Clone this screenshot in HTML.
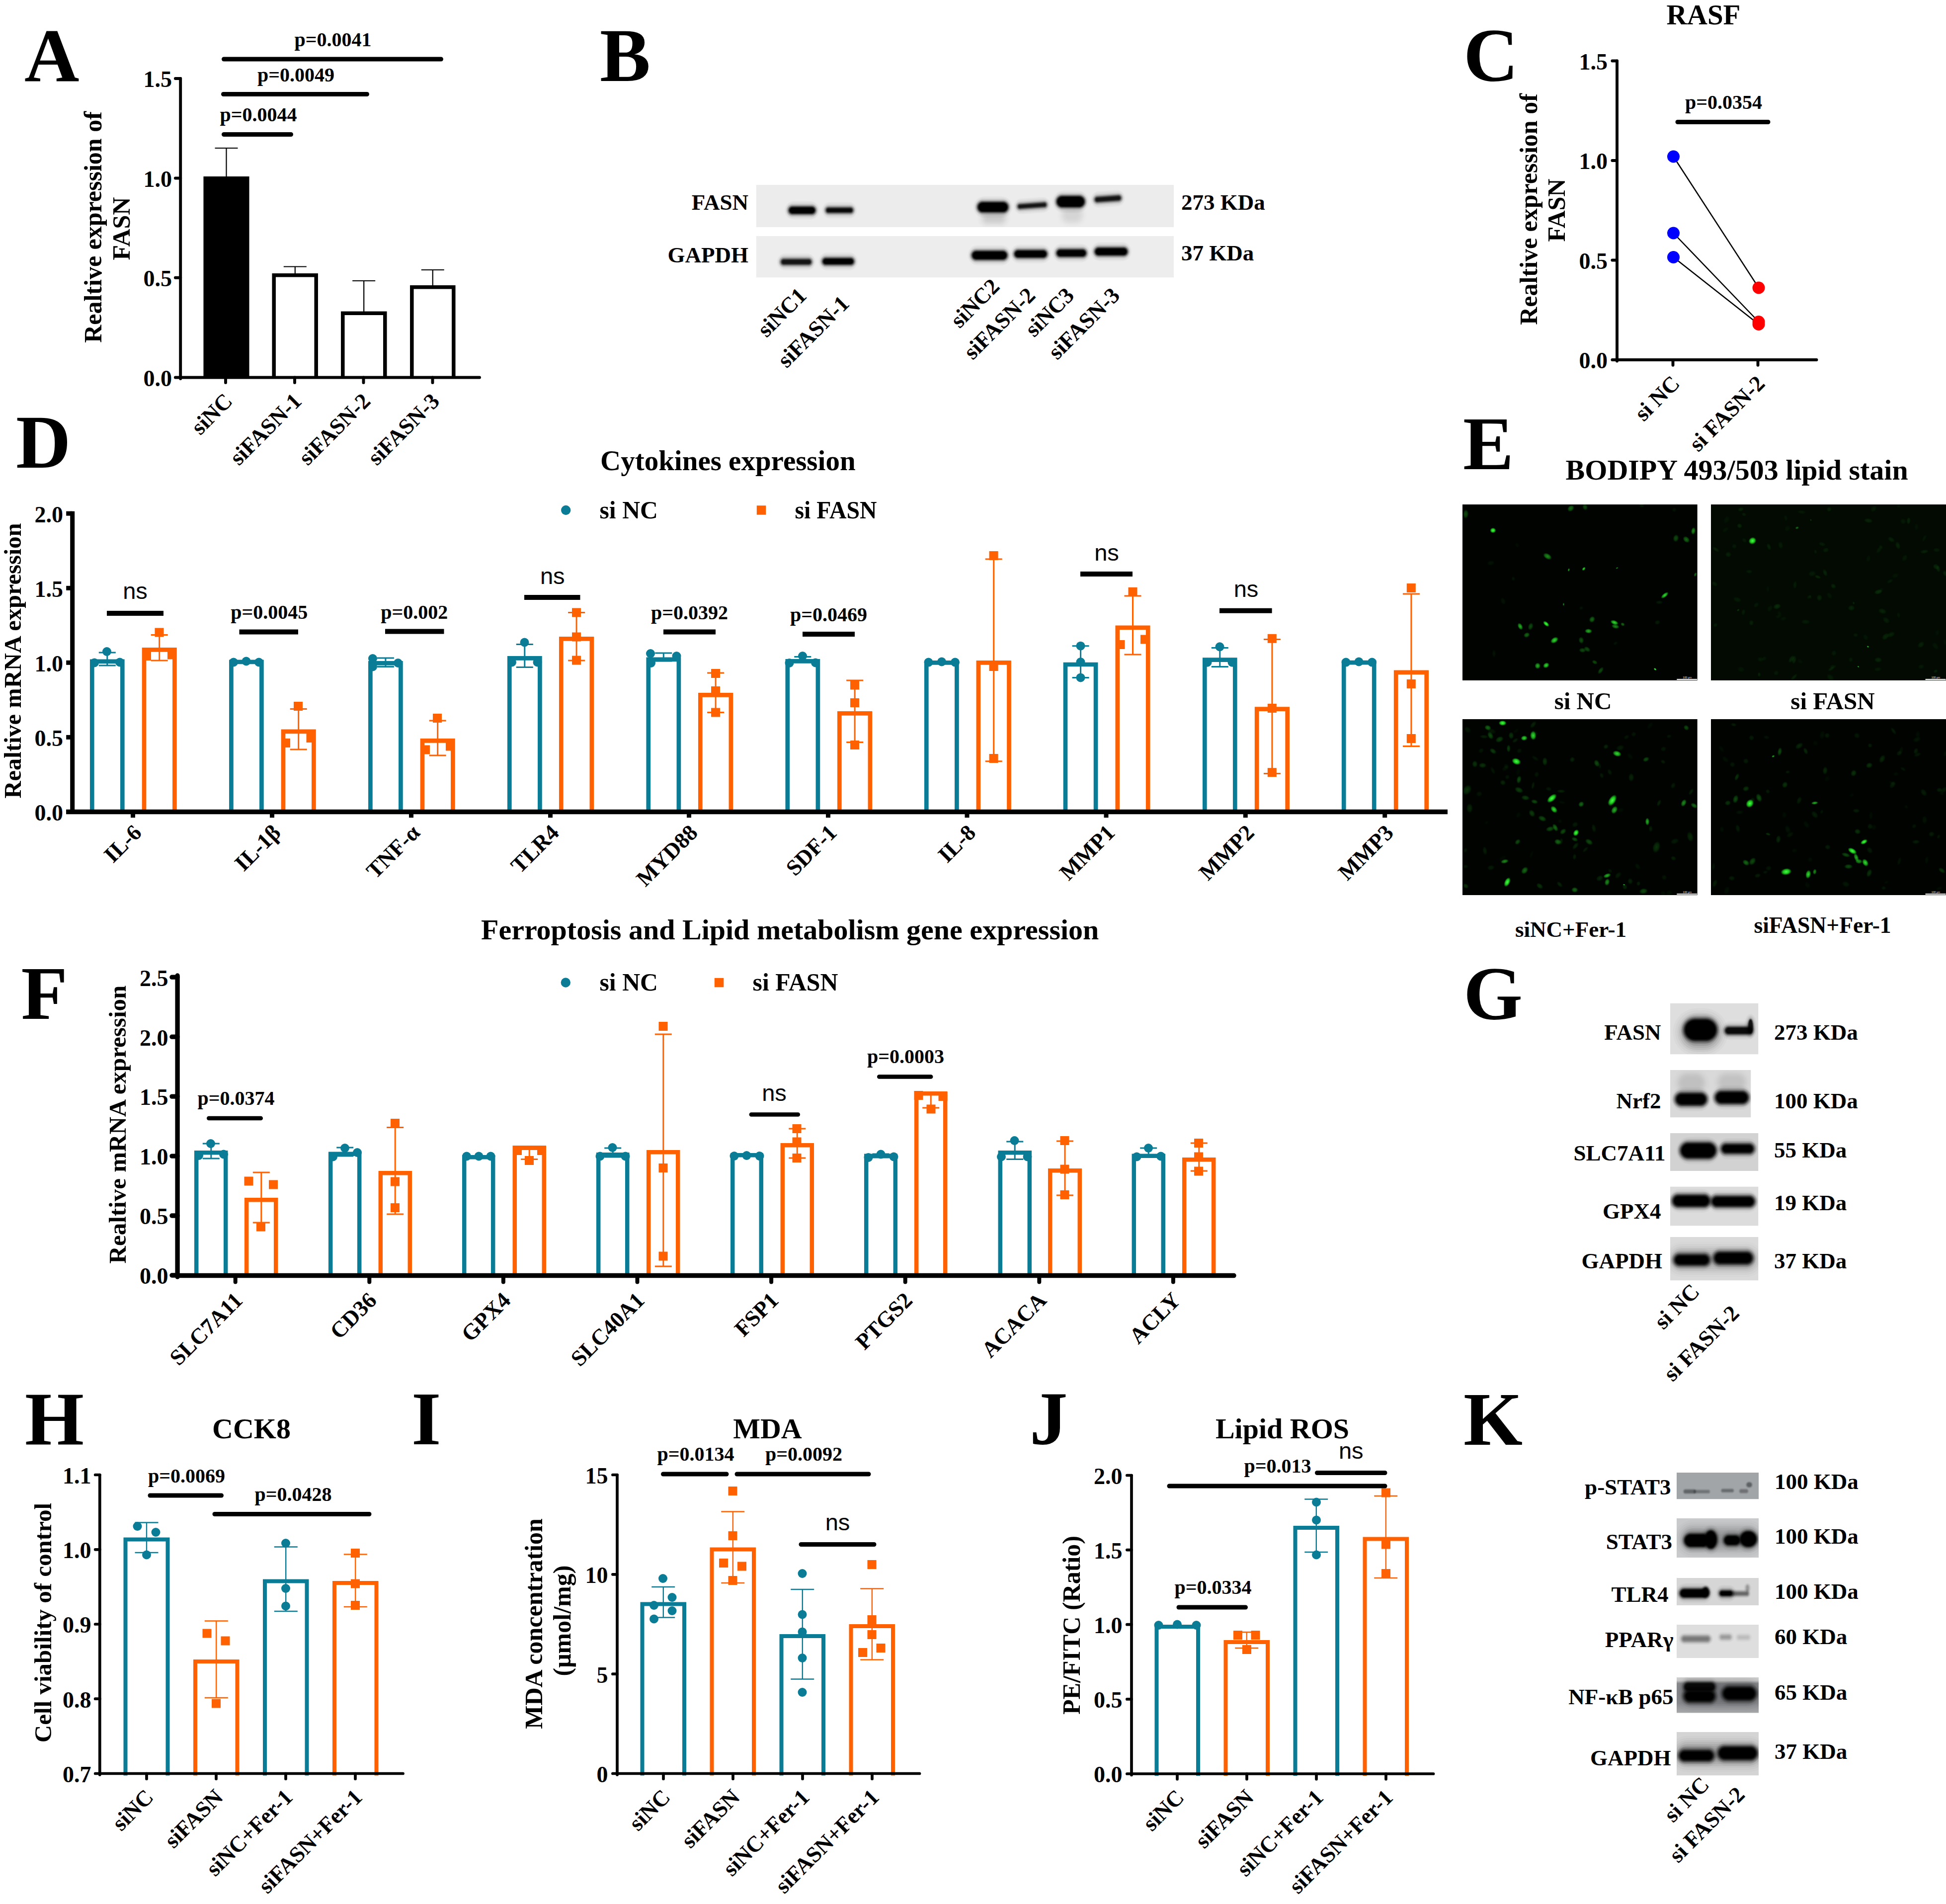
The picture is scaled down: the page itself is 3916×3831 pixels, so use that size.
<!DOCTYPE html>
<html lang="en">
<head>
<meta charset="utf-8">
<title>Figure: FASN knockdown in RASF</title>
<style>
html,body{margin:0;padding:0;background:#fff;}
body{width:3916px;height:3831px;overflow:hidden;}
svg{display:block;}
text.b{font-family:"Liberation Serif", "Times New Roman", serif;font-weight:bold;fill:#000;}
text.n{font-family:"Liberation Sans", Arial, sans-serif;font-weight:normal;fill:#000;}
</style>
</head>
<body>
<svg width="3916" height="3831" viewBox="0 0 3916 3831">
<defs>
<linearGradient id="gnf" x1="0" y1="0" x2="0" y2="1"><stop offset="0" stop-color="#d0d0d0"/><stop offset="0.09" stop-color="#cacaca"/><stop offset="0.17" stop-color="#8a8c8f"/><stop offset="0.72" stop-color="#8a8c8f"/><stop offset="1" stop-color="#a6a8aa"/></linearGradient>
<radialGradient id="cg"><stop offset="0" stop-color="#4dff4d" stop-opacity="1"/><stop offset="0.55" stop-color="#1fe01f" stop-opacity="0.85"/><stop offset="1" stop-color="#1fe01f" stop-opacity="0"/></radialGradient>
</defs>
<rect x="0" y="0" width="3916" height="3831" fill="#fff"/>
<text class="b" x="49.0" y="162.5" font-size="153">A</text>
<text class="b" x="1207.0" y="162.5" font-size="153">B</text>
<text class="b" x="2945.0" y="163.0" font-size="153">C</text>
<text class="b" x="32.0" y="941.0" font-size="153">D</text>
<text class="b" x="2944.0" y="943.5" font-size="153">E</text>
<text class="b" x="42.5" y="2049.6" font-size="153">F</text>
<text class="b" x="2945.0" y="2051.0" font-size="153">G</text>
<text class="b" x="50.0" y="2906.0" font-size="153">H</text>
<text class="b" x="828.0" y="2906.0" font-size="153">I</text>
<text class="b" x="2072.0" y="2906.0" font-size="153">J</text>
<text class="b" x="2945.0" y="2906.5" font-size="153">K</text>
<text class="b" x="203.5" y="457.0" font-size="50" text-anchor="middle" transform="rotate(-90 203.5 457.0)">Realtive expression of</text>
<text class="b" x="261.3" y="460.0" font-size="50" text-anchor="middle" transform="rotate(-90 261.3 460.0)">FASN</text>
<line x1="455.5" y1="298.0" x2="455.5" y2="357.0" stroke="#000" stroke-width="2.2"/>
<line x1="432.5" y1="298.0" x2="478.5" y2="298.0" stroke="#000" stroke-width="2.2"/>
<path d="M413.2 759.5V358.8H497.8V759.5" fill="#000" stroke="#000" stroke-width="7.5" stroke-linejoin="miter"/>
<line x1="593.8" y1="536.5" x2="593.8" y2="552.0" stroke="#000" stroke-width="2.2"/>
<line x1="570.8" y1="536.5" x2="616.8" y2="536.5" stroke="#000" stroke-width="2.2"/>
<path d="M551.2 759.5V553.8H636.2V759.5" fill="none" stroke="#000" stroke-width="7.5" stroke-linejoin="miter"/>
<line x1="732.2" y1="565.0" x2="732.2" y2="628.5" stroke="#000" stroke-width="2.2"/>
<line x1="709.2" y1="565.0" x2="755.2" y2="565.0" stroke="#000" stroke-width="2.2"/>
<path d="M689.8 759.5V630.2H774.8V759.5" fill="none" stroke="#000" stroke-width="7.5" stroke-linejoin="miter"/>
<line x1="870.8" y1="543.0" x2="870.8" y2="576.0" stroke="#000" stroke-width="2.2"/>
<line x1="847.8" y1="543.0" x2="893.8" y2="543.0" stroke="#000" stroke-width="2.2"/>
<path d="M828.8 759.5V577.8H912.8V759.5" fill="none" stroke="#000" stroke-width="7.5" stroke-linejoin="miter"/>
<line x1="363.2" y1="158.0" x2="363.2" y2="762.0" stroke="#000" stroke-width="5.9" stroke-linecap="round"/>
<line x1="352.9" y1="158.0" x2="363.2" y2="158.0" stroke="#000" stroke-width="5.9" stroke-linecap="round"/>
<text class="b" x="346.0" y="175.3" font-size="46" text-anchor="end">1.5</text>
<line x1="352.9" y1="358.5" x2="363.2" y2="358.5" stroke="#000" stroke-width="5.9" stroke-linecap="round"/>
<text class="b" x="346.0" y="375.8" font-size="46" text-anchor="end">1.0</text>
<line x1="352.9" y1="558.8" x2="363.2" y2="558.8" stroke="#000" stroke-width="5.9" stroke-linecap="round"/>
<text class="b" x="346.0" y="576.1" font-size="46" text-anchor="end">0.5</text>
<line x1="352.9" y1="759.5" x2="363.2" y2="759.5" stroke="#000" stroke-width="5.9" stroke-linecap="round"/>
<text class="b" x="346.0" y="776.8" font-size="46" text-anchor="end">0.0</text>
<line x1="363.2" y1="759.5" x2="965.0" y2="759.5" stroke="#000" stroke-width="5.9" stroke-linecap="round"/>
<line x1="454.0" y1="759.5" x2="454.0" y2="769.9" stroke="#000" stroke-width="5.9" stroke-linecap="round"/>
<line x1="593.0" y1="759.5" x2="593.0" y2="769.9" stroke="#000" stroke-width="5.9" stroke-linecap="round"/>
<line x1="731.5" y1="759.5" x2="731.5" y2="769.9" stroke="#000" stroke-width="5.9" stroke-linecap="round"/>
<line x1="870.5" y1="759.5" x2="870.5" y2="769.9" stroke="#000" stroke-width="5.9" stroke-linecap="round"/>
<line x1="450.5" y1="119.0" x2="887.5" y2="119.0" stroke="#000" stroke-width="9" stroke-linecap="round"/>
<text class="b" x="670.0" y="92.5" font-size="40" text-anchor="middle">p=0.0041</text>
<line x1="449.5" y1="189.5" x2="738.5" y2="189.5" stroke="#000" stroke-width="9" stroke-linecap="round"/>
<text class="b" x="595.5" y="163.5" font-size="40" text-anchor="middle">p=0.0049</text>
<line x1="450.5" y1="270.5" x2="585.5" y2="270.5" stroke="#000" stroke-width="9" stroke-linecap="round"/>
<text class="b" x="520.0" y="243.5" font-size="40" text-anchor="middle">p=0.0044</text>
<text class="b" x="470.3" y="809.8" font-size="45" text-anchor="end" transform="rotate(-45 470.3 809.8)">siNC</text>
<text class="b" x="609.3" y="809.8" font-size="45" text-anchor="end" transform="rotate(-45 609.3 809.8)">siFASN-1</text>
<text class="b" x="747.8" y="809.8" font-size="45" text-anchor="end" transform="rotate(-45 747.8 809.8)">siFASN-2</text>
<text class="b" x="886.8" y="809.8" font-size="45" text-anchor="end" transform="rotate(-45 886.8 809.8)">siFASN-3</text>
<svg x="1521.5" y="372.0" width="840.5" height="85.0" viewBox="1521.5 372.0 840.5 85.0">
<rect x="1521.5" y="372.0" width="840.5" height="85.0" fill="#ececec"/>
<g fill="#000"><rect x="1579.0" y="404.5" width="70.0" height="37.5" rx="18.8" fill-opacity="0.030"/><rect x="1581.1" y="407.5" width="65.8" height="31.5" rx="15.8" fill-opacity="0.045"/><rect x="1582.8" y="410.0" width="62.3" height="26.5" rx="13.2" fill-opacity="0.060"/><rect x="1582.4" y="410.9" width="63.2" height="24.7" rx="12.4" fill-opacity="0.060"/><rect x="1583.6" y="412.1" width="60.8" height="22.3" rx="11.1" fill-opacity="0.096"/><rect x="1584.8" y="413.3" width="58.4" height="19.9" rx="9.9" fill-opacity="0.153"/><rect x="1585.8" y="414.3" width="56.5" height="18.0" rx="9.0" fill-opacity="0.236"/><rect x="1586.8" y="415.3" width="54.3" height="15.8" rx="7.9" fill-opacity="0.327"/><rect x="1587.9" y="416.4" width="52.2" height="13.7" rx="6.8" fill-opacity="0.459"/><rect x="1589.0" y="417.5" width="50.0" height="11.5" rx="5.8" fill-opacity="0.600"/><rect x="1590.1" y="418.6" width="47.8" height="9.3" rx="4.7" fill-opacity="1.000"/></g>
<g fill="#000"><rect x="1654.0" y="406.5" width="70.5" height="33.0" rx="16.5" fill-opacity="0.030"/><rect x="1656.1" y="409.5" width="66.3" height="27.0" rx="13.5" fill-opacity="0.045"/><rect x="1657.8" y="412.0" width="62.8" height="22.0" rx="11.0" fill-opacity="0.060"/><rect x="1657.4" y="412.9" width="63.7" height="20.2" rx="10.1" fill-opacity="0.057"/><rect x="1658.6" y="414.1" width="61.3" height="17.8" rx="8.9" fill-opacity="0.091"/><rect x="1659.8" y="415.3" width="58.9" height="15.4" rx="7.7" fill-opacity="0.144"/><rect x="1660.8" y="416.3" width="57.0" height="13.5" rx="6.7" fill-opacity="0.220"/><rect x="1661.8" y="417.3" width="54.8" height="11.3" rx="5.7" fill-opacity="0.299"/><rect x="1662.9" y="418.4" width="52.7" height="9.2" rx="4.6" fill-opacity="0.402"/><rect x="1664.0" y="419.5" width="50.5" height="7.0" rx="3.5" fill-opacity="0.475"/><rect x="1665.1" y="420.6" width="48.3" height="4.8" rx="2.4" fill-opacity="0.603"/></g>
<g fill="#000"><rect x="1959.0" y="395.0" width="78.0" height="43.5" rx="21.8" fill-opacity="0.030"/><rect x="1961.1" y="398.0" width="73.8" height="37.5" rx="18.8" fill-opacity="0.045"/><rect x="1962.8" y="400.5" width="70.3" height="32.5" rx="16.2" fill-opacity="0.060"/><rect x="1962.4" y="401.4" width="71.2" height="30.7" rx="15.4" fill-opacity="0.060"/><rect x="1963.6" y="402.6" width="68.8" height="28.3" rx="14.1" fill-opacity="0.096"/><rect x="1964.8" y="403.8" width="66.4" height="25.9" rx="12.9" fill-opacity="0.153"/><rect x="1965.8" y="404.8" width="64.5" height="24.0" rx="12.0" fill-opacity="0.236"/><rect x="1966.8" y="405.8" width="62.3" height="21.8" rx="10.9" fill-opacity="0.327"/><rect x="1967.9" y="406.9" width="60.2" height="19.7" rx="9.8" fill-opacity="0.459"/><rect x="1969.0" y="408.0" width="58.0" height="17.5" rx="8.8" fill-opacity="0.600"/><rect x="1970.1" y="409.1" width="55.8" height="15.3" rx="7.7" fill-opacity="1.000"/></g>
<g fill="#000"><rect x="1966.0" y="416.0" width="68.0" height="45.0" rx="22.5" fill-opacity="0.007"/><rect x="1969.0" y="419.0" width="62.0" height="39.0" rx="19.5" fill-opacity="0.011"/><rect x="1972.0" y="422.0" width="56.0" height="33.0" rx="16.5" fill-opacity="0.016"/><rect x="1974.4" y="424.4" width="51.2" height="28.2" rx="14.1" fill-opacity="0.021"/><rect x="1977.1" y="427.1" width="45.8" height="22.8" rx="11.4" fill-opacity="0.023"/><rect x="1979.8" y="429.8" width="40.4" height="17.4" rx="8.7" fill-opacity="0.022"/><rect x="1982.5" y="432.5" width="35.0" height="12.0" rx="6.0" fill-opacity="0.016"/><rect x="1985.2" y="435.2" width="29.6" height="6.6" rx="3.3" fill-opacity="0.011"/></g>
<g fill="#000" transform="rotate(-4 2077.0 413.8)"><rect x="2040.0" y="398.0" width="74.0" height="31.5" rx="15.8" fill-opacity="0.030"/><rect x="2042.1" y="401.0" width="69.8" height="25.5" rx="12.8" fill-opacity="0.045"/><rect x="2043.8" y="403.5" width="66.3" height="20.5" rx="10.2" fill-opacity="0.060"/><rect x="2043.4" y="404.4" width="67.2" height="18.7" rx="9.4" fill-opacity="0.054"/><rect x="2044.6" y="405.6" width="64.8" height="16.3" rx="8.1" fill-opacity="0.086"/><rect x="2045.8" y="406.8" width="62.4" height="13.9" rx="6.9" fill-opacity="0.135"/><rect x="2046.8" y="407.8" width="60.5" height="12.0" rx="6.0" fill-opacity="0.205"/><rect x="2047.8" y="408.8" width="58.3" height="9.8" rx="4.9" fill-opacity="0.272"/><rect x="2048.9" y="409.9" width="56.2" height="7.7" rx="3.8" fill-opacity="0.353"/><rect x="2050.0" y="411.0" width="54.0" height="5.5" rx="2.8" fill-opacity="0.386"/><rect x="2051.1" y="412.1" width="51.8" height="3.3" rx="1.7" fill-opacity="0.419"/></g>
<g fill="#000"><rect x="2118.0" y="383.0" width="73.0" height="45.5" rx="22.8" fill-opacity="0.030"/><rect x="2120.1" y="386.0" width="68.8" height="39.5" rx="19.8" fill-opacity="0.045"/><rect x="2121.8" y="388.5" width="65.3" height="34.5" rx="17.2" fill-opacity="0.060"/><rect x="2121.4" y="389.4" width="66.2" height="32.7" rx="16.4" fill-opacity="0.060"/><rect x="2122.6" y="390.6" width="63.8" height="30.3" rx="15.1" fill-opacity="0.096"/><rect x="2123.8" y="391.8" width="61.4" height="27.9" rx="13.9" fill-opacity="0.153"/><rect x="2124.8" y="392.8" width="59.5" height="26.0" rx="13.0" fill-opacity="0.236"/><rect x="2125.8" y="393.8" width="57.3" height="23.8" rx="11.9" fill-opacity="0.327"/><rect x="2126.9" y="394.9" width="55.2" height="21.7" rx="10.8" fill-opacity="0.459"/><rect x="2128.0" y="396.0" width="53.0" height="19.5" rx="9.8" fill-opacity="0.600"/><rect x="2129.1" y="397.1" width="50.8" height="17.3" rx="8.7" fill-opacity="1.000"/></g>
<g fill="#000"><rect x="2126.0" y="406.0" width="63.0" height="53.0" rx="26.5" fill-opacity="0.005"/><rect x="2129.0" y="409.0" width="57.0" height="47.0" rx="23.5" fill-opacity="0.007"/><rect x="2132.0" y="412.0" width="51.0" height="41.0" rx="20.5" fill-opacity="0.011"/><rect x="2134.4" y="414.4" width="46.2" height="36.2" rx="18.1" fill-opacity="0.014"/><rect x="2137.1" y="417.1" width="40.8" height="30.8" rx="15.4" fill-opacity="0.015"/><rect x="2139.8" y="419.8" width="35.4" height="25.4" rx="12.7" fill-opacity="0.014"/><rect x="2142.5" y="422.5" width="30.0" height="20.0" rx="10.0" fill-opacity="0.010"/><rect x="2145.2" y="425.2" width="24.6" height="14.6" rx="7.3" fill-opacity="0.007"/></g>
<g fill="#000" transform="rotate(-4 2229.5 400.0)"><rect x="2195.0" y="383.5" width="69.0" height="33.0" rx="16.5" fill-opacity="0.030"/><rect x="2197.1" y="386.5" width="64.8" height="27.0" rx="13.5" fill-opacity="0.045"/><rect x="2198.8" y="389.0" width="61.3" height="22.0" rx="11.0" fill-opacity="0.060"/><rect x="2198.4" y="389.9" width="62.2" height="20.2" rx="10.1" fill-opacity="0.054"/><rect x="2199.6" y="391.1" width="59.8" height="17.8" rx="8.9" fill-opacity="0.086"/><rect x="2200.8" y="392.3" width="57.4" height="15.4" rx="7.7" fill-opacity="0.135"/><rect x="2201.8" y="393.3" width="55.5" height="13.5" rx="6.7" fill-opacity="0.205"/><rect x="2202.8" y="394.3" width="53.3" height="11.3" rx="5.7" fill-opacity="0.272"/><rect x="2203.9" y="395.4" width="51.2" height="9.2" rx="4.6" fill-opacity="0.353"/><rect x="2205.0" y="396.5" width="49.0" height="7.0" rx="3.5" fill-opacity="0.386"/><rect x="2206.1" y="397.6" width="46.8" height="4.8" rx="2.4" fill-opacity="0.419"/></g>
</svg>
<svg x="1521.5" y="475.0" width="840.5" height="83.5" viewBox="1521.5 475.0 840.5 83.5">
<rect x="1521.5" y="475.0" width="840.5" height="83.5" fill="#ededed"/>
<g fill="#000"><rect x="1563.5" y="510.0" width="77.5" height="34.0" rx="17.0" fill-opacity="0.030"/><rect x="1565.6" y="513.0" width="73.3" height="28.0" rx="14.0" fill-opacity="0.045"/><rect x="1567.3" y="515.5" width="69.8" height="23.0" rx="11.5" fill-opacity="0.060"/><rect x="1566.9" y="516.4" width="70.7" height="21.2" rx="10.6" fill-opacity="0.054"/><rect x="1568.1" y="517.6" width="68.3" height="18.8" rx="9.4" fill-opacity="0.086"/><rect x="1569.3" y="518.8" width="65.9" height="16.4" rx="8.2" fill-opacity="0.135"/><rect x="1570.3" y="519.8" width="64.0" height="14.5" rx="7.2" fill-opacity="0.205"/><rect x="1571.3" y="520.8" width="61.8" height="12.3" rx="6.2" fill-opacity="0.272"/><rect x="1572.4" y="521.9" width="59.7" height="10.2" rx="5.1" fill-opacity="0.353"/><rect x="1573.5" y="523.0" width="57.5" height="8.0" rx="4.0" fill-opacity="0.386"/><rect x="1574.6" y="524.1" width="55.3" height="5.8" rx="2.9" fill-opacity="0.419"/></g>
<g fill="#000"><rect x="1647.0" y="508.0" width="79.5" height="36.0" rx="18.0" fill-opacity="0.030"/><rect x="1649.1" y="511.0" width="75.3" height="30.0" rx="15.0" fill-opacity="0.045"/><rect x="1650.8" y="513.5" width="71.8" height="25.0" rx="12.5" fill-opacity="0.060"/><rect x="1650.4" y="514.4" width="72.7" height="23.2" rx="11.6" fill-opacity="0.060"/><rect x="1651.6" y="515.6" width="70.3" height="20.8" rx="10.4" fill-opacity="0.096"/><rect x="1652.8" y="516.8" width="67.9" height="18.4" rx="9.2" fill-opacity="0.153"/><rect x="1653.8" y="517.8" width="66.0" height="16.5" rx="8.2" fill-opacity="0.236"/><rect x="1654.8" y="518.8" width="63.8" height="14.3" rx="7.2" fill-opacity="0.327"/><rect x="1655.9" y="519.9" width="61.7" height="12.2" rx="6.1" fill-opacity="0.459"/><rect x="1657.0" y="521.0" width="59.5" height="10.0" rx="5.0" fill-opacity="0.600"/><rect x="1658.1" y="522.1" width="57.3" height="7.8" rx="3.9" fill-opacity="1.000"/></g>
<g fill="#000"><rect x="1947.5" y="493.5" width="87.5" height="40.5" rx="20.2" fill-opacity="0.030"/><rect x="1949.6" y="496.5" width="83.3" height="34.5" rx="17.2" fill-opacity="0.045"/><rect x="1951.3" y="499.0" width="79.8" height="29.5" rx="14.8" fill-opacity="0.060"/><rect x="1950.9" y="499.9" width="80.7" height="27.7" rx="13.9" fill-opacity="0.060"/><rect x="1952.1" y="501.1" width="78.3" height="25.3" rx="12.6" fill-opacity="0.096"/><rect x="1953.3" y="502.3" width="75.9" height="22.9" rx="11.5" fill-opacity="0.153"/><rect x="1954.3" y="503.3" width="74.0" height="21.0" rx="10.5" fill-opacity="0.236"/><rect x="1955.3" y="504.3" width="71.8" height="18.8" rx="9.4" fill-opacity="0.327"/><rect x="1956.4" y="505.4" width="69.7" height="16.7" rx="8.3" fill-opacity="0.459"/><rect x="1957.5" y="506.5" width="67.5" height="14.5" rx="7.2" fill-opacity="0.600"/><rect x="1958.6" y="507.6" width="65.3" height="12.3" rx="6.2" fill-opacity="1.000"/></g>
<g fill="#000"><rect x="2033.0" y="492.0" width="82.0" height="38.0" rx="19.0" fill-opacity="0.030"/><rect x="2035.1" y="495.0" width="77.8" height="32.0" rx="16.0" fill-opacity="0.045"/><rect x="2036.8" y="497.5" width="74.3" height="27.0" rx="13.5" fill-opacity="0.060"/><rect x="2036.4" y="498.4" width="75.2" height="25.2" rx="12.6" fill-opacity="0.060"/><rect x="2037.6" y="499.6" width="72.8" height="22.8" rx="11.4" fill-opacity="0.096"/><rect x="2038.8" y="500.8" width="70.4" height="20.4" rx="10.2" fill-opacity="0.153"/><rect x="2039.8" y="501.8" width="68.5" height="18.5" rx="9.2" fill-opacity="0.236"/><rect x="2040.8" y="502.8" width="66.3" height="16.3" rx="8.2" fill-opacity="0.327"/><rect x="2041.9" y="503.9" width="64.2" height="14.2" rx="7.1" fill-opacity="0.459"/><rect x="2043.0" y="505.0" width="62.0" height="12.0" rx="6.0" fill-opacity="0.600"/><rect x="2044.1" y="506.1" width="59.8" height="9.8" rx="4.9" fill-opacity="1.000"/></g>
<g fill="#000"><rect x="2118.0" y="490.5" width="76.0" height="37.5" rx="18.8" fill-opacity="0.030"/><rect x="2120.1" y="493.5" width="71.8" height="31.5" rx="15.8" fill-opacity="0.045"/><rect x="2121.8" y="496.0" width="68.3" height="26.5" rx="13.2" fill-opacity="0.060"/><rect x="2121.4" y="496.9" width="69.2" height="24.7" rx="12.4" fill-opacity="0.060"/><rect x="2122.6" y="498.1" width="66.8" height="22.3" rx="11.1" fill-opacity="0.096"/><rect x="2123.8" y="499.3" width="64.4" height="19.9" rx="10.0" fill-opacity="0.153"/><rect x="2124.8" y="500.3" width="62.5" height="18.0" rx="9.0" fill-opacity="0.236"/><rect x="2125.8" y="501.3" width="60.3" height="15.8" rx="7.9" fill-opacity="0.327"/><rect x="2126.9" y="502.4" width="58.2" height="13.7" rx="6.8" fill-opacity="0.459"/><rect x="2128.0" y="503.5" width="56.0" height="11.5" rx="5.8" fill-opacity="0.600"/><rect x="2129.1" y="504.6" width="53.8" height="9.3" rx="4.7" fill-opacity="1.000"/></g>
<g fill="#000"><rect x="2195.0" y="487.0" width="82.0" height="38.5" rx="19.2" fill-opacity="0.030"/><rect x="2197.1" y="490.0" width="77.8" height="32.5" rx="16.2" fill-opacity="0.045"/><rect x="2198.8" y="492.5" width="74.3" height="27.5" rx="13.8" fill-opacity="0.060"/><rect x="2198.4" y="493.4" width="75.2" height="25.7" rx="12.9" fill-opacity="0.060"/><rect x="2199.6" y="494.6" width="72.8" height="23.3" rx="11.6" fill-opacity="0.096"/><rect x="2200.8" y="495.8" width="70.4" height="20.9" rx="10.5" fill-opacity="0.153"/><rect x="2201.8" y="496.8" width="68.5" height="19.0" rx="9.5" fill-opacity="0.236"/><rect x="2202.8" y="497.8" width="66.3" height="16.8" rx="8.4" fill-opacity="0.327"/><rect x="2203.9" y="498.9" width="64.2" height="14.7" rx="7.3" fill-opacity="0.459"/><rect x="2205.0" y="500.0" width="62.0" height="12.5" rx="6.2" fill-opacity="0.600"/><rect x="2206.1" y="501.1" width="59.8" height="10.3" rx="5.2" fill-opacity="1.000"/></g>
</svg>
<text class="b" x="1506.0" y="422.0" font-size="45" text-anchor="end">FASN</text>
<text class="b" x="1506.0" y="528.0" font-size="45" text-anchor="end">GAPDH</text>
<text class="b" x="2377.0" y="422.0" font-size="45">273 KDa</text>
<text class="b" x="2377.0" y="524.0" font-size="45">37 KDa</text>
<text class="b" x="1625.5" y="597.5" font-size="45" text-anchor="end" transform="rotate(-45 1625.5 597.5)">siNC1</text>
<text class="b" x="1711.5" y="613.5" font-size="45" text-anchor="end" transform="rotate(-45 1711.5 613.5)">siFASN-1</text>
<text class="b" x="2014.0" y="579.0" font-size="45" text-anchor="end" transform="rotate(-45 2014.0 579.0)">siNC2</text>
<text class="b" x="2086.0" y="597.0" font-size="45" text-anchor="end" transform="rotate(-45 2086.0 597.0)">siFASN-2</text>
<text class="b" x="2164.0" y="597.0" font-size="45" text-anchor="end" transform="rotate(-45 2164.0 597.0)">siNC3</text>
<text class="b" x="2256.0" y="597.0" font-size="45" text-anchor="end" transform="rotate(-45 2256.0 597.0)">siFASN-3</text>
<line x1="3254.0" y1="122.5" x2="3254.0" y2="726.5" stroke="#000" stroke-width="5.9" stroke-linecap="round"/>
<line x1="3244.4" y1="122.5" x2="3254.0" y2="122.5" stroke="#000" stroke-width="5.9" stroke-linecap="round"/>
<text class="b" x="3235.0" y="139.8" font-size="46" text-anchor="end">1.5</text>
<line x1="3244.4" y1="323.0" x2="3254.0" y2="323.0" stroke="#000" stroke-width="5.9" stroke-linecap="round"/>
<text class="b" x="3235.0" y="340.3" font-size="46" text-anchor="end">1.0</text>
<line x1="3244.4" y1="523.5" x2="3254.0" y2="523.5" stroke="#000" stroke-width="5.9" stroke-linecap="round"/>
<text class="b" x="3235.0" y="540.8" font-size="46" text-anchor="end">0.5</text>
<line x1="3244.4" y1="724.0" x2="3254.0" y2="724.0" stroke="#000" stroke-width="5.9" stroke-linecap="round"/>
<text class="b" x="3235.0" y="741.3" font-size="46" text-anchor="end">0.0</text>
<line x1="3254.0" y1="724.0" x2="3655.5" y2="724.0" stroke="#000" stroke-width="5.9" stroke-linecap="round"/>
<line x1="3366.5" y1="724.0" x2="3366.5" y2="734.8" stroke="#000" stroke-width="5.9" stroke-linecap="round"/>
<line x1="3537.5" y1="724.0" x2="3537.5" y2="734.8" stroke="#000" stroke-width="5.9" stroke-linecap="round"/>
<text class="b" x="3428.0" y="49.0" font-size="57" text-anchor="middle">RASF</text>
<text class="b" x="3092.5" y="421.0" font-size="50" text-anchor="middle" transform="rotate(-90 3092.5 421.0)">Realtive expression of</text>
<text class="b" x="3149.0" y="423.0" font-size="50" text-anchor="middle" transform="rotate(-90 3149.0 423.0)">FASN</text>
<line x1="3376.0" y1="245.5" x2="3558.0" y2="245.5" stroke="#000" stroke-width="9" stroke-linecap="round"/>
<text class="b" x="3468.5" y="218.5" font-size="40" text-anchor="middle">p=0.0354</text>
<line x1="3367.5" y1="315.0" x2="3539.0" y2="579.0" stroke="#000" stroke-width="2.5"/>
<line x1="3367.5" y1="469.0" x2="3539.0" y2="647.5" stroke="#000" stroke-width="2.5"/>
<line x1="3367.5" y1="517.5" x2="3539.0" y2="652.5" stroke="#000" stroke-width="2.5"/>
<circle cx="3367.5" cy="315.0" r="12.5" fill="#0000FF"/>
<circle cx="3367.5" cy="469.0" r="12.5" fill="#0000FF"/>
<circle cx="3367.5" cy="517.5" r="12.5" fill="#0000FF"/>
<circle cx="3539.0" cy="579.0" r="12.5" fill="#FF0000"/>
<circle cx="3539.0" cy="647.5" r="12.5" fill="#FF0000"/>
<circle cx="3539.0" cy="652.5" r="12.5" fill="#FF0000"/>
<text class="b" x="3382.8" y="774.3" font-size="45" text-anchor="end" transform="rotate(-45 3382.8 774.3)">si NC</text>
<text class="b" x="3553.8" y="774.3" font-size="45" text-anchor="end" transform="rotate(-45 3553.8 774.3)">si FASN-2</text>
<text class="b" x="1208.0" y="945.5" font-size="57">Cytokines expression</text>
<circle cx="1138.7" cy="1026.5" r="9.7" fill="#0A7C96"/>
<text class="b" x="1206.5" y="1042.5" font-size="50" textLength="117.5" lengthAdjust="spacingAndGlyphs">si NC</text>
<rect x="1522.8" y="1017.2" width="18.5" height="18.5" fill="#FF6100"/>
<text class="b" x="1599.5" y="1042.5" font-size="50" textLength="165" lengthAdjust="spacingAndGlyphs">si FASN</text>
<text class="b" x="41.8" y="1329.5" font-size="48.5" text-anchor="middle" transform="rotate(-90 41.8 1329.5)">Realtive mRNA expression</text>
<path d="M185.3 1633.5V1330.8H246.3V1633.5" fill="none" stroke="#0A7C96" stroke-width="8.7" stroke-linejoin="miter"/>
<line x1="215.8" y1="1313.0" x2="215.8" y2="1339.0" stroke="#0A7C96" stroke-width="3"/>
<line x1="198.8" y1="1313.0" x2="232.8" y2="1313.0" stroke="#0A7C96" stroke-width="3"/>
<line x1="198.8" y1="1339.0" x2="232.8" y2="1339.0" stroke="#0A7C96" stroke-width="3"/>
<circle cx="190.0" cy="1333.5" r="9" fill="#0A7C96"/>
<circle cx="215.0" cy="1311.0" r="9" fill="#0A7C96"/>
<circle cx="241.0" cy="1332.5" r="9" fill="#0A7C96"/>
<path d="M290.0 1633.5V1307.3H351.4V1633.5" fill="none" stroke="#FF6100" stroke-width="8.7" stroke-linejoin="miter"/>
<line x1="320.7" y1="1277.5" x2="320.7" y2="1329.0" stroke="#FF6100" stroke-width="3"/>
<line x1="303.7" y1="1277.5" x2="337.7" y2="1277.5" stroke="#FF6100" stroke-width="3"/>
<line x1="303.7" y1="1329.0" x2="337.7" y2="1329.0" stroke="#FF6100" stroke-width="3"/>
<rect x="311.5" y="1263.5" width="18.0" height="18.0" fill="#FF6100"/>
<rect x="286.0" y="1311.0" width="18.0" height="18.0" fill="#FF6100"/>
<rect x="337.0" y="1308.5" width="18.0" height="18.0" fill="#FF6100"/>
<path d="M465.4 1633.5V1331.8H526.4V1633.5" fill="none" stroke="#0A7C96" stroke-width="8.7" stroke-linejoin="miter"/>
<circle cx="470.0" cy="1332.5" r="9" fill="#0A7C96"/>
<circle cx="495.5" cy="1330.5" r="9" fill="#0A7C96"/>
<circle cx="521.0" cy="1332.5" r="9" fill="#0A7C96"/>
<path d="M570.0 1633.5V1471.8H631.4V1633.5" fill="none" stroke="#FF6100" stroke-width="8.7" stroke-linejoin="miter"/>
<line x1="600.7" y1="1426.5" x2="600.7" y2="1508.0" stroke="#FF6100" stroke-width="3"/>
<line x1="583.7" y1="1426.5" x2="617.7" y2="1426.5" stroke="#FF6100" stroke-width="3"/>
<line x1="583.7" y1="1508.0" x2="617.7" y2="1508.0" stroke="#FF6100" stroke-width="3"/>
<rect x="591.0" y="1412.0" width="18.0" height="18.0" fill="#FF6100"/>
<rect x="566.0" y="1486.0" width="18.0" height="18.0" fill="#FF6100"/>
<rect x="616.5" y="1476.0" width="18.0" height="18.0" fill="#FF6100"/>
<path d="M745.4 1633.5V1334.3H806.4V1633.5" fill="none" stroke="#0A7C96" stroke-width="8.7" stroke-linejoin="miter"/>
<line x1="775.9" y1="1324.0" x2="775.9" y2="1341.5" stroke="#0A7C96" stroke-width="3"/>
<line x1="758.9" y1="1324.0" x2="792.9" y2="1324.0" stroke="#0A7C96" stroke-width="3"/>
<line x1="758.9" y1="1341.5" x2="792.9" y2="1341.5" stroke="#0A7C96" stroke-width="3"/>
<circle cx="750.0" cy="1325.0" r="9" fill="#0A7C96"/>
<circle cx="750.0" cy="1341.5" r="9" fill="#0A7C96"/>
<circle cx="801.0" cy="1334.0" r="9" fill="#0A7C96"/>
<path d="M850.0 1633.5V1490.3H911.4V1633.5" fill="none" stroke="#FF6100" stroke-width="8.7" stroke-linejoin="miter"/>
<line x1="880.7" y1="1450.0" x2="880.7" y2="1520.0" stroke="#FF6100" stroke-width="3"/>
<line x1="863.7" y1="1450.0" x2="897.7" y2="1450.0" stroke="#FF6100" stroke-width="3"/>
<line x1="863.7" y1="1520.0" x2="897.7" y2="1520.0" stroke="#FF6100" stroke-width="3"/>
<rect x="871.0" y="1436.0" width="18.0" height="18.0" fill="#FF6100"/>
<rect x="847.0" y="1499.5" width="18.0" height="18.0" fill="#FF6100"/>
<rect x="897.0" y="1492.5" width="18.0" height="18.0" fill="#FF6100"/>
<path d="M1025.3 1633.5V1324.3H1086.4V1633.5" fill="none" stroke="#0A7C96" stroke-width="8.7" stroke-linejoin="miter"/>
<line x1="1055.8" y1="1296.5" x2="1055.8" y2="1342.5" stroke="#0A7C96" stroke-width="3"/>
<line x1="1038.8" y1="1296.5" x2="1072.8" y2="1296.5" stroke="#0A7C96" stroke-width="3"/>
<line x1="1038.8" y1="1342.5" x2="1072.8" y2="1342.5" stroke="#0A7C96" stroke-width="3"/>
<circle cx="1055.5" cy="1292.5" r="9" fill="#0A7C96"/>
<circle cx="1030.0" cy="1332.5" r="9" fill="#0A7C96"/>
<circle cx="1081.5" cy="1332.5" r="9" fill="#0A7C96"/>
<path d="M1129.3 1633.5V1285.3H1190.9V1633.5" fill="none" stroke="#FF6100" stroke-width="8.7" stroke-linejoin="miter"/>
<line x1="1160.1" y1="1232.5" x2="1160.1" y2="1329.0" stroke="#FF6100" stroke-width="3"/>
<line x1="1143.1" y1="1232.5" x2="1177.1" y2="1232.5" stroke="#FF6100" stroke-width="3"/>
<line x1="1143.1" y1="1329.0" x2="1177.1" y2="1329.0" stroke="#FF6100" stroke-width="3"/>
<rect x="1151.0" y="1223.5" width="18.0" height="18.0" fill="#FF6100"/>
<rect x="1151.0" y="1272.5" width="18.0" height="18.0" fill="#FF6100"/>
<rect x="1151.0" y="1319.5" width="18.0" height="18.0" fill="#FF6100"/>
<path d="M1304.8 1633.5V1326.8H1365.9V1633.5" fill="none" stroke="#0A7C96" stroke-width="8.7" stroke-linejoin="miter"/>
<line x1="1335.3" y1="1314.0" x2="1335.3" y2="1330.0" stroke="#0A7C96" stroke-width="3"/>
<line x1="1318.3" y1="1314.0" x2="1352.3" y2="1314.0" stroke="#0A7C96" stroke-width="3"/>
<line x1="1318.3" y1="1330.0" x2="1352.3" y2="1330.0" stroke="#0A7C96" stroke-width="3"/>
<circle cx="1309.0" cy="1315.0" r="9" fill="#0A7C96"/>
<circle cx="1310.0" cy="1334.0" r="9" fill="#0A7C96"/>
<circle cx="1361.5" cy="1320.0" r="9" fill="#0A7C96"/>
<path d="M1409.3 1633.5V1398.3H1470.9V1633.5" fill="none" stroke="#FF6100" stroke-width="8.7" stroke-linejoin="miter"/>
<line x1="1440.1" y1="1354.0" x2="1440.1" y2="1433.5" stroke="#FF6100" stroke-width="3"/>
<line x1="1423.1" y1="1354.0" x2="1457.1" y2="1354.0" stroke="#FF6100" stroke-width="3"/>
<line x1="1423.1" y1="1433.5" x2="1457.1" y2="1433.5" stroke="#FF6100" stroke-width="3"/>
<rect x="1431.0" y="1346.0" width="18.0" height="18.0" fill="#FF6100"/>
<rect x="1431.0" y="1381.0" width="18.0" height="18.0" fill="#FF6100"/>
<rect x="1431.0" y="1424.5" width="18.0" height="18.0" fill="#FF6100"/>
<path d="M1584.8 1633.5V1330.3H1645.9V1633.5" fill="none" stroke="#0A7C96" stroke-width="8.7" stroke-linejoin="miter"/>
<line x1="1615.3" y1="1321.5" x2="1615.3" y2="1332.5" stroke="#0A7C96" stroke-width="3"/>
<line x1="1598.3" y1="1321.5" x2="1632.3" y2="1321.5" stroke="#0A7C96" stroke-width="3"/>
<line x1="1598.3" y1="1332.5" x2="1632.3" y2="1332.5" stroke="#0A7C96" stroke-width="3"/>
<circle cx="1588.5" cy="1334.0" r="9" fill="#0A7C96"/>
<circle cx="1615.0" cy="1320.0" r="9" fill="#0A7C96"/>
<circle cx="1641.0" cy="1333.5" r="9" fill="#0A7C96"/>
<path d="M1689.3 1633.5V1435.3H1750.9V1633.5" fill="none" stroke="#FF6100" stroke-width="8.7" stroke-linejoin="miter"/>
<line x1="1720.1" y1="1369.0" x2="1720.1" y2="1493.5" stroke="#FF6100" stroke-width="3"/>
<line x1="1703.1" y1="1369.0" x2="1737.1" y2="1369.0" stroke="#FF6100" stroke-width="3"/>
<line x1="1703.1" y1="1493.5" x2="1737.1" y2="1493.5" stroke="#FF6100" stroke-width="3"/>
<rect x="1711.0" y="1369.5" width="18.0" height="18.0" fill="#FF6100"/>
<rect x="1711.0" y="1405.0" width="18.0" height="18.0" fill="#FF6100"/>
<rect x="1711.0" y="1490.0" width="18.0" height="18.0" fill="#FF6100"/>
<path d="M1864.3 1633.5V1333.3H1925.4V1633.5" fill="none" stroke="#0A7C96" stroke-width="8.7" stroke-linejoin="miter"/>
<circle cx="1868.5" cy="1332.6" r="9" fill="#0A7C96"/>
<circle cx="1895.0" cy="1331.5" r="9" fill="#0A7C96"/>
<circle cx="1922.0" cy="1332.6" r="9" fill="#0A7C96"/>
<path d="M1968.9 1633.5V1333.3H2030.5V1633.5" fill="none" stroke="#FF6100" stroke-width="8.7" stroke-linejoin="miter"/>
<line x1="1999.7" y1="1125.0" x2="1999.7" y2="1531.7" stroke="#FF6100" stroke-width="3"/>
<line x1="1982.7" y1="1125.0" x2="2016.7" y2="1125.0" stroke="#FF6100" stroke-width="3"/>
<line x1="1982.7" y1="1531.7" x2="2016.7" y2="1531.7" stroke="#FF6100" stroke-width="3"/>
<rect x="1990.6" y="1109.0" width="18.0" height="18.0" fill="#FF6100"/>
<rect x="1990.6" y="1332.0" width="18.0" height="18.0" fill="#FF6100"/>
<rect x="1990.6" y="1517.0" width="18.0" height="18.0" fill="#FF6100"/>
<path d="M2144.0 1633.5V1337.0H2205.1V1633.5" fill="none" stroke="#0A7C96" stroke-width="8.7" stroke-linejoin="miter"/>
<line x1="2174.6" y1="1299.7" x2="2174.6" y2="1363.4" stroke="#0A7C96" stroke-width="3"/>
<line x1="2157.6" y1="1299.7" x2="2191.6" y2="1299.7" stroke="#0A7C96" stroke-width="3"/>
<line x1="2157.6" y1="1363.4" x2="2191.6" y2="1363.4" stroke="#0A7C96" stroke-width="3"/>
<circle cx="2174.5" cy="1299.7" r="9" fill="#0A7C96"/>
<circle cx="2174.5" cy="1332.0" r="9" fill="#0A7C96"/>
<circle cx="2174.5" cy="1363.4" r="9" fill="#0A7C96"/>
<path d="M2248.8 1633.5V1262.8H2310.2V1633.5" fill="none" stroke="#FF6100" stroke-width="8.7" stroke-linejoin="miter"/>
<line x1="2279.5" y1="1199.0" x2="2279.5" y2="1317.0" stroke="#FF6100" stroke-width="3"/>
<line x1="2262.5" y1="1199.0" x2="2296.5" y2="1199.0" stroke="#FF6100" stroke-width="3"/>
<line x1="2262.5" y1="1317.0" x2="2296.5" y2="1317.0" stroke="#FF6100" stroke-width="3"/>
<rect x="2270.5" y="1181.8" width="18.0" height="18.0" fill="#FF6100"/>
<rect x="2245.5" y="1288.0" width="18.0" height="18.0" fill="#FF6100"/>
<rect x="2295.0" y="1277.5" width="18.0" height="18.0" fill="#FF6100"/>
<path d="M2424.3 1633.5V1327.6H2485.3V1633.5" fill="none" stroke="#0A7C96" stroke-width="8.7" stroke-linejoin="miter"/>
<line x1="2454.8" y1="1303.5" x2="2454.8" y2="1341.5" stroke="#0A7C96" stroke-width="3"/>
<line x1="2437.8" y1="1303.5" x2="2471.8" y2="1303.5" stroke="#0A7C96" stroke-width="3"/>
<line x1="2437.8" y1="1341.5" x2="2471.8" y2="1341.5" stroke="#0A7C96" stroke-width="3"/>
<circle cx="2454.5" cy="1301.3" r="9" fill="#0A7C96"/>
<circle cx="2429.5" cy="1332.7" r="9" fill="#0A7C96"/>
<circle cx="2479.5" cy="1332.7" r="9" fill="#0A7C96"/>
<path d="M2529.2 1633.5V1426.6H2590.7V1633.5" fill="none" stroke="#FF6100" stroke-width="8.7" stroke-linejoin="miter"/>
<line x1="2559.9" y1="1286.5" x2="2559.9" y2="1556.4" stroke="#FF6100" stroke-width="3"/>
<line x1="2542.9" y1="1286.5" x2="2576.9" y2="1286.5" stroke="#FF6100" stroke-width="3"/>
<line x1="2542.9" y1="1556.4" x2="2576.9" y2="1556.4" stroke="#FF6100" stroke-width="3"/>
<rect x="2550.8" y="1275.8" width="18.0" height="18.0" fill="#FF6100"/>
<rect x="2550.8" y="1416.0" width="18.0" height="18.0" fill="#FF6100"/>
<rect x="2550.8" y="1545.2" width="18.0" height="18.0" fill="#FF6100"/>
<path d="M2704.2 1633.5V1333.1H2765.2V1633.5" fill="none" stroke="#0A7C96" stroke-width="8.7" stroke-linejoin="miter"/>
<circle cx="2708.5" cy="1332.6" r="9" fill="#0A7C96"/>
<circle cx="2734.5" cy="1331.5" r="9" fill="#0A7C96"/>
<circle cx="2761.0" cy="1332.6" r="9" fill="#0A7C96"/>
<path d="M2809.2 1633.5V1352.9H2870.7V1633.5" fill="none" stroke="#FF6100" stroke-width="8.7" stroke-linejoin="miter"/>
<line x1="2839.9" y1="1195.0" x2="2839.9" y2="1501.5" stroke="#FF6100" stroke-width="3"/>
<line x1="2822.9" y1="1195.0" x2="2856.9" y2="1195.0" stroke="#FF6100" stroke-width="3"/>
<line x1="2822.9" y1="1501.5" x2="2856.9" y2="1501.5" stroke="#FF6100" stroke-width="3"/>
<rect x="2830.8" y="1174.0" width="18.0" height="18.0" fill="#FF6100"/>
<rect x="2830.8" y="1367.0" width="18.0" height="18.0" fill="#FF6100"/>
<rect x="2830.8" y="1477.0" width="18.0" height="18.0" fill="#FF6100"/>
<line x1="145.7" y1="1028.7" x2="145.7" y2="1633.5" stroke="#000" stroke-width="9"/>
<line x1="133.2" y1="1033.2" x2="145.7" y2="1033.2" stroke="#000" stroke-width="9"/>
<text class="b" x="127.0" y="1050.5" font-size="46" text-anchor="end">2.0</text>
<line x1="133.2" y1="1183.3" x2="145.7" y2="1183.3" stroke="#000" stroke-width="9"/>
<text class="b" x="127.0" y="1200.6" font-size="46" text-anchor="end">1.5</text>
<line x1="133.2" y1="1333.3" x2="145.7" y2="1333.3" stroke="#000" stroke-width="9"/>
<text class="b" x="127.0" y="1350.6" font-size="46" text-anchor="end">1.0</text>
<line x1="133.2" y1="1483.4" x2="145.7" y2="1483.4" stroke="#000" stroke-width="9"/>
<text class="b" x="127.0" y="1500.7" font-size="46" text-anchor="end">0.5</text>
<line x1="133.2" y1="1633.5" x2="145.7" y2="1633.5" stroke="#000" stroke-width="9"/>
<text class="b" x="127.0" y="1650.8" font-size="46" text-anchor="end">0.0</text>
<line x1="133.2" y1="1633.5" x2="2913.0" y2="1633.5" stroke="#000" stroke-width="9.5"/>
<line x1="267.5" y1="1633.5" x2="267.5" y2="1645.2" stroke="#000" stroke-width="9"/>
<line x1="547.5" y1="1633.5" x2="547.5" y2="1645.2" stroke="#000" stroke-width="9"/>
<line x1="827.5" y1="1633.5" x2="827.5" y2="1645.2" stroke="#000" stroke-width="9"/>
<line x1="1107.5" y1="1633.5" x2="1107.5" y2="1645.2" stroke="#000" stroke-width="9"/>
<line x1="1386.5" y1="1633.5" x2="1386.5" y2="1645.2" stroke="#000" stroke-width="9"/>
<line x1="1666.5" y1="1633.5" x2="1666.5" y2="1645.2" stroke="#000" stroke-width="9"/>
<line x1="1946.0" y1="1633.5" x2="1946.0" y2="1645.2" stroke="#000" stroke-width="9"/>
<line x1="2226.0" y1="1633.5" x2="2226.0" y2="1645.2" stroke="#000" stroke-width="9"/>
<line x1="2506.3" y1="1633.5" x2="2506.3" y2="1645.2" stroke="#000" stroke-width="9"/>
<line x1="2786.7" y1="1633.5" x2="2786.7" y2="1645.2" stroke="#000" stroke-width="9"/>
<text class="n" x="272.0" y="1205.0" font-size="47" text-anchor="middle">ns</text>
<line x1="215.0" y1="1234.0" x2="329.0" y2="1234.0" stroke="#000" stroke-width="10"/>
<text class="b" x="541.8" y="1245.0" font-size="40" text-anchor="middle">p=0.0045</text>
<line x1="481.5" y1="1271.5" x2="600.0" y2="1271.5" stroke="#000" stroke-width="10"/>
<text class="b" x="833.8" y="1245.0" font-size="40" text-anchor="middle">p=0.002</text>
<line x1="775.0" y1="1270.5" x2="893.5" y2="1270.5" stroke="#000" stroke-width="10"/>
<text class="n" x="1111.8" y="1175.0" font-size="47" text-anchor="middle">ns</text>
<line x1="1055.0" y1="1202.0" x2="1167.5" y2="1202.0" stroke="#000" stroke-width="10"/>
<text class="b" x="1387.5" y="1246.0" font-size="40" text-anchor="middle">p=0.0392</text>
<line x1="1335.0" y1="1271.5" x2="1440.0" y2="1271.5" stroke="#000" stroke-width="10"/>
<text class="b" x="1667.5" y="1250.0" font-size="40" text-anchor="middle">p=0.0469</text>
<line x1="1615.0" y1="1276.0" x2="1720.0" y2="1276.0" stroke="#000" stroke-width="10"/>
<text class="n" x="2227.0" y="1127.6" font-size="47" text-anchor="middle">ns</text>
<line x1="2174.0" y1="1155.0" x2="2279.0" y2="1155.0" stroke="#000" stroke-width="10"/>
<text class="n" x="2507.5" y="1200.7" font-size="47" text-anchor="middle">ns</text>
<line x1="2454.0" y1="1228.7" x2="2559.6" y2="1228.7" stroke="#000" stroke-width="10"/>
<text class="b" x="287.5" y="1678.0" font-size="45" text-anchor="end" transform="rotate(-45 287.5 1678.0)">IL-6</text>
<text class="b" x="567.5" y="1678.0" font-size="45" text-anchor="end" transform="rotate(-45 567.5 1678.0)">IL-1β</text>
<text class="b" x="847.5" y="1678.0" font-size="45" text-anchor="end" transform="rotate(-45 847.5 1678.0)">TNF-α</text>
<text class="b" x="1127.5" y="1678.0" font-size="45" text-anchor="end" transform="rotate(-45 1127.5 1678.0)">TLR4</text>
<text class="b" x="1406.5" y="1678.0" font-size="45" text-anchor="end" transform="rotate(-45 1406.5 1678.0)">MYD88</text>
<text class="b" x="1686.5" y="1678.0" font-size="45" text-anchor="end" transform="rotate(-45 1686.5 1678.0)">SDF-1</text>
<text class="b" x="1966.0" y="1678.0" font-size="45" text-anchor="end" transform="rotate(-45 1966.0 1678.0)">IL-8</text>
<text class="b" x="2246.0" y="1678.0" font-size="45" text-anchor="end" transform="rotate(-45 2246.0 1678.0)">MMP1</text>
<text class="b" x="2526.3" y="1678.0" font-size="45" text-anchor="end" transform="rotate(-45 2526.3 1678.0)">MMP2</text>
<text class="b" x="2806.7" y="1678.0" font-size="45" text-anchor="end" transform="rotate(-45 2806.7 1678.0)">MMP3</text>
<text class="b" x="3150.6" y="965.3" font-size="58">BODIPY 493/503 lipid stain</text>
<svg x="2942.8" y="1015.0" width="473.0" height="354.0" viewBox="0 0 473.0 354.0">
<rect x="0.0" y="0.0" width="473.0" height="354.0" fill="#000300"/>
<g fill="url(#cg)"><ellipse cx="63.6" cy="300.0" rx="8.3" ry="4.1" opacity="0.06" transform="rotate(89 63.6 300.0)"/><ellipse cx="308.2" cy="279.2" rx="5.2" ry="3.5" opacity="0.06" transform="rotate(150 308.2 279.2)"/><ellipse cx="360.6" cy="0.7" rx="6.8" ry="5.3" opacity="0.10" transform="rotate(41 360.6 0.7)"/><ellipse cx="426.4" cy="10.8" rx="4.8" ry="4.8" opacity="0.06" transform="rotate(169 426.4 10.8)"/><ellipse cx="102.5" cy="149.4" rx="4.9" ry="4.0" opacity="0.06" transform="rotate(79 102.5 149.4)"/><ellipse cx="110.2" cy="81.7" rx="5.8" ry="4.6" opacity="0.03" transform="rotate(52 110.2 81.7)"/><ellipse cx="396.2" cy="197.0" rx="7.8" ry="3.9" opacity="0.09" transform="rotate(179 396.2 197.0)"/><ellipse cx="57.2" cy="117.8" rx="8.1" ry="5.3" opacity="0.06" transform="rotate(169 57.2 117.8)"/><ellipse cx="392.6" cy="237.3" rx="6.2" ry="5.0" opacity="0.09" transform="rotate(159 392.6 237.3)"/><ellipse cx="239.0" cy="208.5" rx="4.9" ry="4.0" opacity="0.06" transform="rotate(144 239.0 208.5)"/><ellipse cx="81.8" cy="194.3" rx="8.0" ry="5.2" opacity="0.06" transform="rotate(67 81.8 194.3)"/><ellipse cx="240.5" cy="275.6" rx="7.2" ry="4.4" opacity="0.03" transform="rotate(88 240.5 275.6)"/><ellipse cx="61.6" cy="52.2" rx="6.2" ry="5.5" opacity="1.00" transform="rotate(177 61.6 52.2)"/><ellipse cx="171.2" cy="104.4" rx="9.7" ry="5.8" opacity="0.51" transform="rotate(31 171.2 104.4)"/><ellipse cx="218.2" cy="7.8" rx="7.8" ry="6.0" opacity="0.38" transform="rotate(139 218.2 7.8)"/><ellipse cx="450.6" cy="70.5" rx="7.9" ry="5.8" opacity="0.38" transform="rotate(42 450.6 70.5)"/><ellipse cx="429.7" cy="67.9" rx="7.8" ry="6.0" opacity="0.27" transform="rotate(104 429.7 67.9)"/><ellipse cx="464.7" cy="53.3" rx="7.6" ry="4.6" opacity="0.51" transform="rotate(99 464.7 53.3)"/><ellipse cx="407.2" cy="182.7" rx="9.3" ry="4.1" opacity="0.82" transform="rotate(141 407.2 182.7)"/><ellipse cx="244.3" cy="129.5" rx="4.4" ry="2.9" opacity="0.82" transform="rotate(133 244.3 129.5)"/><ellipse cx="214.1" cy="131.6" rx="3.5" ry="2.0" opacity="0.65" transform="rotate(101 214.1 131.6)"/><ellipse cx="311.2" cy="127.9" rx="3.0" ry="1.7" opacity="0.51" transform="rotate(157 311.2 127.9)"/><ellipse cx="203.6" cy="201.0" rx="3.2" ry="1.8" opacity="0.51" transform="rotate(91 203.6 201.0)"/><ellipse cx="116.4" cy="245.4" rx="7.7" ry="4.8" opacity="0.65" transform="rotate(62 116.4 245.4)"/><ellipse cx="137.3" cy="245.4" rx="7.9" ry="5.3" opacity="0.27" transform="rotate(110 137.3 245.4)"/><ellipse cx="168.6" cy="240.2" rx="7.6" ry="4.1" opacity="1.00" transform="rotate(41 168.6 240.2)"/><ellipse cx="129.5" cy="262.6" rx="6.7" ry="5.2" opacity="0.38" transform="rotate(155 129.5 262.6)"/><ellipse cx="185.3" cy="273.1" rx="8.8" ry="5.7" opacity="0.82" transform="rotate(147 185.3 273.1)"/><ellipse cx="261.0" cy="231.3" rx="6.9" ry="5.8" opacity="0.38" transform="rotate(121 261.0 231.3)"/><ellipse cx="253.7" cy="254.8" rx="7.6" ry="4.9" opacity="0.65" transform="rotate(3 253.7 254.8)"/><ellipse cx="305.9" cy="237.5" rx="8.6" ry="4.6" opacity="0.82" transform="rotate(20 305.9 237.5)"/><ellipse cx="308.0" cy="245.4" rx="8.2" ry="4.7" opacity="0.51" transform="rotate(13 308.0 245.4)"/><ellipse cx="322.6" cy="241.2" rx="4.6" ry="3.6" opacity="0.38" transform="rotate(30 322.6 241.2)"/><ellipse cx="239.1" cy="273.1" rx="7.0" ry="5.5" opacity="0.27" transform="rotate(82 239.1 273.1)"/><ellipse cx="241.7" cy="293.4" rx="7.2" ry="5.0" opacity="0.27" transform="rotate(4 241.7 293.4)"/><ellipse cx="251.1" cy="291.3" rx="7.4" ry="4.9" opacity="0.27" transform="rotate(34 251.1 291.3)"/><ellipse cx="151.4" cy="324.7" rx="6.4" ry="5.9" opacity="0.65" transform="rotate(92 151.4 324.7)"/><ellipse cx="168.6" cy="323.7" rx="6.8" ry="5.3" opacity="0.82" transform="rotate(147 168.6 323.7)"/><ellipse cx="266.3" cy="317.4" rx="6.1" ry="4.1" opacity="0.27" transform="rotate(26 266.3 317.4)"/><ellipse cx="278.3" cy="334.1" rx="8.5" ry="4.4" opacity="0.27" transform="rotate(127 278.3 334.1)"/><ellipse cx="387.9" cy="331.5" rx="3.3" ry="2.1" opacity="1.00" transform="rotate(40 387.9 331.5)"/><ellipse cx="6.8" cy="19.3" rx="9.4" ry="5.7" opacity="0.27" transform="rotate(93 6.8 19.3)"/><ellipse cx="246.9" cy="5.2" rx="6.8" ry="5.4" opacity="0.27" transform="rotate(71 246.9 5.2)"/><ellipse cx="468.8" cy="141.0" rx="4.8" ry="2.8" opacity="0.38" transform="rotate(114 468.8 141.0)"/></g>
<rect x="431.5" y="351.0" width="41.0" height="2.1" fill="#fff"/>
<text x="452.5" y="350.2" font-size="5.2" fill="#eee" text-anchor="middle" font-family='"Liberation Sans", Arial, sans-serif'>100 μm</text>
</svg>
<svg x="3443.0" y="1015.0" width="473.0" height="354.0" viewBox="0 0 473.0 354.0">
<rect x="0.0" y="0.0" width="473.0" height="354.0" fill="#000300"/>
<rect x="0.0" y="0.0" width="473.0" height="354.0" fill="#020a02"/>
<g fill="url(#cg)"><ellipse cx="452.2" cy="335.5" rx="5.0" ry="3.6" opacity="0.09" transform="rotate(150 452.2 335.5)"/><ellipse cx="316.8" cy="109.1" rx="7.6" ry="5.0" opacity="0.04" transform="rotate(105 316.8 109.1)"/><ellipse cx="203.7" cy="139.3" rx="8.1" ry="6.1" opacity="0.07" transform="rotate(171 203.7 139.3)"/><ellipse cx="210.4" cy="95.0" rx="4.9" ry="3.4" opacity="0.06" transform="rotate(84 210.4 95.0)"/><ellipse cx="179.7" cy="315.7" rx="7.2" ry="4.9" opacity="0.03" transform="rotate(43 179.7 315.7)"/><ellipse cx="153.8" cy="48.4" rx="7.1" ry="6.1" opacity="0.04" transform="rotate(121 153.8 48.4)"/><ellipse cx="422.7" cy="282.1" rx="8.2" ry="5.8" opacity="0.09" transform="rotate(137 422.7 282.1)"/><ellipse cx="167.3" cy="347.3" rx="9.3" ry="3.8" opacity="0.09" transform="rotate(136 167.3 347.3)"/><ellipse cx="218.2" cy="187.7" rx="7.0" ry="5.9" opacity="0.10" transform="rotate(90 218.2 187.7)"/><ellipse cx="167.4" cy="312.5" rx="9.0" ry="4.6" opacity="0.10" transform="rotate(102 167.4 312.5)"/><ellipse cx="342.3" cy="172.3" rx="5.8" ry="4.3" opacity="0.04" transform="rotate(126 342.3 172.3)"/><ellipse cx="429.5" cy="94.9" rx="9.0" ry="4.2" opacity="0.09" transform="rotate(172 429.5 94.9)"/><ellipse cx="238.5" cy="183.3" rx="7.8" ry="5.0" opacity="0.05" transform="rotate(56 238.5 183.3)"/><ellipse cx="242.1" cy="330.7" rx="7.7" ry="3.6" opacity="0.09" transform="rotate(148 242.1 330.7)"/><ellipse cx="429.3" cy="67.8" rx="8.2" ry="3.5" opacity="0.05" transform="rotate(118 429.3 67.8)"/><ellipse cx="107.2" cy="309.9" rx="5.2" ry="4.8" opacity="0.05" transform="rotate(154 107.2 309.9)"/><ellipse cx="99.6" cy="311.7" rx="6.7" ry="5.3" opacity="0.06" transform="rotate(6 99.6 311.7)"/><ellipse cx="81.3" cy="238.2" rx="5.1" ry="6.0" opacity="0.09" transform="rotate(5 81.3 238.2)"/><ellipse cx="10.0" cy="90.5" rx="8.6" ry="3.8" opacity="0.09" transform="rotate(33 10.0 90.5)"/><ellipse cx="182.4" cy="15.3" rx="9.4" ry="3.8" opacity="0.06" transform="rotate(7 182.4 15.3)"/><ellipse cx="291.0" cy="262.8" rx="5.3" ry="4.3" opacity="0.07" transform="rotate(6 291.0 262.8)"/><ellipse cx="362.3" cy="261.9" rx="9.0" ry="5.4" opacity="0.09" transform="rotate(155 362.3 261.9)"/><ellipse cx="223.6" cy="79.8" rx="7.8" ry="4.2" opacity="0.07" transform="rotate(18 223.6 79.8)"/><ellipse cx="413.8" cy="45.1" rx="7.5" ry="4.4" opacity="0.04" transform="rotate(93 413.8 45.1)"/><ellipse cx="454.0" cy="91.7" rx="7.6" ry="4.5" opacity="0.07" transform="rotate(3 454.0 91.7)"/><ellipse cx="66.5" cy="20.1" rx="4.9" ry="3.8" opacity="0.08" transform="rotate(17 66.5 20.1)"/><ellipse cx="240.4" cy="348.1" rx="9.1" ry="6.1" opacity="0.07" transform="rotate(42 240.4 348.1)"/><ellipse cx="118.6" cy="209.3" rx="7.7" ry="5.5" opacity="0.05" transform="rotate(128 118.6 209.3)"/><ellipse cx="200.1" cy="186.3" rx="4.7" ry="3.5" opacity="0.04" transform="rotate(74 200.1 186.3)"/><ellipse cx="342.3" cy="85.3" rx="5.2" ry="3.9" opacity="0.05" transform="rotate(42 342.3 85.3)"/><ellipse cx="246.3" cy="164.4" rx="6.2" ry="5.1" opacity="0.10" transform="rotate(38 246.3 164.4)"/><ellipse cx="455.6" cy="258.0" rx="6.8" ry="4.8" opacity="0.03" transform="rotate(105 455.6 258.0)"/><ellipse cx="197.7" cy="185.9" rx="5.6" ry="3.6" opacity="0.06" transform="rotate(144 197.7 185.9)"/><ellipse cx="245.6" cy="326.2" rx="7.6" ry="4.2" opacity="0.06" transform="rotate(177 245.6 326.2)"/><ellipse cx="9.0" cy="242.6" rx="5.2" ry="4.2" opacity="0.08" transform="rotate(151 9.0 242.6)"/><ellipse cx="7.4" cy="159.8" rx="6.7" ry="4.7" opacity="0.08" transform="rotate(37 7.4 159.8)"/><ellipse cx="34.9" cy="100.7" rx="6.5" ry="5.9" opacity="0.09" transform="rotate(14 34.9 100.7)"/><ellipse cx="91.0" cy="202.3" rx="6.6" ry="4.6" opacity="0.06" transform="rotate(136 91.0 202.3)"/><ellipse cx="57.6" cy="43.1" rx="5.1" ry="5.7" opacity="0.11" transform="rotate(115 57.6 43.1)"/><ellipse cx="327.6" cy="8.7" rx="7.8" ry="5.5" opacity="0.07" transform="rotate(130 327.6 8.7)"/><ellipse cx="169.1" cy="161.8" rx="8.5" ry="4.1" opacity="0.07" transform="rotate(95 169.1 161.8)"/><ellipse cx="451.6" cy="284.7" rx="9.1" ry="5.6" opacity="0.05" transform="rotate(53 451.6 284.7)"/><ellipse cx="231.2" cy="91.8" rx="6.7" ry="5.2" opacity="0.08" transform="rotate(165 231.2 91.8)"/><ellipse cx="386.8" cy="34.0" rx="6.4" ry="6.1" opacity="0.06" transform="rotate(26 386.8 34.0)"/><ellipse cx="31.6" cy="30.5" rx="9.0" ry="6.0" opacity="0.04" transform="rotate(117 31.6 30.5)"/><ellipse cx="140.2" cy="82.0" rx="7.9" ry="5.2" opacity="0.07" transform="rotate(79 140.2 82.0)"/><ellipse cx="53.0" cy="191.5" rx="9.2" ry="5.4" opacity="0.07" transform="rotate(17 53.0 191.5)"/><ellipse cx="338.4" cy="91.1" rx="9.0" ry="4.6" opacity="0.06" transform="rotate(127 338.4 91.1)"/><ellipse cx="470.7" cy="277.1" rx="7.4" ry="3.8" opacity="0.03" transform="rotate(79 470.7 277.1)"/><ellipse cx="281.5" cy="312.2" rx="5.6" ry="4.8" opacity="0.06" transform="rotate(87 281.5 312.2)"/><ellipse cx="336.0" cy="331.6" rx="8.1" ry="4.7" opacity="0.06" transform="rotate(173 336.0 331.6)"/><ellipse cx="352.7" cy="233.1" rx="8.3" ry="5.7" opacity="0.08" transform="rotate(40 352.7 233.1)"/><ellipse cx="190.5" cy="236.1" rx="9.3" ry="5.1" opacity="0.07" transform="rotate(2 190.5 236.1)"/><ellipse cx="336.6" cy="312.7" rx="7.8" ry="5.6" opacity="0.11" transform="rotate(3 336.6 312.7)"/><ellipse cx="345.0" cy="214.7" rx="9.0" ry="5.8" opacity="0.10" transform="rotate(18 345.0 214.7)"/><ellipse cx="362.8" cy="70.6" rx="8.2" ry="5.0" opacity="0.09" transform="rotate(34 362.8 70.6)"/><ellipse cx="65.2" cy="216.8" rx="6.8" ry="4.1" opacity="0.07" transform="rotate(102 65.2 216.8)"/><ellipse cx="97.0" cy="342.2" rx="5.1" ry="3.4" opacity="0.10" transform="rotate(87 97.0 342.2)"/><ellipse cx="311.4" cy="267.2" rx="7.0" ry="5.2" opacity="0.05" transform="rotate(60 311.4 267.2)"/><ellipse cx="237.9" cy="9.7" rx="5.1" ry="5.4" opacity="0.09" transform="rotate(31 237.9 9.7)"/><ellipse cx="371.0" cy="143.2" rx="7.9" ry="5.5" opacity="0.04" transform="rotate(156 371.0 143.2)"/><ellipse cx="76.9" cy="135.1" rx="6.9" ry="4.2" opacity="0.07" transform="rotate(2 76.9 135.1)"/><ellipse cx="457.4" cy="129.7" rx="7.3" ry="4.4" opacity="0.10" transform="rotate(80 457.4 129.7)"/><ellipse cx="145.9" cy="229.8" rx="7.0" ry="4.8" opacity="0.04" transform="rotate(165 145.9 229.8)"/><ellipse cx="389.9" cy="107.7" rx="7.8" ry="5.5" opacity="0.06" transform="rotate(118 389.9 107.7)"/><ellipse cx="397.7" cy="32.9" rx="7.7" ry="4.4" opacity="0.10" transform="rotate(95 397.7 32.9)"/><ellipse cx="377.4" cy="222.6" rx="6.2" ry="4.0" opacity="0.05" transform="rotate(82 377.4 222.6)"/><ellipse cx="131.3" cy="339.0" rx="5.3" ry="5.6" opacity="0.06" transform="rotate(68 131.3 339.0)"/><ellipse cx="150.6" cy="27.4" rx="6.9" ry="3.8" opacity="0.05" transform="rotate(80 150.6 27.4)"/><ellipse cx="423.1" cy="326.3" rx="6.8" ry="5.1" opacity="0.06" transform="rotate(167 423.1 326.3)"/><ellipse cx="47.1" cy="84.2" rx="5.6" ry="5.2" opacity="0.06" transform="rotate(67 47.1 84.2)"/><ellipse cx="376.1" cy="82.5" rx="8.5" ry="5.1" opacity="0.10" transform="rotate(72 376.1 82.5)"/><ellipse cx="161.9" cy="311.0" rx="9.1" ry="4.7" opacity="0.11" transform="rotate(124 161.9 311.0)"/><ellipse cx="351.2" cy="265.9" rx="8.8" ry="5.9" opacity="0.11" transform="rotate(136 351.2 265.9)"/><ellipse cx="137.9" cy="220.4" rx="7.9" ry="4.4" opacity="0.04" transform="rotate(71 137.9 220.4)"/><ellipse cx="453.0" cy="125.3" rx="7.0" ry="5.8" opacity="0.11" transform="rotate(34 453.0 125.3)"/><ellipse cx="60.1" cy="9.9" rx="6.4" ry="4.3" opacity="0.10" transform="rotate(165 60.1 9.9)"/><ellipse cx="360.2" cy="154.5" rx="7.3" ry="4.0" opacity="0.06" transform="rotate(150 360.2 154.5)"/><ellipse cx="134.6" cy="225.8" rx="5.4" ry="4.2" opacity="0.04" transform="rotate(167 134.6 225.8)"/><ellipse cx="67.3" cy="72.3" rx="5.9" ry="4.5" opacity="0.06" transform="rotate(45 67.3 72.3)"/><ellipse cx="116.6" cy="85.0" rx="7.6" ry="4.3" opacity="0.09" transform="rotate(67 116.6 85.0)"/><ellipse cx="29.2" cy="51.0" rx="8.7" ry="4.5" opacity="0.04" transform="rotate(140 29.2 51.0)"/><ellipse cx="247.4" cy="299.3" rx="6.3" ry="5.4" opacity="0.06" transform="rotate(110 247.4 299.3)"/><ellipse cx="471.7" cy="138.9" rx="7.0" ry="5.0" opacity="0.10" transform="rotate(57 471.7 138.9)"/><ellipse cx="282.6" cy="208.2" rx="7.3" ry="6.0" opacity="0.10" transform="rotate(178 282.6 208.2)"/><ellipse cx="215.0" cy="145.8" rx="7.2" ry="3.5" opacity="0.11" transform="rotate(19 215.0 145.8)"/><ellipse cx="60.6" cy="331.8" rx="7.9" ry="5.8" opacity="0.05" transform="rotate(14 60.6 331.8)"/><ellipse cx="377.4" cy="3.1" rx="5.2" ry="4.3" opacity="0.04" transform="rotate(31 377.4 3.1)"/><ellipse cx="316.8" cy="32.5" rx="9.3" ry="5.1" opacity="0.10" transform="rotate(9 316.8 32.5)"/><ellipse cx="114.2" cy="170.4" rx="7.4" ry="3.7" opacity="0.03" transform="rotate(90 114.2 170.4)"/><ellipse cx="83.5" cy="73.1" rx="8.1" ry="7.1" opacity="1.00" transform="rotate(148 83.5 73.1)"/><ellipse cx="173.3" cy="47.0" rx="3.9" ry="2.7" opacity="0.38" transform="rotate(158 173.3 47.0)"/><ellipse cx="315.9" cy="286.1" rx="2.6" ry="2.0" opacity="0.65" transform="rotate(24 315.9 286.1)"/><ellipse cx="296.5" cy="326.3" rx="2.3" ry="1.5" opacity="0.65" transform="rotate(38 296.5 326.3)"/><ellipse cx="201.0" cy="31.3" rx="2.5" ry="1.8" opacity="0.18" transform="rotate(68 201.0 31.3)"/><ellipse cx="133.1" cy="205.2" rx="8.2" ry="5.8" opacity="0.14" transform="rotate(163 133.1 205.2)"/><ellipse cx="336.7" cy="175.9" rx="8.5" ry="5.1" opacity="0.14" transform="rotate(165 336.7 175.9)"/><ellipse cx="54.8" cy="212.5" rx="3.3" ry="2.1" opacity="0.18" transform="rotate(147 54.8 212.5)"/><ellipse cx="229.7" cy="137.3" rx="8.2" ry="4.5" opacity="0.10" transform="rotate(68 229.7 137.3)"/><ellipse cx="287.1" cy="198.4" rx="3.5" ry="2.5" opacity="0.10" transform="rotate(77 287.1 198.4)"/></g>
<rect x="431.5" y="351.0" width="41.0" height="2.1" fill="#fff"/>
<text x="452.5" y="350.2" font-size="5.2" fill="#eee" text-anchor="middle" font-family='"Liberation Sans", Arial, sans-serif'>100 μm</text>
</svg>
<svg x="2942.8" y="1447.0" width="473.0" height="354.0" viewBox="0 0 473.0 354.0">
<rect x="0.0" y="0.0" width="473.0" height="354.0" fill="#000300"/>
<g fill="url(#cg)"><ellipse cx="112.6" cy="192.7" rx="6.5" ry="5.0" opacity="0.04" transform="rotate(113 112.6 192.7)"/><ellipse cx="6.2" cy="296.5" rx="6.0" ry="4.0" opacity="0.08" transform="rotate(179 6.2 296.5)"/><ellipse cx="395.6" cy="168.6" rx="7.7" ry="3.8" opacity="0.12" transform="rotate(114 395.6 168.6)"/><ellipse cx="247.5" cy="262.4" rx="7.9" ry="3.5" opacity="0.09" transform="rotate(136 247.5 262.4)"/><ellipse cx="142.5" cy="11.0" rx="8.8" ry="4.7" opacity="0.12" transform="rotate(129 142.5 11.0)"/><ellipse cx="337.8" cy="326.1" rx="6.6" ry="5.5" opacity="0.12" transform="rotate(80 337.8 326.1)"/><ellipse cx="415.7" cy="34.5" rx="5.4" ry="4.0" opacity="0.07" transform="rotate(174 415.7 34.5)"/><ellipse cx="296.4" cy="106.6" rx="7.1" ry="4.4" opacity="0.09" transform="rotate(63 296.4 106.6)"/><ellipse cx="276.4" cy="320.1" rx="7.9" ry="5.9" opacity="0.13" transform="rotate(154 276.4 320.1)"/><ellipse cx="317.5" cy="57.7" rx="8.8" ry="6.0" opacity="0.09" transform="rotate(163 317.5 57.7)"/><ellipse cx="337.6" cy="74.7" rx="8.7" ry="4.9" opacity="0.04" transform="rotate(51 337.6 74.7)"/><ellipse cx="403.9" cy="350.4" rx="5.1" ry="5.5" opacity="0.05" transform="rotate(74 403.9 350.4)"/><ellipse cx="139.0" cy="272.2" rx="8.8" ry="3.5" opacity="0.03" transform="rotate(111 139.0 272.2)"/><ellipse cx="339.8" cy="117.2" rx="8.9" ry="6.0" opacity="0.13" transform="rotate(91 339.8 117.2)"/><ellipse cx="146.5" cy="27.2" rx="7.6" ry="3.5" opacity="0.07" transform="rotate(36 146.5 27.2)"/><ellipse cx="288.8" cy="55.3" rx="4.9" ry="5.7" opacity="0.13" transform="rotate(56 288.8 55.3)"/><ellipse cx="424.1" cy="133.7" rx="6.9" ry="4.8" opacity="0.09" transform="rotate(116 424.1 133.7)"/><ellipse cx="264.5" cy="219.5" rx="9.2" ry="4.7" opacity="0.10" transform="rotate(78 264.5 219.5)"/><ellipse cx="112.4" cy="106.6" rx="9.3" ry="4.8" opacity="0.03" transform="rotate(99 112.4 106.6)"/><ellipse cx="196.4" cy="205.3" rx="4.8" ry="5.0" opacity="0.04" transform="rotate(114 196.4 205.3)"/><ellipse cx="296.7" cy="165.1" rx="7.9" ry="4.3" opacity="0.10" transform="rotate(127 296.7 165.1)"/><ellipse cx="10.5" cy="21.4" rx="7.9" ry="6.0" opacity="0.08" transform="rotate(45 10.5 21.4)"/><ellipse cx="280.3" cy="113.3" rx="6.4" ry="4.2" opacity="0.09" transform="rotate(66 280.3 113.3)"/><ellipse cx="142.1" cy="133.5" rx="8.4" ry="3.4" opacity="0.10" transform="rotate(102 142.1 133.5)"/><ellipse cx="146.6" cy="78.8" rx="8.5" ry="4.0" opacity="0.07" transform="rotate(34 146.6 78.8)"/><ellipse cx="330.2" cy="36.1" rx="6.2" ry="4.3" opacity="0.07" transform="rotate(150 330.2 36.1)"/><ellipse cx="404.7" cy="59.9" rx="6.3" ry="5.1" opacity="0.08" transform="rotate(159 404.7 59.9)"/><ellipse cx="106.4" cy="42.8" rx="7.2" ry="3.9" opacity="0.11" transform="rotate(145 106.4 42.8)"/><ellipse cx="86.8" cy="98.6" rx="8.5" ry="5.1" opacity="0.06" transform="rotate(145 86.8 98.6)"/><ellipse cx="61.3" cy="103.3" rx="8.5" ry="4.1" opacity="0.07" transform="rotate(62 61.3 103.3)"/><ellipse cx="198.6" cy="145.0" rx="9.1" ry="3.8" opacity="0.12" transform="rotate(1 198.6 145.0)"/><ellipse cx="416.2" cy="349.4" rx="6.8" ry="5.9" opacity="0.05" transform="rotate(167 416.2 349.4)"/><ellipse cx="352.6" cy="296.2" rx="7.9" ry="4.8" opacity="0.06" transform="rotate(52 352.6 296.2)"/><ellipse cx="107.6" cy="24.1" rx="7.5" ry="4.1" opacity="0.03" transform="rotate(146 107.6 24.1)"/><ellipse cx="427.4" cy="245.6" rx="9.1" ry="5.8" opacity="0.09" transform="rotate(162 427.4 245.6)"/><ellipse cx="6.2" cy="263.8" rx="5.5" ry="4.2" opacity="0.08" transform="rotate(119 6.2 263.8)"/><ellipse cx="195.7" cy="332.4" rx="7.6" ry="4.3" opacity="0.12" transform="rotate(45 195.7 332.4)"/><ellipse cx="225.7" cy="276.9" rx="6.4" ry="3.9" opacity="0.11" transform="rotate(96 225.7 276.9)"/><ellipse cx="81.0" cy="280.3" rx="9.1" ry="5.6" opacity="0.03" transform="rotate(148 81.0 280.3)"/><ellipse cx="297.3" cy="305.3" rx="5.0" ry="4.1" opacity="0.08" transform="rotate(48 297.3 305.3)"/><ellipse cx="200.1" cy="167.4" rx="8.4" ry="3.4" opacity="0.04" transform="rotate(10 200.1 167.4)"/><ellipse cx="58.9" cy="24.2" rx="9.3" ry="5.7" opacity="0.08" transform="rotate(16 58.9 24.2)"/><ellipse cx="149.4" cy="111.4" rx="6.4" ry="5.1" opacity="0.07" transform="rotate(106 149.4 111.4)"/><ellipse cx="90.4" cy="116.4" rx="5.3" ry="4.9" opacity="0.07" transform="rotate(129 90.4 116.4)"/><ellipse cx="37.8" cy="63.2" rx="6.5" ry="5.0" opacity="0.07" transform="rotate(141 37.8 63.2)"/><ellipse cx="378.9" cy="220.5" rx="6.8" ry="4.4" opacity="0.10" transform="rotate(89 378.9 220.5)"/><ellipse cx="198.9" cy="245.7" rx="6.9" ry="4.0" opacity="0.10" transform="rotate(96 198.9 245.7)"/><ellipse cx="33.9" cy="150.4" rx="6.7" ry="5.8" opacity="0.07" transform="rotate(169 33.9 150.4)"/><ellipse cx="424.7" cy="280.0" rx="6.0" ry="4.6" opacity="0.11" transform="rotate(22 424.7 280.0)"/><ellipse cx="313.3" cy="314.1" rx="8.5" ry="5.2" opacity="0.09" transform="rotate(132 313.3 314.1)"/><ellipse cx="48.8" cy="208.1" rx="4.7" ry="3.8" opacity="0.03" transform="rotate(139 48.8 208.1)"/><ellipse cx="43.4" cy="35.2" rx="8.9" ry="3.9" opacity="0.11" transform="rotate(4 43.4 35.2)"/><ellipse cx="57.4" cy="298.8" rx="7.9" ry="5.6" opacity="0.09" transform="rotate(171 57.4 298.8)"/><ellipse cx="377.8" cy="12.8" rx="8.4" ry="4.8" opacity="0.04" transform="rotate(129 377.8 12.8)"/><ellipse cx="354.3" cy="330.8" rx="5.0" ry="4.3" opacity="0.11" transform="rotate(102 354.3 330.8)"/><ellipse cx="114.5" cy="63.6" rx="5.9" ry="5.0" opacity="0.07" transform="rotate(136 114.5 63.6)"/><ellipse cx="173.8" cy="140.4" rx="6.4" ry="4.5" opacity="0.08" transform="rotate(15 173.8 140.4)"/><ellipse cx="460.3" cy="146.1" rx="8.3" ry="3.8" opacity="0.11" transform="rotate(124 460.3 146.1)"/><ellipse cx="318.7" cy="183.1" rx="7.0" ry="5.1" opacity="0.04" transform="rotate(162 318.7 183.1)"/><ellipse cx="45.3" cy="264.8" rx="9.1" ry="4.8" opacity="0.10" transform="rotate(80 45.3 264.8)"/><ellipse cx="88.0" cy="94.6" rx="5.7" ry="5.0" opacity="0.05" transform="rotate(57 88.0 94.6)"/><ellipse cx="326.9" cy="337.5" rx="6.1" ry="5.3" opacity="0.12" transform="rotate(74 326.9 337.5)"/><ellipse cx="276.5" cy="94.6" rx="5.8" ry="3.4" opacity="0.07" transform="rotate(86 276.5 94.6)"/><ellipse cx="81.5" cy="127.6" rx="6.2" ry="5.5" opacity="0.13" transform="rotate(26 81.5 127.6)"/><ellipse cx="226.8" cy="212.0" rx="6.9" ry="5.6" opacity="0.09" transform="rotate(148 226.8 212.0)"/><ellipse cx="227.7" cy="255.1" rx="8.8" ry="4.5" opacity="0.13" transform="rotate(132 227.7 255.1)"/><ellipse cx="221.1" cy="81.3" rx="5.8" ry="5.3" opacity="0.13" transform="rotate(122 221.1 81.3)"/><ellipse cx="403.9" cy="85.7" rx="5.6" ry="4.1" opacity="0.10" transform="rotate(34 403.9 85.7)"/><ellipse cx="406.1" cy="318.5" rx="5.9" ry="5.7" opacity="0.07" transform="rotate(56 406.1 318.5)"/><ellipse cx="344.8" cy="30.4" rx="5.2" ry="5.6" opacity="0.07" transform="rotate(53 344.8 30.4)"/><ellipse cx="80.9" cy="7.8" rx="8.0" ry="5.4" opacity="1.00" transform="rotate(1 80.9 7.8)"/><ellipse cx="142.5" cy="32.9" rx="9.4" ry="6.4" opacity="0.82" transform="rotate(87 142.5 32.9)"/><ellipse cx="124.3" cy="38.1" rx="6.8" ry="5.2" opacity="0.82" transform="rotate(172 124.3 38.1)"/><ellipse cx="108.6" cy="85.1" rx="9.6" ry="6.7" opacity="1.00" transform="rotate(21 108.6 85.1)"/><ellipse cx="51.2" cy="17.2" rx="7.0" ry="5.4" opacity="0.38" transform="rotate(20 51.2 17.2)"/><ellipse cx="311.2" cy="69.4" rx="9.1" ry="5.9" opacity="0.82" transform="rotate(17 311.2 69.4)"/><ellipse cx="180.1" cy="159.2" rx="12.0" ry="6.3" opacity="1.00" transform="rotate(139 180.1 159.2)"/><ellipse cx="301.8" cy="163.4" rx="12.9" ry="7.0" opacity="1.00" transform="rotate(122 301.8 163.4)"/><ellipse cx="184.3" cy="181.7" rx="8.3" ry="5.7" opacity="0.82" transform="rotate(48 184.3 181.7)"/><ellipse cx="305.9" cy="182.7" rx="8.6" ry="6.0" opacity="0.65" transform="rotate(121 305.9 182.7)"/><ellipse cx="372.2" cy="206.2" rx="7.9" ry="4.3" opacity="0.65" transform="rotate(89 372.2 206.2)"/><ellipse cx="228.7" cy="228.7" rx="7.3" ry="5.5" opacity="1.00" transform="rotate(122 228.7 228.7)"/><ellipse cx="90.3" cy="327.9" rx="10.4" ry="5.7" opacity="1.00" transform="rotate(116 90.3 327.9)"/><ellipse cx="291.3" cy="314.8" rx="8.2" ry="4.4" opacity="0.65" transform="rotate(160 291.3 314.8)"/><ellipse cx="85.1" cy="286.1" rx="8.3" ry="4.3" opacity="0.51" transform="rotate(168 85.1 286.1)"/><ellipse cx="125.3" cy="304.4" rx="8.5" ry="6.1" opacity="0.38" transform="rotate(130 125.3 304.4)"/><ellipse cx="445.3" cy="168.6" rx="8.1" ry="5.2" opacity="0.51" transform="rotate(117 445.3 168.6)"/><ellipse cx="466.2" cy="173.9" rx="7.6" ry="4.7" opacity="0.38" transform="rotate(32 466.2 173.9)"/><ellipse cx="239.1" cy="171.2" rx="6.3" ry="5.5" opacity="0.38" transform="rotate(136 239.1 171.2)"/><ellipse cx="270.4" cy="88.8" rx="7.9" ry="5.5" opacity="0.27" transform="rotate(65 270.4 88.8)"/><ellipse cx="369.6" cy="80.9" rx="7.0" ry="4.8" opacity="0.27" transform="rotate(157 369.6 80.9)"/><ellipse cx="450.6" cy="17.2" rx="6.2" ry="5.1" opacity="0.27" transform="rotate(44 450.6 17.2)"/><ellipse cx="186.9" cy="218.2" rx="8.7" ry="4.8" opacity="0.38" transform="rotate(60 186.9 218.2)"/><ellipse cx="202.6" cy="226.1" rx="7.4" ry="5.1" opacity="0.27" transform="rotate(139 202.6 226.1)"/><ellipse cx="192.1" cy="246.9" rx="7.3" ry="5.8" opacity="0.38" transform="rotate(20 192.1 246.9)"/><ellipse cx="226.1" cy="241.7" rx="7.0" ry="4.3" opacity="0.27" transform="rotate(20 226.1 241.7)"/><ellipse cx="254.8" cy="246.9" rx="8.7" ry="5.5" opacity="0.27" transform="rotate(33 254.8 246.9)"/><ellipse cx="111.2" cy="246.9" rx="6.7" ry="4.9" opacity="0.27" transform="rotate(134 111.2 246.9)"/><ellipse cx="390.5" cy="257.4" rx="12.4" ry="7.8" opacity="0.18" transform="rotate(107 390.5 257.4)"/><ellipse cx="6.8" cy="335.7" rx="6.6" ry="4.9" opacity="0.18" transform="rotate(35 6.8 335.7)"/><ellipse cx="155.6" cy="335.7" rx="7.9" ry="5.2" opacity="0.18" transform="rotate(36 155.6 335.7)"/><ellipse cx="226.1" cy="343.5" rx="6.9" ry="5.6" opacity="0.38" transform="rotate(5 226.1 343.5)"/><ellipse cx="364.4" cy="346.1" rx="8.8" ry="5.9" opacity="0.27" transform="rotate(171 364.4 346.1)"/><ellipse cx="291.3" cy="327.9" rx="7.4" ry="5.2" opacity="0.51" transform="rotate(105 291.3 327.9)"/><ellipse cx="9.4" cy="142.5" rx="11.5" ry="8.4" opacity="0.18" transform="rotate(124 9.4 142.5)"/><ellipse cx="25.1" cy="90.3" rx="7.1" ry="5.8" opacity="0.18" transform="rotate(87 25.1 90.3)"/><ellipse cx="40.7" cy="92.9" rx="8.1" ry="5.5" opacity="0.18" transform="rotate(0 40.7 92.9)"/><ellipse cx="166.0" cy="85.1" rx="8.7" ry="5.4" opacity="0.18" transform="rotate(89 166.0 85.1)"/><ellipse cx="61.6" cy="64.2" rx="7.8" ry="5.0" opacity="0.22" transform="rotate(35 61.6 64.2)"/><ellipse cx="92.9" cy="59.0" rx="7.9" ry="4.1" opacity="0.22" transform="rotate(90 92.9 59.0)"/><ellipse cx="113.8" cy="121.6" rx="8.3" ry="4.9" opacity="0.27" transform="rotate(102 113.8 121.6)"/><ellipse cx="113.8" cy="142.5" rx="9.3" ry="5.9" opacity="0.22" transform="rotate(24 113.8 142.5)"/><ellipse cx="126.9" cy="158.2" rx="8.7" ry="5.3" opacity="0.22" transform="rotate(9 126.9 158.2)"/><ellipse cx="145.1" cy="166.0" rx="7.3" ry="4.5" opacity="0.27" transform="rotate(14 145.1 166.0)"/><ellipse cx="139.9" cy="189.5" rx="7.9" ry="5.9" opacity="0.22" transform="rotate(58 139.9 189.5)"/><ellipse cx="160.8" cy="200.0" rx="9.0" ry="5.5" opacity="0.27" transform="rotate(24 160.8 200.0)"/><ellipse cx="176.5" cy="220.8" rx="9.0" ry="5.3" opacity="0.27" transform="rotate(167 176.5 220.8)"/><ellipse cx="56.4" cy="32.9" rx="8.5" ry="5.5" opacity="0.27" transform="rotate(62 56.4 32.9)"/><ellipse cx="74.7" cy="40.7" rx="8.8" ry="5.9" opacity="0.22" transform="rotate(155 74.7 40.7)"/><ellipse cx="98.2" cy="32.9" rx="7.5" ry="5.6" opacity="0.18" transform="rotate(87 98.2 32.9)"/><ellipse cx="325.3" cy="333.1" rx="2.6" ry="1.7" opacity="0.65" transform="rotate(14 325.3 333.1)"/><ellipse cx="14.6" cy="179.1" rx="10.1" ry="6.6" opacity="0.14" transform="rotate(89 14.6 179.1)"/><ellipse cx="458.4" cy="236.5" rx="11.0" ry="6.7" opacity="0.14" transform="rotate(76 458.4 236.5)"/></g>
<rect x="431.5" y="351.0" width="41.0" height="2.1" fill="#fff"/>
<text x="452.5" y="350.2" font-size="5.2" fill="#eee" text-anchor="middle" font-family='"Liberation Sans", Arial, sans-serif'>100 μm</text>
</svg>
<svg x="3443.0" y="1447.0" width="473.0" height="354.0" viewBox="0 0 473.0 354.0">
<rect x="0.0" y="0.0" width="473.0" height="354.0" fill="#000300"/>
<g fill="url(#cg)"><ellipse cx="111.7" cy="36.5" rx="6.6" ry="3.8" opacity="0.06" transform="rotate(12 111.7 36.5)"/><ellipse cx="434.2" cy="283.4" rx="8.3" ry="4.0" opacity="0.05" transform="rotate(97 434.2 283.4)"/><ellipse cx="81.7" cy="37.6" rx="5.7" ry="5.9" opacity="0.09" transform="rotate(149 81.7 37.6)"/><ellipse cx="378.6" cy="68.5" rx="6.2" ry="5.1" opacity="0.09" transform="rotate(132 378.6 68.5)"/><ellipse cx="416.3" cy="30.7" rx="7.6" ry="5.2" opacity="0.04" transform="rotate(91 416.3 30.7)"/><ellipse cx="224.0" cy="31.6" rx="9.1" ry="5.7" opacity="0.05" transform="rotate(99 224.0 31.6)"/><ellipse cx="429.9" cy="202.6" rx="8.9" ry="5.7" opacity="0.06" transform="rotate(92 429.9 202.6)"/><ellipse cx="283.3" cy="152.6" rx="5.5" ry="4.2" opacity="0.03" transform="rotate(146 283.3 152.6)"/><ellipse cx="21.9" cy="221.7" rx="6.1" ry="4.8" opacity="0.05" transform="rotate(85 21.9 221.7)"/><ellipse cx="471.7" cy="69.2" rx="6.7" ry="3.9" opacity="0.05" transform="rotate(114 471.7 69.2)"/><ellipse cx="168.3" cy="264.4" rx="6.2" ry="4.9" opacity="0.04" transform="rotate(163 168.3 264.4)"/><ellipse cx="29.1" cy="81.0" rx="8.3" ry="5.0" opacity="0.05" transform="rotate(43 29.1 81.0)"/><ellipse cx="84.0" cy="162.5" rx="4.9" ry="5.3" opacity="0.10" transform="rotate(161 84.0 162.5)"/><ellipse cx="347.6" cy="339.8" rx="4.8" ry="4.2" opacity="0.08" transform="rotate(174 347.6 339.8)"/><ellipse cx="194.1" cy="333.9" rx="7.7" ry="5.6" opacity="0.04" transform="rotate(53 194.1 333.9)"/><ellipse cx="210.1" cy="48.3" rx="6.5" ry="6.0" opacity="0.03" transform="rotate(60 210.1 48.3)"/><ellipse cx="21.2" cy="60.0" rx="8.4" ry="4.4" opacity="0.04" transform="rotate(52 21.2 60.0)"/><ellipse cx="464.4" cy="150.1" rx="5.7" ry="3.5" opacity="0.04" transform="rotate(10 464.4 150.1)"/><ellipse cx="320.1" cy="53.0" rx="4.9" ry="4.7" opacity="0.10" transform="rotate(45 320.1 53.0)"/><ellipse cx="57.8" cy="187.4" rx="8.4" ry="4.5" opacity="0.06" transform="rotate(178 57.8 187.4)"/><ellipse cx="114.4" cy="145.4" rx="4.9" ry="4.5" opacity="0.09" transform="rotate(45 114.4 145.4)"/><ellipse cx="393.1" cy="176.5" rx="4.9" ry="4.1" opacity="0.04" transform="rotate(44 393.1 176.5)"/><ellipse cx="109.5" cy="307.9" rx="5.4" ry="3.5" opacity="0.07" transform="rotate(167 109.5 307.9)"/><ellipse cx="468.5" cy="142.6" rx="9.0" ry="5.1" opacity="0.08" transform="rotate(142 468.5 142.6)"/><ellipse cx="233.8" cy="32.9" rx="5.7" ry="5.7" opacity="0.09" transform="rotate(162 233.8 32.9)"/><ellipse cx="159.2" cy="232.5" rx="8.5" ry="5.1" opacity="0.07" transform="rotate(147 159.2 232.5)"/><ellipse cx="309.7" cy="242.8" rx="6.0" ry="5.9" opacity="0.04" transform="rotate(172 309.7 242.8)"/><ellipse cx="459.3" cy="340.5" rx="7.9" ry="3.5" opacity="0.04" transform="rotate(162 459.3 340.5)"/><ellipse cx="458.1" cy="236.2" rx="5.0" ry="3.8" opacity="0.07" transform="rotate(114 458.1 236.2)"/><ellipse cx="353.1" cy="328.3" rx="5.8" ry="3.4" opacity="0.03" transform="rotate(166 353.1 328.3)"/><ellipse cx="414.5" cy="41.0" rx="8.6" ry="5.5" opacity="0.07" transform="rotate(158 414.5 41.0)"/><ellipse cx="415.6" cy="71.4" rx="7.9" ry="4.3" opacity="0.08" transform="rotate(161 415.6 71.4)"/><ellipse cx="223.0" cy="186.3" rx="4.8" ry="3.5" opacity="0.06" transform="rotate(107 223.0 186.3)"/><ellipse cx="409.0" cy="215.3" rx="5.4" ry="4.4" opacity="0.07" transform="rotate(138 409.0 215.3)"/><ellipse cx="5.0" cy="296.5" rx="8.6" ry="3.6" opacity="0.06" transform="rotate(98 5.0 296.5)"/><ellipse cx="372.4" cy="110.2" rx="5.8" ry="4.7" opacity="0.04" transform="rotate(174 372.4 110.2)"/><ellipse cx="54.1" cy="219.8" rx="8.9" ry="4.8" opacity="0.09" transform="rotate(78 54.1 219.8)"/><ellipse cx="367.3" cy="23.7" rx="8.9" ry="3.9" opacity="0.09" transform="rotate(54 367.3 23.7)"/><ellipse cx="199.8" cy="282.6" rx="5.5" ry="5.7" opacity="0.04" transform="rotate(32 199.8 282.6)"/><ellipse cx="233.8" cy="119.9" rx="7.3" ry="5.8" opacity="0.03" transform="rotate(128 233.8 119.9)"/><ellipse cx="147.5" cy="192.9" rx="7.0" ry="5.3" opacity="0.04" transform="rotate(87 147.5 192.9)"/><ellipse cx="116.1" cy="300.0" rx="6.4" ry="5.4" opacity="0.07" transform="rotate(177 116.1 300.0)"/><ellipse cx="320.1" cy="215.8" rx="6.2" ry="5.8" opacity="0.09" transform="rotate(84 320.1 215.8)"/><ellipse cx="144.6" cy="307.1" rx="8.4" ry="5.0" opacity="0.04" transform="rotate(80 144.6 307.1)"/><ellipse cx="364.7" cy="128.2" rx="7.9" ry="3.7" opacity="0.04" transform="rotate(15 364.7 128.2)"/><ellipse cx="382.7" cy="62.9" rx="9.0" ry="4.4" opacity="0.05" transform="rotate(104 382.7 62.9)"/><ellipse cx="293.7" cy="33.1" rx="6.6" ry="5.9" opacity="0.08" transform="rotate(32 293.7 33.1)"/><ellipse cx="154.5" cy="106.4" rx="4.8" ry="3.4" opacity="0.09" transform="rotate(171 154.5 106.4)"/><ellipse cx="378.9" cy="285.8" rx="9.2" ry="3.8" opacity="0.06" transform="rotate(105 378.9 285.8)"/><ellipse cx="271.4" cy="332.0" rx="8.3" ry="6.0" opacity="0.08" transform="rotate(21 271.4 332.0)"/><ellipse cx="319.5" cy="263.8" rx="7.6" ry="5.6" opacity="0.09" transform="rotate(55 319.5 263.8)"/><ellipse cx="192.1" cy="212.1" rx="9.0" ry="5.3" opacity="0.05" transform="rotate(56 192.1 212.1)"/><ellipse cx="154.5" cy="221.9" rx="9.4" ry="5.8" opacity="0.06" transform="rotate(72 154.5 221.9)"/><ellipse cx="386.7" cy="100.5" rx="6.7" ry="3.4" opacity="0.07" transform="rotate(33 386.7 100.5)"/><ellipse cx="327.9" cy="217.6" rx="6.4" ry="5.9" opacity="0.04" transform="rotate(112 327.9 217.6)"/><ellipse cx="32.0" cy="344.7" rx="9.4" ry="5.9" opacity="0.05" transform="rotate(109 32.0 344.7)"/><ellipse cx="43.2" cy="91.3" rx="5.8" ry="5.9" opacity="0.08" transform="rotate(161 43.2 91.3)"/><ellipse cx="70.3" cy="84.4" rx="6.1" ry="5.9" opacity="0.09" transform="rotate(29 70.3 84.4)"/><ellipse cx="322.0" cy="193.7" rx="9.3" ry="4.1" opacity="0.04" transform="rotate(94 322.0 193.7)"/><ellipse cx="45.8" cy="11.2" rx="6.2" ry="3.7" opacity="0.10" transform="rotate(11 45.8 11.2)"/><ellipse cx="78.3" cy="169.7" rx="9.2" ry="7.6" opacity="1.00" transform="rotate(126 78.3 169.7)"/><ellipse cx="151.4" cy="307.0" rx="11.1" ry="7.0" opacity="1.00" transform="rotate(171 151.4 307.0)"/><ellipse cx="195.8" cy="312.2" rx="9.0" ry="5.5" opacity="0.82" transform="rotate(101 195.8 312.2)"/><ellipse cx="208.8" cy="307.0" rx="5.9" ry="3.9" opacity="0.51" transform="rotate(99 208.8 307.0)"/><ellipse cx="308.0" cy="246.9" rx="7.8" ry="4.4" opacity="1.00" transform="rotate(152 308.0 246.9)"/><ellipse cx="284.5" cy="265.2" rx="10.0" ry="5.4" opacity="1.00" transform="rotate(30 284.5 265.2)"/><ellipse cx="292.4" cy="278.3" rx="9.0" ry="4.6" opacity="0.65" transform="rotate(70 292.4 278.3)"/><ellipse cx="310.6" cy="288.7" rx="8.4" ry="5.8" opacity="0.82" transform="rotate(59 310.6 288.7)"/><ellipse cx="297.6" cy="286.1" rx="7.4" ry="4.9" opacity="0.51" transform="rotate(5 297.6 286.1)"/><ellipse cx="208.8" cy="168.6" rx="7.2" ry="3.3" opacity="0.65" transform="rotate(173 208.8 168.6)"/><ellipse cx="125.3" cy="74.7" rx="3.3" ry="2.2" opacity="0.65" transform="rotate(153 125.3 74.7)"/><ellipse cx="138.4" cy="65.3" rx="8.9" ry="4.5" opacity="0.27" transform="rotate(100 138.4 65.3)"/><ellipse cx="70.5" cy="288.7" rx="7.7" ry="5.5" opacity="0.38" transform="rotate(33 70.5 288.7)"/><ellipse cx="83.5" cy="286.1" rx="8.9" ry="6.1" opacity="0.27" transform="rotate(127 83.5 286.1)"/><ellipse cx="96.6" cy="158.2" rx="9.2" ry="5.9" opacity="0.27" transform="rotate(68 96.6 158.2)"/><ellipse cx="49.6" cy="160.8" rx="8.9" ry="5.7" opacity="0.27" transform="rotate(106 49.6 160.8)"/><ellipse cx="33.9" cy="168.6" rx="6.4" ry="5.3" opacity="0.18" transform="rotate(164 33.9 168.6)"/><ellipse cx="70.5" cy="139.9" rx="7.1" ry="5.4" opacity="0.18" transform="rotate(161 70.5 139.9)"/><ellipse cx="52.2" cy="116.4" rx="8.1" ry="4.1" opacity="0.18" transform="rotate(114 52.2 116.4)"/><ellipse cx="148.8" cy="132.1" rx="6.9" ry="5.8" opacity="0.18" transform="rotate(119 148.8 132.1)"/><ellipse cx="287.1" cy="108.6" rx="7.1" ry="5.9" opacity="0.18" transform="rotate(113 287.1 108.6)"/><ellipse cx="318.5" cy="92.9" rx="7.2" ry="5.7" opacity="0.18" transform="rotate(160 318.5 92.9)"/><ellipse cx="344.6" cy="79.9" rx="9.1" ry="5.8" opacity="0.14" transform="rotate(119 344.6 79.9)"/><ellipse cx="229.7" cy="103.4" rx="8.4" ry="5.3" opacity="0.14" transform="rotate(95 229.7 103.4)"/><ellipse cx="114.9" cy="231.3" rx="5.6" ry="2.9" opacity="0.18" transform="rotate(15 114.9 231.3)"/><ellipse cx="135.7" cy="241.7" rx="8.5" ry="5.1" opacity="0.14" transform="rotate(98 135.7 241.7)"/><ellipse cx="464.7" cy="304.4" rx="8.1" ry="4.6" opacity="0.18" transform="rotate(36 464.7 304.4)"/><ellipse cx="443.8" cy="231.3" rx="6.3" ry="5.6" opacity="0.10" transform="rotate(164 443.8 231.3)"/><ellipse cx="412.4" cy="246.9" rx="8.4" ry="4.3" opacity="0.10" transform="rotate(176 412.4 246.9)"/><ellipse cx="276.7" cy="296.5" rx="8.9" ry="5.1" opacity="0.27" transform="rotate(0 276.7 296.5)"/><ellipse cx="318.5" cy="309.6" rx="8.9" ry="5.3" opacity="0.18" transform="rotate(112 318.5 309.6)"/><ellipse cx="234.9" cy="257.4" rx="6.1" ry="5.5" opacity="0.10" transform="rotate(6 234.9 257.4)"/><ellipse cx="190.6" cy="64.2" rx="7.7" ry="4.3" opacity="0.14" transform="rotate(65 190.6 64.2)"/><ellipse cx="177.5" cy="53.8" rx="9.1" ry="5.6" opacity="0.14" transform="rotate(147 177.5 53.8)"/><ellipse cx="412.4" cy="64.2" rx="7.1" ry="4.8" opacity="0.10" transform="rotate(109 412.4 64.2)"/><ellipse cx="459.4" cy="142.5" rx="6.2" ry="4.9" opacity="0.10" transform="rotate(175 459.4 142.5)"/><ellipse cx="428.1" cy="147.7" rx="8.6" ry="5.8" opacity="0.10" transform="rotate(54 428.1 147.7)"/><ellipse cx="365.5" cy="132.1" rx="8.4" ry="5.6" opacity="0.10" transform="rotate(127 365.5 132.1)"/><ellipse cx="292.4" cy="184.3" rx="7.6" ry="4.4" opacity="0.10" transform="rotate(3 292.4 184.3)"/><ellipse cx="208.8" cy="192.1" rx="9.1" ry="5.9" opacity="0.10" transform="rotate(50 208.8 192.1)"/><ellipse cx="177.5" cy="163.4" rx="8.6" ry="4.9" opacity="0.10" transform="rotate(113 177.5 163.4)"/><ellipse cx="7.8" cy="330.5" rx="8.9" ry="4.7" opacity="0.10" transform="rotate(112 7.8 330.5)"/><ellipse cx="41.8" cy="320.0" rx="6.9" ry="5.1" opacity="0.10" transform="rotate(5 41.8 320.0)"/><ellipse cx="94.0" cy="314.8" rx="7.0" ry="4.6" opacity="0.10" transform="rotate(165 94.0 314.8)"/><ellipse cx="295.0" cy="226.1" rx="6.5" ry="5.6" opacity="0.18" transform="rotate(16 295.0 226.1)"/><ellipse cx="271.5" cy="273.1" rx="9.4" ry="4.4" opacity="0.27" transform="rotate(17 271.5 273.1)"/></g>
<rect x="431.5" y="351.0" width="41.0" height="2.1" fill="#fff"/>
<text x="452.5" y="350.2" font-size="5.2" fill="#eee" text-anchor="middle" font-family='"Liberation Sans", Arial, sans-serif'>100 μm</text>
</svg>
<text class="b" x="3185.5" y="1427.0" font-size="49" text-anchor="middle">si NC</text>
<text class="b" x="3688.0" y="1427.0" font-size="49" text-anchor="middle">si FASN</text>
<text class="b" x="3161.0" y="1884.7" font-size="45" text-anchor="middle">siNC+Fer-1</text>
<text class="b" x="3667.5" y="1877.0" font-size="45.5" text-anchor="middle">siFASN+Fer-1</text>
<text class="b" x="968.0" y="1890.0" font-size="58">Ferroptosis and Lipid metabolism gene expression</text>
<circle cx="1138.3" cy="1977.0" r="9.7" fill="#0A7C96"/>
<text class="b" x="1206.5" y="1993.0" font-size="50" textLength="117.5" lengthAdjust="spacingAndGlyphs">si NC</text>
<rect x="1437.8" y="1967.8" width="18.5" height="18.5" fill="#FF6100"/>
<text class="b" x="1514.5" y="1993.0" font-size="50" textLength="172" lengthAdjust="spacingAndGlyphs">si FASN</text>
<text class="b" x="253.0" y="2262.6" font-size="49" text-anchor="middle" transform="rotate(-90 253.0 2262.6)">Realtive mRNA expression</text>
<path d="M395.2 2566.6V2319.2H454.2V2566.6" fill="none" stroke="#0A7C96" stroke-width="8.5" stroke-linejoin="miter"/>
<line x1="424.8" y1="2301.0" x2="424.8" y2="2331.0" stroke="#0A7C96" stroke-width="3"/>
<line x1="407.8" y1="2301.0" x2="441.8" y2="2301.0" stroke="#0A7C96" stroke-width="3"/>
<line x1="407.8" y1="2331.0" x2="441.8" y2="2331.0" stroke="#0A7C96" stroke-width="3"/>
<circle cx="424.0" cy="2301.0" r="9" fill="#0A7C96"/>
<circle cx="400.0" cy="2325.0" r="9" fill="#0A7C96"/>
<circle cx="450.0" cy="2322.5" r="9" fill="#0A7C96"/>
<path d="M496.2 2566.6V2414.2H555.2V2566.6" fill="none" stroke="#FF6100" stroke-width="8.5" stroke-linejoin="miter"/>
<line x1="525.8" y1="2359.0" x2="525.8" y2="2460.0" stroke="#FF6100" stroke-width="3"/>
<line x1="508.8" y1="2359.0" x2="542.8" y2="2359.0" stroke="#FF6100" stroke-width="3"/>
<line x1="508.8" y1="2460.0" x2="542.8" y2="2460.0" stroke="#FF6100" stroke-width="3"/>
<rect x="491.5" y="2367.5" width="18.0" height="18.0" fill="#FF6100"/>
<rect x="541.0" y="2374.5" width="18.0" height="18.0" fill="#FF6100"/>
<rect x="516.0" y="2459.5" width="18.0" height="18.0" fill="#FF6100"/>
<path d="M665.2 2566.6V2321.8H723.2V2566.6" fill="none" stroke="#0A7C96" stroke-width="8.5" stroke-linejoin="miter"/>
<line x1="694.2" y1="2309.0" x2="694.2" y2="2326.0" stroke="#0A7C96" stroke-width="3"/>
<line x1="677.2" y1="2309.0" x2="711.2" y2="2309.0" stroke="#0A7C96" stroke-width="3"/>
<line x1="677.2" y1="2326.0" x2="711.2" y2="2326.0" stroke="#0A7C96" stroke-width="3"/>
<circle cx="694.0" cy="2310.0" r="9" fill="#0A7C96"/>
<circle cx="670.0" cy="2327.5" r="9" fill="#0A7C96"/>
<circle cx="719.0" cy="2319.0" r="9" fill="#0A7C96"/>
<path d="M765.8 2566.6V2360.2H824.8V2566.6" fill="none" stroke="#FF6100" stroke-width="8.5" stroke-linejoin="miter"/>
<line x1="795.2" y1="2268.5" x2="795.2" y2="2443.0" stroke="#FF6100" stroke-width="3"/>
<line x1="778.2" y1="2268.5" x2="812.2" y2="2268.5" stroke="#FF6100" stroke-width="3"/>
<line x1="778.2" y1="2443.0" x2="812.2" y2="2443.0" stroke="#FF6100" stroke-width="3"/>
<rect x="786.0" y="2251.0" width="18.0" height="18.0" fill="#FF6100"/>
<rect x="786.0" y="2368.5" width="18.0" height="18.0" fill="#FF6100"/>
<rect x="786.0" y="2421.0" width="18.0" height="18.0" fill="#FF6100"/>
<path d="M934.2 2566.6V2328.2H992.2V2566.6" fill="none" stroke="#0A7C96" stroke-width="8.5" stroke-linejoin="miter"/>
<circle cx="939.0" cy="2326.5" r="9" fill="#0A7C96"/>
<circle cx="963.5" cy="2326.5" r="9" fill="#0A7C96"/>
<circle cx="987.5" cy="2326.5" r="9" fill="#0A7C96"/>
<path d="M1035.8 2566.6V2309.2H1094.8V2566.6" fill="none" stroke="#FF6100" stroke-width="8.5" stroke-linejoin="miter"/>
<line x1="1065.2" y1="2312.5" x2="1065.2" y2="2332.5" stroke="#FF6100" stroke-width="3"/>
<line x1="1048.2" y1="2312.5" x2="1082.2" y2="2312.5" stroke="#FF6100" stroke-width="3"/>
<line x1="1048.2" y1="2332.5" x2="1082.2" y2="2332.5" stroke="#FF6100" stroke-width="3"/>
<rect x="1032.0" y="2306.0" width="18.0" height="18.0" fill="#FF6100"/>
<rect x="1081.0" y="2306.0" width="18.0" height="18.0" fill="#FF6100"/>
<rect x="1056.0" y="2326.0" width="18.0" height="18.0" fill="#FF6100"/>
<path d="M1204.2 2566.6V2323.2H1262.2V2566.6" fill="none" stroke="#0A7C96" stroke-width="8.5" stroke-linejoin="miter"/>
<line x1="1233.2" y1="2310.0" x2="1233.2" y2="2328.0" stroke="#0A7C96" stroke-width="3"/>
<line x1="1216.2" y1="2310.0" x2="1250.2" y2="2310.0" stroke="#0A7C96" stroke-width="3"/>
<line x1="1216.2" y1="2328.0" x2="1250.2" y2="2328.0" stroke="#0A7C96" stroke-width="3"/>
<circle cx="1232.5" cy="2309.0" r="9" fill="#0A7C96"/>
<circle cx="1207.5" cy="2326.5" r="9" fill="#0A7C96"/>
<circle cx="1258.5" cy="2326.5" r="9" fill="#0A7C96"/>
<path d="M1305.2 2566.6V2318.2H1364.2V2566.6" fill="none" stroke="#FF6100" stroke-width="8.5" stroke-linejoin="miter"/>
<line x1="1334.8" y1="2081.0" x2="1334.8" y2="2548.0" stroke="#FF6100" stroke-width="3"/>
<line x1="1317.8" y1="2081.0" x2="1351.8" y2="2081.0" stroke="#FF6100" stroke-width="3"/>
<line x1="1317.8" y1="2548.0" x2="1351.8" y2="2548.0" stroke="#FF6100" stroke-width="3"/>
<rect x="1325.5" y="2056.0" width="18.0" height="18.0" fill="#FF6100"/>
<rect x="1325.5" y="2341.0" width="18.0" height="18.0" fill="#FF6100"/>
<rect x="1325.5" y="2518.5" width="18.0" height="18.0" fill="#FF6100"/>
<path d="M1474.2 2566.6V2324.2H1531.8V2566.6" fill="none" stroke="#0A7C96" stroke-width="8.5" stroke-linejoin="miter"/>
<circle cx="1477.5" cy="2326.0" r="9" fill="#0A7C96"/>
<circle cx="1502.5" cy="2325.0" r="9" fill="#0A7C96"/>
<circle cx="1528.5" cy="2326.0" r="9" fill="#0A7C96"/>
<path d="M1574.8 2566.6V2304.2H1633.8V2566.6" fill="none" stroke="#FF6100" stroke-width="8.5" stroke-linejoin="miter"/>
<line x1="1604.2" y1="2271.0" x2="1604.2" y2="2330.0" stroke="#FF6100" stroke-width="3"/>
<line x1="1587.2" y1="2271.0" x2="1621.2" y2="2271.0" stroke="#FF6100" stroke-width="3"/>
<line x1="1587.2" y1="2330.0" x2="1621.2" y2="2330.0" stroke="#FF6100" stroke-width="3"/>
<rect x="1594.5" y="2262.0" width="18.0" height="18.0" fill="#FF6100"/>
<rect x="1594.5" y="2288.5" width="18.0" height="18.0" fill="#FF6100"/>
<rect x="1594.5" y="2321.0" width="18.0" height="18.0" fill="#FF6100"/>
<path d="M1743.2 2566.6V2325.8H1801.8V2566.6" fill="none" stroke="#0A7C96" stroke-width="8.5" stroke-linejoin="miter"/>
<line x1="1772.5" y1="2322.0" x2="1772.5" y2="2329.0" stroke="#0A7C96" stroke-width="3"/>
<line x1="1755.5" y1="2322.0" x2="1789.5" y2="2322.0" stroke="#0A7C96" stroke-width="3"/>
<line x1="1755.5" y1="2329.0" x2="1789.5" y2="2329.0" stroke="#0A7C96" stroke-width="3"/>
<circle cx="1747.5" cy="2329.0" r="9" fill="#0A7C96"/>
<circle cx="1772.5" cy="2322.5" r="9" fill="#0A7C96"/>
<circle cx="1798.5" cy="2327.5" r="9" fill="#0A7C96"/>
<path d="M1844.2 2566.6V2200.2H1902.2V2566.6" fill="none" stroke="#FF6100" stroke-width="8.5" stroke-linejoin="miter"/>
<line x1="1873.2" y1="2200.0" x2="1873.2" y2="2229.0" stroke="#FF6100" stroke-width="3"/>
<line x1="1856.2" y1="2200.0" x2="1890.2" y2="2200.0" stroke="#FF6100" stroke-width="3"/>
<line x1="1856.2" y1="2229.0" x2="1890.2" y2="2229.0" stroke="#FF6100" stroke-width="3"/>
<rect x="1839.5" y="2195.0" width="18.0" height="18.0" fill="#FF6100"/>
<rect x="1888.5" y="2197.0" width="18.0" height="18.0" fill="#FF6100"/>
<rect x="1864.5" y="2222.5" width="18.0" height="18.0" fill="#FF6100"/>
<path d="M2012.8 2566.6V2319.2H2071.8V2566.6" fill="none" stroke="#0A7C96" stroke-width="8.5" stroke-linejoin="miter"/>
<line x1="2042.2" y1="2297.0" x2="2042.2" y2="2332.5" stroke="#0A7C96" stroke-width="3"/>
<line x1="2025.2" y1="2297.0" x2="2059.2" y2="2297.0" stroke="#0A7C96" stroke-width="3"/>
<line x1="2025.2" y1="2332.5" x2="2059.2" y2="2332.5" stroke="#0A7C96" stroke-width="3"/>
<circle cx="2041.5" cy="2295.0" r="9" fill="#0A7C96"/>
<circle cx="2015.0" cy="2327.5" r="9" fill="#0A7C96"/>
<circle cx="2067.5" cy="2327.5" r="9" fill="#0A7C96"/>
<path d="M2113.2 2566.6V2355.2H2172.8V2566.6" fill="none" stroke="#FF6100" stroke-width="8.5" stroke-linejoin="miter"/>
<line x1="2143.0" y1="2296.0" x2="2143.0" y2="2405.0" stroke="#FF6100" stroke-width="3"/>
<line x1="2126.0" y1="2296.0" x2="2160.0" y2="2296.0" stroke="#FF6100" stroke-width="3"/>
<line x1="2126.0" y1="2405.0" x2="2160.0" y2="2405.0" stroke="#FF6100" stroke-width="3"/>
<rect x="2133.5" y="2286.0" width="18.0" height="18.0" fill="#FF6100"/>
<rect x="2133.5" y="2343.5" width="18.0" height="18.0" fill="#FF6100"/>
<rect x="2133.5" y="2395.0" width="18.0" height="18.0" fill="#FF6100"/>
<path d="M2281.8 2566.6V2325.8H2340.8V2566.6" fill="none" stroke="#0A7C96" stroke-width="8.5" stroke-linejoin="miter"/>
<line x1="2311.2" y1="2310.0" x2="2311.2" y2="2328.0" stroke="#0A7C96" stroke-width="3"/>
<line x1="2294.2" y1="2310.0" x2="2328.2" y2="2310.0" stroke="#0A7C96" stroke-width="3"/>
<line x1="2294.2" y1="2328.0" x2="2328.2" y2="2328.0" stroke="#0A7C96" stroke-width="3"/>
<circle cx="2311.0" cy="2310.0" r="9" fill="#0A7C96"/>
<circle cx="2287.5" cy="2327.5" r="9" fill="#0A7C96"/>
<circle cx="2336.0" cy="2326.5" r="9" fill="#0A7C96"/>
<path d="M2383.2 2566.6V2333.2H2442.2V2566.6" fill="none" stroke="#FF6100" stroke-width="8.5" stroke-linejoin="miter"/>
<line x1="2412.8" y1="2300.0" x2="2412.8" y2="2356.0" stroke="#FF6100" stroke-width="3"/>
<line x1="2395.8" y1="2300.0" x2="2429.8" y2="2300.0" stroke="#FF6100" stroke-width="3"/>
<line x1="2395.8" y1="2356.0" x2="2429.8" y2="2356.0" stroke="#FF6100" stroke-width="3"/>
<rect x="2403.0" y="2291.0" width="18.0" height="18.0" fill="#FF6100"/>
<rect x="2403.0" y="2318.5" width="18.0" height="18.0" fill="#FF6100"/>
<rect x="2403.0" y="2347.5" width="18.0" height="18.0" fill="#FF6100"/>
<line x1="357.1" y1="1963.0" x2="357.1" y2="2569.1" stroke="#000" stroke-width="9.3" stroke-linecap="round"/>
<line x1="345.9" y1="1966.2" x2="357.1" y2="1966.2" stroke="#000" stroke-width="9.3" stroke-linecap="round"/>
<text class="b" x="338.5" y="1983.5" font-size="46" text-anchor="end">2.5</text>
<line x1="345.9" y1="2086.2" x2="357.1" y2="2086.2" stroke="#000" stroke-width="9.3" stroke-linecap="round"/>
<text class="b" x="338.5" y="2103.5" font-size="46" text-anchor="end">2.0</text>
<line x1="345.9" y1="2206.1" x2="357.1" y2="2206.1" stroke="#000" stroke-width="9.3" stroke-linecap="round"/>
<text class="b" x="338.5" y="2223.4" font-size="46" text-anchor="end">1.5</text>
<line x1="345.9" y1="2326.1" x2="357.1" y2="2326.1" stroke="#000" stroke-width="9.3" stroke-linecap="round"/>
<text class="b" x="338.5" y="2343.4" font-size="46" text-anchor="end">1.0</text>
<line x1="345.9" y1="2446.0" x2="357.1" y2="2446.0" stroke="#000" stroke-width="9.3" stroke-linecap="round"/>
<text class="b" x="338.5" y="2463.3" font-size="46" text-anchor="end">0.5</text>
<line x1="345.9" y1="2566.0" x2="357.1" y2="2566.0" stroke="#000" stroke-width="9.3" stroke-linecap="round"/>
<text class="b" x="338.5" y="2583.3" font-size="46" text-anchor="end">0.0</text>
<line x1="357.0" y1="2566.6" x2="2483.0" y2="2566.6" stroke="#000" stroke-width="9.5" stroke-linecap="round"/>
<line x1="473.7" y1="2566.6" x2="473.7" y2="2579.6" stroke="#000" stroke-width="8" stroke-linecap="round"/>
<line x1="743.3" y1="2566.6" x2="743.3" y2="2579.6" stroke="#000" stroke-width="8" stroke-linecap="round"/>
<line x1="1012.9" y1="2566.6" x2="1012.9" y2="2579.6" stroke="#000" stroke-width="8" stroke-linecap="round"/>
<line x1="1282.5" y1="2566.6" x2="1282.5" y2="2579.6" stroke="#000" stroke-width="8" stroke-linecap="round"/>
<line x1="1552.1" y1="2566.6" x2="1552.1" y2="2579.6" stroke="#000" stroke-width="8" stroke-linecap="round"/>
<line x1="1821.7" y1="2566.6" x2="1821.7" y2="2579.6" stroke="#000" stroke-width="8" stroke-linecap="round"/>
<line x1="2091.3" y1="2566.6" x2="2091.3" y2="2579.6" stroke="#000" stroke-width="8" stroke-linecap="round"/>
<line x1="2360.9" y1="2566.6" x2="2360.9" y2="2579.6" stroke="#000" stroke-width="8" stroke-linecap="round"/>
<text class="b" x="475.0" y="2222.5" font-size="40" text-anchor="middle">p=0.0374</text>
<line x1="420.2" y1="2250.0" x2="524.8" y2="2250.0" stroke="#000" stroke-width="8.5" stroke-linecap="round"/>
<text class="n" x="1558.0" y="2215.0" font-size="47" text-anchor="middle">ns</text>
<line x1="1511.8" y1="2242.5" x2="1605.8" y2="2242.5" stroke="#000" stroke-width="8.5" stroke-linecap="round"/>
<text class="b" x="1822.5" y="2139.0" font-size="40" text-anchor="middle">p=0.0003</text>
<line x1="1769.2" y1="2166.5" x2="1873.2" y2="2166.5" stroke="#000" stroke-width="8.5" stroke-linecap="round"/>
<text class="b" x="490.7" y="2619.0" font-size="45" text-anchor="end" transform="rotate(-45 490.7 2619.0)">SLC7A11</text>
<text class="b" x="760.3" y="2619.0" font-size="45" text-anchor="end" transform="rotate(-45 760.3 2619.0)">CD36</text>
<text class="b" x="1029.9" y="2619.0" font-size="45" text-anchor="end" transform="rotate(-45 1029.9 2619.0)">GPX4</text>
<text class="b" x="1299.5" y="2619.0" font-size="45" text-anchor="end" transform="rotate(-45 1299.5 2619.0)">SLC40A1</text>
<text class="b" x="1569.1" y="2619.0" font-size="45" text-anchor="end" transform="rotate(-45 1569.1 2619.0)">FSP1</text>
<text class="b" x="1838.7" y="2619.0" font-size="45" text-anchor="end" transform="rotate(-45 1838.7 2619.0)">PTGS2</text>
<text class="b" x="2108.3" y="2619.0" font-size="45" text-anchor="end" transform="rotate(-45 2108.3 2619.0)">ACACA</text>
<text class="b" x="2377.9" y="2619.0" font-size="45" text-anchor="end" transform="rotate(-45 2377.9 2619.0)">ACLY</text>
<svg x="3361.0" y="2018.5" width="177.5" height="103.0" viewBox="3361.0 2018.5 177.5 103.0">
<rect x="3361.0" y="2018.5" width="177.5" height="103.0" fill="#dedede"/>
<g fill="#000"><rect x="3366.5" y="2028.5" width="111.0" height="97.0" rx="48.5" fill-opacity="0.018"/><rect x="3371.0" y="2033.0" width="102.0" height="88.0" rx="44.0" fill-opacity="0.027"/><rect x="3375.5" y="2037.5" width="93.0" height="79.0" rx="39.5" fill-opacity="0.041"/><rect x="3379.1" y="2041.1" width="85.8" height="71.8" rx="35.9" fill-opacity="0.056"/><rect x="3383.2" y="2045.2" width="77.7" height="63.7" rx="31.8" fill-opacity="0.062"/><rect x="3387.2" y="2049.2" width="69.6" height="55.6" rx="27.8" fill-opacity="0.063"/><rect x="3391.2" y="2053.2" width="61.5" height="47.5" rx="23.8" fill-opacity="0.047"/><rect x="3395.3" y="2057.3" width="53.4" height="39.4" rx="19.7" fill-opacity="0.033"/></g>
<g fill="#000"><rect x="3380.5" y="2039.0" width="82.5" height="66.0" rx="33.0" fill-opacity="0.030"/><rect x="3382.6" y="2042.0" width="78.3" height="60.0" rx="30.0" fill-opacity="0.045"/><rect x="3384.3" y="2044.5" width="74.8" height="55.0" rx="27.5" fill-opacity="0.060"/><rect x="3382.7" y="2044.2" width="78.1" height="55.6" rx="27.8" fill-opacity="0.060"/><rect x="3384.3" y="2045.8" width="74.9" height="52.4" rx="26.2" fill-opacity="0.096"/><rect x="3385.9" y="2047.4" width="71.7" height="49.2" rx="24.6" fill-opacity="0.153"/><rect x="3387.2" y="2048.7" width="69.1" height="46.6" rx="23.3" fill-opacity="0.236"/><rect x="3388.6" y="2050.1" width="66.3" height="43.8" rx="21.9" fill-opacity="0.327"/><rect x="3390.1" y="2051.6" width="63.4" height="40.9" rx="20.4" fill-opacity="0.459"/><rect x="3391.5" y="2053.0" width="60.5" height="38.0" rx="19.0" fill-opacity="0.600"/><rect x="3392.9" y="2054.4" width="57.6" height="35.1" rx="17.6" fill-opacity="1.000"/></g>
<g fill="#000"><rect x="3388.0" y="2046.0" width="69.0" height="54.0" rx="27.0" fill-opacity="0.030"/><rect x="3390.1" y="2049.0" width="64.8" height="48.0" rx="24.0" fill-opacity="0.045"/><rect x="3391.8" y="2051.5" width="61.3" height="43.0" rx="21.5" fill-opacity="0.060"/><rect x="3391.4" y="2052.4" width="62.2" height="41.2" rx="20.6" fill-opacity="0.060"/><rect x="3392.6" y="2053.6" width="59.8" height="38.8" rx="19.4" fill-opacity="0.096"/><rect x="3393.8" y="2054.8" width="57.4" height="36.4" rx="18.2" fill-opacity="0.153"/><rect x="3394.8" y="2055.8" width="55.5" height="34.5" rx="17.2" fill-opacity="0.236"/><rect x="3395.8" y="2056.8" width="53.3" height="32.3" rx="16.2" fill-opacity="0.327"/><rect x="3396.9" y="2057.9" width="51.2" height="30.2" rx="15.1" fill-opacity="0.459"/><rect x="3398.0" y="2059.0" width="49.0" height="28.0" rx="14.0" fill-opacity="0.600"/><rect x="3399.1" y="2060.1" width="46.8" height="25.8" rx="12.9" fill-opacity="1.000"/></g>
<g fill="#000"><rect x="3463.0" y="2055.0" width="71.5" height="37.5" rx="18.8" fill-opacity="0.030"/><rect x="3465.1" y="2058.0" width="67.3" height="31.5" rx="15.8" fill-opacity="0.045"/><rect x="3466.8" y="2060.5" width="63.8" height="26.5" rx="13.2" fill-opacity="0.060"/><rect x="3466.4" y="2061.4" width="64.7" height="24.7" rx="12.3" fill-opacity="0.057"/><rect x="3467.6" y="2062.6" width="62.3" height="22.3" rx="11.2" fill-opacity="0.091"/><rect x="3468.8" y="2063.8" width="59.9" height="19.9" rx="9.9" fill-opacity="0.144"/><rect x="3469.8" y="2064.8" width="58.0" height="18.0" rx="9.0" fill-opacity="0.220"/><rect x="3470.8" y="2065.8" width="55.8" height="15.8" rx="7.9" fill-opacity="0.299"/><rect x="3471.9" y="2066.9" width="53.7" height="13.7" rx="6.8" fill-opacity="0.402"/><rect x="3473.0" y="2068.0" width="51.5" height="11.5" rx="5.8" fill-opacity="0.475"/><rect x="3474.1" y="2069.1" width="49.3" height="9.3" rx="4.7" fill-opacity="0.603"/></g>
<g fill="#000"><rect x="3510.0" y="2040.0" width="25.5" height="50.0" rx="25.0" fill-opacity="0.030"/><rect x="3512.1" y="2043.0" width="21.3" height="44.0" rx="22.0" fill-opacity="0.045"/><rect x="3513.8" y="2045.5" width="17.8" height="39.0" rx="19.5" fill-opacity="0.060"/><rect x="3514.6" y="2047.6" width="16.3" height="34.8" rx="17.4" fill-opacity="0.054"/><rect x="3515.4" y="2048.4" width="14.7" height="33.2" rx="16.6" fill-opacity="0.086"/><rect x="3516.2" y="2049.2" width="13.1" height="31.6" rx="15.8" fill-opacity="0.135"/><rect x="3516.8" y="2049.8" width="11.8" height="30.3" rx="15.2" fill-opacity="0.205"/><rect x="3517.6" y="2050.6" width="10.4" height="28.9" rx="14.4" fill-opacity="0.272"/><rect x="3518.3" y="2051.3" width="8.9" height="27.4" rx="13.7" fill-opacity="0.353"/><rect x="3519.0" y="2052.0" width="7.5" height="26.0" rx="13.0" fill-opacity="0.386"/><rect x="3519.7" y="2052.7" width="6.1" height="24.6" rx="12.3" fill-opacity="0.419"/></g>
</svg>
<svg x="3361.0" y="2153.0" width="162.5" height="95.5" viewBox="3361.0 2153.0 162.5 95.5">
<rect x="3361.0" y="2153.0" width="162.5" height="95.5" fill="#d9d9d9"/>
<g fill="#000"><rect x="3366.0" y="2149.0" width="75.0" height="60.0" rx="30.0" fill-opacity="0.006"/><rect x="3369.0" y="2152.0" width="69.0" height="54.0" rx="27.0" fill-opacity="0.009"/><rect x="3372.0" y="2155.0" width="63.0" height="48.0" rx="24.0" fill-opacity="0.013"/><rect x="3374.4" y="2157.4" width="58.2" height="43.2" rx="21.6" fill-opacity="0.017"/><rect x="3377.1" y="2160.1" width="52.8" height="37.8" rx="18.9" fill-opacity="0.019"/><rect x="3379.8" y="2162.8" width="47.4" height="32.4" rx="16.2" fill-opacity="0.018"/><rect x="3382.5" y="2165.5" width="42.0" height="27.0" rx="13.5" fill-opacity="0.013"/><rect x="3385.2" y="2168.2" width="36.6" height="21.6" rx="10.8" fill-opacity="0.009"/></g>
<g fill="#000"><rect x="3446.0" y="2149.0" width="78.0" height="58.0" rx="29.0" fill-opacity="0.005"/><rect x="3449.0" y="2152.0" width="72.0" height="52.0" rx="26.0" fill-opacity="0.007"/><rect x="3452.0" y="2155.0" width="66.0" height="46.0" rx="23.0" fill-opacity="0.011"/><rect x="3454.4" y="2157.4" width="61.2" height="41.2" rx="20.6" fill-opacity="0.014"/><rect x="3457.1" y="2160.1" width="55.8" height="35.8" rx="17.9" fill-opacity="0.015"/><rect x="3459.8" y="2162.8" width="50.4" height="30.4" rx="15.2" fill-opacity="0.014"/><rect x="3462.5" y="2165.5" width="45.0" height="25.0" rx="12.5" fill-opacity="0.010"/><rect x="3465.2" y="2168.2" width="39.6" height="19.6" rx="9.8" fill-opacity="0.007"/></g>
<g fill="#000"><rect x="3363.0" y="2187.5" width="80.0" height="48.5" rx="24.2" fill-opacity="0.030"/><rect x="3365.1" y="2190.5" width="75.8" height="42.5" rx="21.2" fill-opacity="0.045"/><rect x="3366.8" y="2193.0" width="72.3" height="37.5" rx="18.8" fill-opacity="0.060"/><rect x="3365.2" y="2192.7" width="75.6" height="38.1" rx="19.1" fill-opacity="0.060"/><rect x="3366.8" y="2194.3" width="72.4" height="34.9" rx="17.4" fill-opacity="0.096"/><rect x="3368.4" y="2195.9" width="69.2" height="31.7" rx="15.8" fill-opacity="0.153"/><rect x="3369.7" y="2197.2" width="66.6" height="29.1" rx="14.6" fill-opacity="0.236"/><rect x="3371.1" y="2198.6" width="63.8" height="26.3" rx="13.1" fill-opacity="0.327"/><rect x="3372.6" y="2200.1" width="60.9" height="23.4" rx="11.7" fill-opacity="0.459"/><rect x="3374.0" y="2201.5" width="58.0" height="20.5" rx="10.2" fill-opacity="0.600"/><rect x="3375.4" y="2202.9" width="55.1" height="17.6" rx="8.8" fill-opacity="1.000"/></g>
<g fill="#000"><rect x="3443.0" y="2184.0" width="84.0" height="48.5" rx="24.2" fill-opacity="0.030"/><rect x="3445.1" y="2187.0" width="79.8" height="42.5" rx="21.2" fill-opacity="0.045"/><rect x="3446.8" y="2189.5" width="76.3" height="37.5" rx="18.8" fill-opacity="0.060"/><rect x="3445.2" y="2189.2" width="79.6" height="38.1" rx="19.1" fill-opacity="0.060"/><rect x="3446.8" y="2190.8" width="76.4" height="34.9" rx="17.4" fill-opacity="0.096"/><rect x="3448.4" y="2192.4" width="73.2" height="31.7" rx="15.8" fill-opacity="0.153"/><rect x="3449.7" y="2193.7" width="70.6" height="29.1" rx="14.6" fill-opacity="0.236"/><rect x="3451.1" y="2195.1" width="67.8" height="26.3" rx="13.1" fill-opacity="0.327"/><rect x="3452.6" y="2196.6" width="64.9" height="23.4" rx="11.7" fill-opacity="0.459"/><rect x="3454.0" y="2198.0" width="62.0" height="20.5" rx="10.2" fill-opacity="0.600"/><rect x="3455.4" y="2199.4" width="59.1" height="17.6" rx="8.8" fill-opacity="1.000"/></g>
</svg>
<svg x="3361.0" y="2280.0" width="177.5" height="76.0" viewBox="3361.0 2280.0 177.5 76.0">
<rect x="3361.0" y="2280.0" width="177.5" height="76.0" fill="#d2d2d2"/>
<g fill="#000"><rect x="3373.0" y="2287.5" width="89.0" height="55.0" rx="27.5" fill-opacity="0.030"/><rect x="3375.1" y="2290.5" width="84.8" height="49.0" rx="24.5" fill-opacity="0.045"/><rect x="3376.8" y="2293.0" width="81.3" height="44.0" rx="22.0" fill-opacity="0.060"/><rect x="3375.2" y="2292.7" width="84.6" height="44.6" rx="22.3" fill-opacity="0.060"/><rect x="3376.8" y="2294.3" width="81.4" height="41.4" rx="20.7" fill-opacity="0.096"/><rect x="3378.4" y="2295.9" width="78.2" height="38.2" rx="19.1" fill-opacity="0.153"/><rect x="3379.7" y="2297.2" width="75.6" height="35.6" rx="17.8" fill-opacity="0.236"/><rect x="3381.1" y="2298.6" width="72.8" height="32.8" rx="16.4" fill-opacity="0.327"/><rect x="3382.6" y="2300.1" width="69.9" height="29.9" rx="14.9" fill-opacity="0.459"/><rect x="3384.0" y="2301.5" width="67.0" height="27.0" rx="13.5" fill-opacity="0.600"/><rect x="3385.4" y="2302.9" width="64.1" height="24.1" rx="12.1" fill-opacity="1.000"/></g>
<g fill="#000"><rect x="3455.5" y="2290.0" width="82.5" height="42.5" rx="21.2" fill-opacity="0.030"/><rect x="3457.6" y="2293.0" width="78.3" height="36.5" rx="18.2" fill-opacity="0.045"/><rect x="3459.3" y="2295.5" width="74.8" height="31.5" rx="15.8" fill-opacity="0.060"/><rect x="3457.7" y="2295.2" width="78.1" height="32.1" rx="16.1" fill-opacity="0.060"/><rect x="3459.3" y="2296.8" width="74.9" height="28.9" rx="14.4" fill-opacity="0.096"/><rect x="3460.9" y="2298.4" width="71.7" height="25.7" rx="12.8" fill-opacity="0.153"/><rect x="3462.2" y="2299.7" width="69.1" height="23.1" rx="11.6" fill-opacity="0.236"/><rect x="3463.6" y="2301.1" width="66.3" height="20.3" rx="10.1" fill-opacity="0.327"/><rect x="3465.1" y="2302.6" width="63.4" height="17.4" rx="8.7" fill-opacity="0.459"/><rect x="3466.5" y="2304.0" width="60.5" height="14.5" rx="7.2" fill-opacity="0.600"/><rect x="3467.9" y="2305.4" width="57.6" height="11.6" rx="5.8" fill-opacity="1.000"/></g>
</svg>
<svg x="3361.0" y="2387.5" width="177.5" height="79.0" viewBox="3361.0 2387.5 177.5 79.0">
<rect x="3361.0" y="2387.5" width="177.5" height="79.0" fill="#dcdcdc"/>
<g fill="#000"><rect x="3357.0" y="2392.5" width="92.5" height="47.5" rx="23.8" fill-opacity="0.030"/><rect x="3359.1" y="2395.5" width="88.3" height="41.5" rx="20.8" fill-opacity="0.045"/><rect x="3360.8" y="2398.0" width="84.8" height="36.5" rx="18.2" fill-opacity="0.060"/><rect x="3359.2" y="2397.7" width="88.1" height="37.1" rx="18.6" fill-opacity="0.060"/><rect x="3360.8" y="2399.3" width="84.9" height="33.9" rx="16.9" fill-opacity="0.096"/><rect x="3362.4" y="2400.9" width="81.7" height="30.7" rx="15.3" fill-opacity="0.153"/><rect x="3363.7" y="2402.2" width="79.1" height="28.1" rx="14.1" fill-opacity="0.236"/><rect x="3365.1" y="2403.6" width="76.3" height="25.3" rx="12.6" fill-opacity="0.327"/><rect x="3366.6" y="2405.1" width="73.4" height="22.4" rx="11.2" fill-opacity="0.459"/><rect x="3368.0" y="2406.5" width="70.5" height="19.5" rx="9.8" fill-opacity="0.600"/><rect x="3369.4" y="2407.9" width="67.6" height="16.6" rx="8.3" fill-opacity="1.000"/></g>
<g fill="#000"><rect x="3435.5" y="2395.0" width="104.0" height="45.0" rx="22.5" fill-opacity="0.030"/><rect x="3437.6" y="2398.0" width="99.8" height="39.0" rx="19.5" fill-opacity="0.045"/><rect x="3439.3" y="2400.5" width="96.3" height="34.0" rx="17.0" fill-opacity="0.060"/><rect x="3437.7" y="2400.2" width="99.6" height="34.6" rx="17.3" fill-opacity="0.060"/><rect x="3439.3" y="2401.8" width="96.4" height="31.4" rx="15.7" fill-opacity="0.096"/><rect x="3440.9" y="2403.4" width="93.2" height="28.2" rx="14.1" fill-opacity="0.153"/><rect x="3442.2" y="2404.7" width="90.6" height="25.6" rx="12.8" fill-opacity="0.236"/><rect x="3443.6" y="2406.1" width="87.8" height="22.8" rx="11.4" fill-opacity="0.327"/><rect x="3445.1" y="2407.6" width="84.9" height="19.9" rx="9.9" fill-opacity="0.459"/><rect x="3446.5" y="2409.0" width="82.0" height="17.0" rx="8.5" fill-opacity="0.600"/><rect x="3447.9" y="2410.4" width="79.1" height="14.1" rx="7.1" fill-opacity="1.000"/></g>
</svg>
<svg x="3361.0" y="2489.0" width="177.5" height="87.5" viewBox="3361.0 2489.0 177.5 87.5">
<rect x="3361.0" y="2489.0" width="177.5" height="87.5" fill="#dadada"/>
<g fill="#000"><rect x="3348.5" y="2498.5" width="201.0" height="71.0" rx="35.5" fill-opacity="0.013"/><rect x="3353.0" y="2503.0" width="192.0" height="62.0" rx="31.0" fill-opacity="0.020"/><rect x="3357.5" y="2507.5" width="183.0" height="53.0" rx="26.5" fill-opacity="0.030"/><rect x="3361.1" y="2511.1" width="175.8" height="45.8" rx="22.9" fill-opacity="0.040"/><rect x="3365.2" y="2515.2" width="167.7" height="37.7" rx="18.8" fill-opacity="0.044"/><rect x="3369.2" y="2519.2" width="159.6" height="29.6" rx="14.8" fill-opacity="0.043"/><rect x="3373.2" y="2523.2" width="151.5" height="21.5" rx="10.8" fill-opacity="0.032"/><rect x="3377.3" y="2527.3" width="143.4" height="13.4" rx="6.7" fill-opacity="0.022"/></g>
<g fill="#000"><rect x="3360.5" y="2512.5" width="88.0" height="45.0" rx="22.5" fill-opacity="0.030"/><rect x="3362.6" y="2515.5" width="83.8" height="39.0" rx="19.5" fill-opacity="0.045"/><rect x="3364.3" y="2518.0" width="80.3" height="34.0" rx="17.0" fill-opacity="0.060"/><rect x="3362.7" y="2517.7" width="83.6" height="34.6" rx="17.3" fill-opacity="0.060"/><rect x="3364.3" y="2519.3" width="80.4" height="31.4" rx="15.7" fill-opacity="0.096"/><rect x="3365.9" y="2520.9" width="77.2" height="28.2" rx="14.1" fill-opacity="0.153"/><rect x="3367.2" y="2522.2" width="74.6" height="25.6" rx="12.8" fill-opacity="0.236"/><rect x="3368.6" y="2523.6" width="71.8" height="22.8" rx="11.4" fill-opacity="0.327"/><rect x="3370.1" y="2525.1" width="68.9" height="19.9" rx="9.9" fill-opacity="0.459"/><rect x="3371.5" y="2526.5" width="66.0" height="17.0" rx="8.5" fill-opacity="0.600"/><rect x="3372.9" y="2527.9" width="63.1" height="14.1" rx="7.1" fill-opacity="1.000"/></g>
<g fill="#000"><rect x="3440.5" y="2507.5" width="95.0" height="47.5" rx="23.8" fill-opacity="0.030"/><rect x="3442.6" y="2510.5" width="90.8" height="41.5" rx="20.8" fill-opacity="0.045"/><rect x="3444.3" y="2513.0" width="87.3" height="36.5" rx="18.2" fill-opacity="0.060"/><rect x="3442.7" y="2512.7" width="90.6" height="37.1" rx="18.6" fill-opacity="0.060"/><rect x="3444.3" y="2514.3" width="87.4" height="33.9" rx="16.9" fill-opacity="0.096"/><rect x="3445.9" y="2515.9" width="84.2" height="30.7" rx="15.3" fill-opacity="0.153"/><rect x="3447.2" y="2517.2" width="81.6" height="28.1" rx="14.1" fill-opacity="0.236"/><rect x="3448.6" y="2518.6" width="78.8" height="25.3" rx="12.6" fill-opacity="0.327"/><rect x="3450.1" y="2520.1" width="75.9" height="22.4" rx="11.2" fill-opacity="0.459"/><rect x="3451.5" y="2521.5" width="73.0" height="19.5" rx="9.8" fill-opacity="0.600"/><rect x="3452.9" y="2522.9" width="70.1" height="16.6" rx="8.3" fill-opacity="1.000"/></g>
</svg>
<text class="b" x="3342.5" y="2091.5" font-size="45" text-anchor="end">FASN</text>
<text class="b" x="3342.5" y="2230.0" font-size="45" text-anchor="end">Nrf2</text>
<text class="b" x="3351.5" y="2335.0" font-size="45" text-anchor="end">SLC7A11</text>
<text class="b" x="3342.5" y="2451.5" font-size="45" text-anchor="end">GPX4</text>
<text class="b" x="3345.0" y="2551.5" font-size="45" text-anchor="end">GAPDH</text>
<text class="b" x="3570.0" y="2091.5" font-size="45">273 KDa</text>
<text class="b" x="3570.0" y="2230.0" font-size="45">100 KDa</text>
<text class="b" x="3570.0" y="2329.0" font-size="45">55 KDa</text>
<text class="b" x="3570.0" y="2435.0" font-size="45">19 KDa</text>
<text class="b" x="3570.0" y="2551.5" font-size="45">37 KDa</text>
<text class="b" x="3422.5" y="2601.5" font-size="45" text-anchor="end" transform="rotate(-45 3422.5 2601.5)">si NC</text>
<text class="b" x="3502.5" y="2645.0" font-size="45" text-anchor="end" transform="rotate(-45 3502.5 2645.0)">si FASN-2</text>
<svg x="3374.0" y="2963.0" width="165.0" height="53.5" viewBox="3374.0 2963.0 165.0 53.5">
<rect x="3374.0" y="2963.0" width="165.0" height="53.5" fill="#a1a5a8"/>
<g fill="#000"><rect x="3385.1" y="2994.1" width="30.3" height="13.8" rx="6.9" fill-opacity="0.023"/><rect x="3385.9" y="2994.9" width="28.7" height="12.2" rx="6.1" fill-opacity="0.035"/><rect x="3386.7" y="2995.7" width="27.1" height="10.6" rx="5.3" fill-opacity="0.052"/><rect x="3387.3" y="2996.3" width="25.8" height="9.3" rx="4.7" fill-opacity="0.072"/><rect x="3388.1" y="2997.1" width="24.4" height="7.9" rx="3.9" fill-opacity="0.083"/><rect x="3388.8" y="2997.8" width="22.9" height="6.4" rx="3.2" fill-opacity="0.085"/><rect x="3389.5" y="2998.5" width="21.5" height="5.0" rx="2.5" fill-opacity="0.066"/><rect x="3390.2" y="2999.2" width="20.1" height="3.6" rx="1.8" fill-opacity="0.047"/></g>
<g fill="#000"><rect x="3405.6" y="2995.1" width="37.8" height="12.3" rx="6.2" fill-opacity="0.017"/><rect x="3406.4" y="2995.9" width="36.2" height="10.7" rx="5.3" fill-opacity="0.026"/><rect x="3407.2" y="2996.7" width="34.6" height="9.1" rx="4.6" fill-opacity="0.038"/><rect x="3407.8" y="2997.3" width="33.3" height="7.8" rx="3.9" fill-opacity="0.052"/><rect x="3408.6" y="2998.1" width="31.9" height="6.4" rx="3.2" fill-opacity="0.058"/><rect x="3409.3" y="2998.8" width="30.4" height="4.9" rx="2.5" fill-opacity="0.058"/><rect x="3410.0" y="2999.5" width="29.0" height="3.5" rx="1.8" fill-opacity="0.043"/><rect x="3410.7" y="3000.2" width="27.6" height="2.1" rx="1.0" fill-opacity="0.030"/></g>
<g fill="#000"><rect x="3461.1" y="2993.1" width="30.3" height="12.3" rx="6.2" fill-opacity="0.020"/><rect x="3461.9" y="2993.9" width="28.7" height="10.7" rx="5.3" fill-opacity="0.030"/><rect x="3462.7" y="2994.7" width="27.1" height="9.1" rx="4.6" fill-opacity="0.045"/><rect x="3463.3" y="2995.3" width="25.8" height="7.8" rx="3.9" fill-opacity="0.062"/><rect x="3464.1" y="2996.1" width="24.4" height="6.4" rx="3.2" fill-opacity="0.070"/><rect x="3464.8" y="2996.8" width="22.9" height="4.9" rx="2.5" fill-opacity="0.071"/><rect x="3465.5" y="2997.5" width="21.5" height="3.5" rx="1.8" fill-opacity="0.054"/><rect x="3466.2" y="2998.2" width="20.1" height="2.1" rx="1.0" fill-opacity="0.038"/></g>
<g fill="#000"><rect x="3497.6" y="2993.6" width="22.8" height="13.3" rx="6.7" fill-opacity="0.018"/><rect x="3498.4" y="2994.4" width="21.2" height="11.7" rx="5.8" fill-opacity="0.027"/><rect x="3499.2" y="2995.2" width="19.6" height="10.1" rx="5.1" fill-opacity="0.041"/><rect x="3499.8" y="2995.8" width="18.3" height="8.8" rx="4.4" fill-opacity="0.056"/><rect x="3500.6" y="2996.6" width="16.9" height="7.4" rx="3.7" fill-opacity="0.062"/><rect x="3501.3" y="2997.3" width="15.4" height="5.9" rx="3.0" fill-opacity="0.063"/><rect x="3502.0" y="2998.0" width="14.0" height="4.5" rx="2.2" fill-opacity="0.047"/><rect x="3502.7" y="2998.7" width="12.6" height="3.1" rx="1.5" fill-opacity="0.033"/></g>
<g fill="#000"><rect x="3511.6" y="2979.6" width="16.8" height="15.8" rx="7.9" fill-opacity="0.024"/><rect x="3512.4" y="2980.4" width="15.2" height="14.2" rx="7.1" fill-opacity="0.037"/><rect x="3513.2" y="2981.2" width="13.6" height="12.6" rx="6.3" fill-opacity="0.055"/><rect x="3513.8" y="2981.8" width="12.3" height="11.3" rx="5.7" fill-opacity="0.077"/><rect x="3514.6" y="2982.6" width="10.9" height="9.9" rx="4.9" fill-opacity="0.088"/><rect x="3515.3" y="2983.3" width="9.4" height="8.4" rx="4.2" fill-opacity="0.091"/><rect x="3516.0" y="2984.0" width="8.0" height="7.0" rx="3.5" fill-opacity="0.071"/><rect x="3516.7" y="2984.7" width="6.6" height="5.6" rx="2.8" fill-opacity="0.051"/></g>
</svg>
<svg x="3374.0" y="3055.0" width="165.0" height="79.0" viewBox="3374.0 3055.0 165.0 79.0">
<rect x="3374.0" y="3055.0" width="165.0" height="79.0" fill="#c9cacc"/>
<g fill="#000"><rect x="3368.5" y="3058.5" width="186.0" height="76.0" rx="38.0" fill-opacity="0.015"/><rect x="3373.0" y="3063.0" width="177.0" height="67.0" rx="33.5" fill-opacity="0.023"/><rect x="3377.5" y="3067.5" width="168.0" height="58.0" rx="29.0" fill-opacity="0.034"/><rect x="3381.1" y="3071.1" width="160.8" height="50.8" rx="25.4" fill-opacity="0.046"/><rect x="3385.2" y="3075.2" width="152.7" height="42.7" rx="21.3" fill-opacity="0.051"/><rect x="3389.2" y="3079.2" width="144.6" height="34.6" rx="17.3" fill-opacity="0.050"/><rect x="3393.2" y="3083.2" width="136.5" height="26.5" rx="13.2" fill-opacity="0.037"/><rect x="3397.3" y="3087.3" width="128.4" height="18.4" rx="9.2" fill-opacity="0.026"/></g>
<g fill="#000"><rect x="3381.0" y="3075.0" width="66.0" height="49.0" rx="24.5" fill-opacity="0.030"/><rect x="3383.1" y="3078.0" width="61.8" height="43.0" rx="21.5" fill-opacity="0.045"/><rect x="3384.8" y="3080.5" width="58.3" height="38.0" rx="19.0" fill-opacity="0.060"/><rect x="3384.4" y="3081.4" width="59.2" height="36.2" rx="18.1" fill-opacity="0.060"/><rect x="3385.6" y="3082.6" width="56.8" height="33.8" rx="16.9" fill-opacity="0.096"/><rect x="3386.8" y="3083.8" width="54.4" height="31.4" rx="15.7" fill-opacity="0.153"/><rect x="3387.8" y="3084.8" width="52.5" height="29.5" rx="14.7" fill-opacity="0.236"/><rect x="3388.8" y="3085.8" width="50.3" height="27.3" rx="13.7" fill-opacity="0.327"/><rect x="3389.9" y="3086.9" width="48.2" height="25.2" rx="12.6" fill-opacity="0.459"/><rect x="3391.0" y="3088.0" width="46.0" height="23.0" rx="11.5" fill-opacity="0.600"/><rect x="3392.1" y="3089.1" width="43.8" height="20.8" rx="10.4" fill-opacity="1.000"/></g>
<g fill="#000"><rect x="3422.0" y="3068.0" width="41.5" height="59.5" rx="29.8" fill-opacity="0.030"/><rect x="3424.1" y="3071.0" width="37.3" height="53.5" rx="26.8" fill-opacity="0.045"/><rect x="3425.8" y="3073.5" width="33.8" height="48.5" rx="24.2" fill-opacity="0.060"/><rect x="3425.4" y="3074.4" width="34.7" height="46.7" rx="23.3" fill-opacity="0.060"/><rect x="3426.6" y="3075.6" width="32.3" height="44.3" rx="22.2" fill-opacity="0.096"/><rect x="3427.8" y="3076.8" width="29.9" height="41.9" rx="20.9" fill-opacity="0.153"/><rect x="3428.8" y="3077.8" width="28.0" height="40.0" rx="20.0" fill-opacity="0.236"/><rect x="3429.8" y="3078.8" width="25.8" height="37.8" rx="18.9" fill-opacity="0.327"/><rect x="3430.9" y="3079.9" width="23.7" height="35.7" rx="17.8" fill-opacity="0.459"/><rect x="3432.0" y="3081.0" width="21.5" height="33.5" rx="16.8" fill-opacity="0.600"/><rect x="3433.1" y="3082.1" width="19.3" height="31.3" rx="15.7" fill-opacity="1.000"/></g>
<g fill="#000"><rect x="3461.0" y="3078.0" width="49.0" height="42.5" rx="21.2" fill-opacity="0.030"/><rect x="3463.1" y="3081.0" width="44.8" height="36.5" rx="18.2" fill-opacity="0.045"/><rect x="3464.8" y="3083.5" width="41.3" height="31.5" rx="15.8" fill-opacity="0.060"/><rect x="3464.4" y="3084.4" width="42.2" height="29.7" rx="14.8" fill-opacity="0.060"/><rect x="3465.6" y="3085.6" width="39.8" height="27.3" rx="13.7" fill-opacity="0.096"/><rect x="3466.8" y="3086.8" width="37.4" height="24.9" rx="12.4" fill-opacity="0.153"/><rect x="3467.8" y="3087.8" width="35.5" height="23.0" rx="11.5" fill-opacity="0.236"/><rect x="3468.8" y="3088.8" width="33.3" height="20.8" rx="10.4" fill-opacity="0.327"/><rect x="3469.9" y="3089.9" width="31.2" height="18.7" rx="9.3" fill-opacity="0.459"/><rect x="3471.0" y="3091.0" width="29.0" height="16.5" rx="8.2" fill-opacity="0.600"/><rect x="3472.1" y="3092.1" width="26.8" height="14.3" rx="7.2" fill-opacity="1.000"/></g>
<g fill="#000"><rect x="3493.0" y="3069.5" width="50.5" height="54.5" rx="27.2" fill-opacity="0.030"/><rect x="3495.1" y="3072.5" width="46.3" height="48.5" rx="24.2" fill-opacity="0.045"/><rect x="3496.8" y="3075.0" width="42.8" height="43.5" rx="21.8" fill-opacity="0.060"/><rect x="3496.4" y="3075.9" width="43.7" height="41.7" rx="20.8" fill-opacity="0.060"/><rect x="3497.6" y="3077.1" width="41.3" height="39.3" rx="19.7" fill-opacity="0.096"/><rect x="3498.8" y="3078.3" width="38.9" height="36.9" rx="18.4" fill-opacity="0.153"/><rect x="3499.8" y="3079.3" width="37.0" height="35.0" rx="17.5" fill-opacity="0.236"/><rect x="3500.8" y="3080.3" width="34.8" height="32.8" rx="16.4" fill-opacity="0.327"/><rect x="3501.9" y="3081.4" width="32.7" height="30.7" rx="15.3" fill-opacity="0.459"/><rect x="3503.0" y="3082.5" width="30.5" height="28.5" rx="14.2" fill-opacity="0.600"/><rect x="3504.1" y="3083.6" width="28.3" height="26.3" rx="13.2" fill-opacity="1.000"/></g>
</svg>
<svg x="3374.0" y="3175.0" width="165.0" height="55.0" viewBox="3374.0 3175.0 165.0 55.0">
<rect x="3374.0" y="3175.0" width="165.0" height="55.0" fill="#d6d6d6"/>
<g fill="#000"><rect x="3372.0" y="3185.5" width="74.5" height="40.5" rx="20.2" fill-opacity="0.030"/><rect x="3374.1" y="3188.5" width="70.3" height="34.5" rx="17.2" fill-opacity="0.045"/><rect x="3375.8" y="3191.0" width="66.8" height="29.5" rx="14.8" fill-opacity="0.060"/><rect x="3375.4" y="3191.9" width="67.7" height="27.7" rx="13.8" fill-opacity="0.060"/><rect x="3376.6" y="3193.1" width="65.3" height="25.3" rx="12.7" fill-opacity="0.096"/><rect x="3377.8" y="3194.3" width="62.9" height="22.9" rx="11.4" fill-opacity="0.153"/><rect x="3378.8" y="3195.3" width="61.0" height="21.0" rx="10.5" fill-opacity="0.236"/><rect x="3379.8" y="3196.3" width="58.8" height="18.8" rx="9.4" fill-opacity="0.327"/><rect x="3380.9" y="3197.4" width="56.7" height="16.7" rx="8.3" fill-opacity="0.459"/><rect x="3382.0" y="3198.5" width="54.5" height="14.5" rx="7.2" fill-opacity="0.600"/><rect x="3383.1" y="3199.6" width="52.3" height="12.3" rx="6.2" fill-opacity="1.000"/></g>
<g fill="#000"><rect x="3421.4" y="3188.9" width="22.2" height="28.7" rx="14.3" fill-opacity="0.060"/><rect x="3422.6" y="3190.1" width="19.8" height="26.3" rx="13.2" fill-opacity="0.096"/><rect x="3423.8" y="3191.3" width="17.4" height="23.9" rx="11.9" fill-opacity="0.153"/><rect x="3424.8" y="3192.3" width="15.5" height="22.0" rx="11.0" fill-opacity="0.236"/><rect x="3425.8" y="3193.3" width="13.3" height="19.8" rx="9.9" fill-opacity="0.327"/><rect x="3426.9" y="3194.4" width="11.2" height="17.7" rx="8.8" fill-opacity="0.459"/><rect x="3428.0" y="3195.5" width="9.0" height="15.5" rx="7.8" fill-opacity="0.600"/><rect x="3429.1" y="3196.6" width="6.8" height="13.3" rx="6.7" fill-opacity="1.000"/></g>
<g fill="#000"><rect x="3452.0" y="3189.0" width="43.0" height="34.0" rx="17.0" fill-opacity="0.030"/><rect x="3454.1" y="3192.0" width="38.8" height="28.0" rx="14.0" fill-opacity="0.045"/><rect x="3455.8" y="3194.5" width="35.3" height="23.0" rx="11.5" fill-opacity="0.060"/><rect x="3455.4" y="3195.4" width="36.2" height="21.2" rx="10.6" fill-opacity="0.060"/><rect x="3456.6" y="3196.6" width="33.8" height="18.8" rx="9.4" fill-opacity="0.096"/><rect x="3457.8" y="3197.8" width="31.4" height="16.4" rx="8.2" fill-opacity="0.153"/><rect x="3458.8" y="3198.8" width="29.5" height="14.5" rx="7.2" fill-opacity="0.236"/><rect x="3459.8" y="3199.8" width="27.3" height="12.3" rx="6.2" fill-opacity="0.327"/><rect x="3460.9" y="3200.9" width="25.2" height="10.2" rx="5.1" fill-opacity="0.459"/><rect x="3462.0" y="3202.0" width="23.0" height="8.0" rx="4.0" fill-opacity="0.600"/><rect x="3463.1" y="3203.1" width="20.8" height="5.8" rx="2.9" fill-opacity="1.000"/></g>
<g fill="#000"><rect x="3480.4" y="3197.4" width="43.2" height="18.2" rx="9.1" fill-opacity="0.030"/><rect x="3481.6" y="3198.6" width="40.8" height="15.8" rx="7.9" fill-opacity="0.046"/><rect x="3482.8" y="3199.8" width="38.4" height="13.4" rx="6.7" fill-opacity="0.070"/><rect x="3483.8" y="3200.8" width="36.5" height="11.5" rx="5.7" fill-opacity="0.099"/><rect x="3484.8" y="3201.8" width="34.3" height="9.3" rx="4.7" fill-opacity="0.116"/><rect x="3485.9" y="3202.9" width="32.2" height="7.2" rx="3.6" fill-opacity="0.124"/><rect x="3487.0" y="3204.0" width="30.0" height="5.0" rx="2.5" fill-opacity="0.100"/><rect x="3488.1" y="3205.1" width="27.8" height="2.8" rx="1.4" fill-opacity="0.074"/></g>
<g fill="#000"><rect x="3508.4" y="3184.4" width="16.2" height="22.2" rx="11.1" fill-opacity="0.018"/><rect x="3509.6" y="3185.6" width="13.8" height="19.8" rx="9.9" fill-opacity="0.027"/><rect x="3510.8" y="3186.8" width="11.4" height="17.4" rx="8.7" fill-opacity="0.041"/><rect x="3511.8" y="3187.8" width="9.5" height="15.5" rx="7.7" fill-opacity="0.056"/><rect x="3512.8" y="3188.8" width="7.3" height="13.3" rx="6.7" fill-opacity="0.062"/><rect x="3513.9" y="3189.9" width="5.2" height="11.2" rx="5.6" fill-opacity="0.063"/><rect x="3515.0" y="3191.0" width="3.0" height="9.0" rx="4.5" fill-opacity="0.047"/></g>
</svg>
<svg x="3374.0" y="3269.0" width="165.0" height="67.0" viewBox="3374.0 3269.0 165.0 67.0">
<rect x="3374.0" y="3269.0" width="165.0" height="67.0" fill="#dedede"/>
<g fill="#000"><rect x="3377.7" y="3285.2" width="69.6" height="24.6" rx="12.3" fill-opacity="0.027"/><rect x="3379.3" y="3286.8" width="66.4" height="21.4" rx="10.7" fill-opacity="0.042"/><rect x="3380.9" y="3288.4" width="63.2" height="18.2" rx="9.1" fill-opacity="0.063"/><rect x="3382.2" y="3289.7" width="60.6" height="15.6" rx="7.8" fill-opacity="0.088"/><rect x="3383.6" y="3291.1" width="57.8" height="12.8" rx="6.4" fill-opacity="0.102"/><rect x="3385.1" y="3292.6" width="54.9" height="9.9" rx="4.9" fill-opacity="0.107"/><rect x="3386.5" y="3294.0" width="52.0" height="7.0" rx="3.5" fill-opacity="0.084"/><rect x="3387.9" y="3295.4" width="49.1" height="4.1" rx="2.1" fill-opacity="0.061"/></g>
<g fill="#000"><rect x="3455.2" y="3283.2" width="34.6" height="21.6" rx="10.8" fill-opacity="0.018"/><rect x="3456.8" y="3284.8" width="31.4" height="18.4" rx="9.2" fill-opacity="0.027"/><rect x="3458.4" y="3286.4" width="28.2" height="15.2" rx="7.6" fill-opacity="0.041"/><rect x="3459.7" y="3287.7" width="25.6" height="12.6" rx="6.3" fill-opacity="0.056"/><rect x="3461.1" y="3289.1" width="22.8" height="9.8" rx="4.9" fill-opacity="0.062"/><rect x="3462.6" y="3290.6" width="19.9" height="6.9" rx="3.4" fill-opacity="0.063"/><rect x="3464.0" y="3292.0" width="17.0" height="4.0" rx="2.0" fill-opacity="0.047"/><rect x="3465.4" y="3293.4" width="14.1" height="1.1" rx="0.6" fill-opacity="0.033"/></g>
<g fill="#000"><rect x="3490.2" y="3284.2" width="36.6" height="20.6" rx="10.3" fill-opacity="0.009"/><rect x="3491.8" y="3285.8" width="33.4" height="17.4" rx="8.7" fill-opacity="0.014"/><rect x="3493.4" y="3287.4" width="30.2" height="14.2" rx="7.1" fill-opacity="0.020"/><rect x="3494.7" y="3288.7" width="27.6" height="11.6" rx="5.8" fill-opacity="0.027"/><rect x="3496.1" y="3290.1" width="24.8" height="8.8" rx="4.4" fill-opacity="0.029"/><rect x="3497.6" y="3291.6" width="21.9" height="5.9" rx="2.9" fill-opacity="0.028"/><rect x="3499.0" y="3293.0" width="19.0" height="3.0" rx="1.5" fill-opacity="0.020"/></g>
</svg>
<svg x="3374.0" y="3375.0" width="165.0" height="71.5" viewBox="3374.0 3375.0 165.0 71.5">
<rect x="3374.0" y="3375.0" width="165.0" height="71.5" fill="#a8a8a8"/>
<rect x="3374.0" y="3375.0" width="165.0" height="71.5" fill="url(#gnf)"/>
<g fill="#000"><rect x="3366.5" y="3366.5" width="188.0" height="79.0" rx="39.5" fill-opacity="0.011"/><rect x="3371.0" y="3371.0" width="179.0" height="70.0" rx="35.0" fill-opacity="0.016"/><rect x="3375.5" y="3375.5" width="170.0" height="61.0" rx="30.5" fill-opacity="0.024"/><rect x="3379.1" y="3379.1" width="162.8" height="53.8" rx="26.9" fill-opacity="0.032"/><rect x="3383.2" y="3383.2" width="154.7" height="45.7" rx="22.8" fill-opacity="0.035"/><rect x="3387.2" y="3387.2" width="146.6" height="37.6" rx="18.8" fill-opacity="0.035"/><rect x="3391.2" y="3391.2" width="138.5" height="29.5" rx="14.8" fill-opacity="0.025"/><rect x="3395.3" y="3395.3" width="130.4" height="21.4" rx="10.7" fill-opacity="0.017"/></g>
<g fill="#000"><rect x="3380.5" y="3374.0" width="79.0" height="40.0" rx="20.0" fill-opacity="0.030"/><rect x="3382.6" y="3377.0" width="74.8" height="34.0" rx="17.0" fill-opacity="0.045"/><rect x="3384.3" y="3379.5" width="71.3" height="29.0" rx="14.5" fill-opacity="0.060"/><rect x="3383.9" y="3380.4" width="72.2" height="27.2" rx="13.6" fill-opacity="0.054"/><rect x="3385.1" y="3381.6" width="69.8" height="24.8" rx="12.4" fill-opacity="0.086"/><rect x="3386.3" y="3382.8" width="67.4" height="22.4" rx="11.2" fill-opacity="0.135"/><rect x="3387.3" y="3383.8" width="65.5" height="20.5" rx="10.2" fill-opacity="0.205"/><rect x="3388.3" y="3384.8" width="63.3" height="18.3" rx="9.2" fill-opacity="0.272"/><rect x="3389.4" y="3385.9" width="61.2" height="16.2" rx="8.1" fill-opacity="0.353"/><rect x="3390.5" y="3387.0" width="59.0" height="14.0" rx="7.0" fill-opacity="0.386"/><rect x="3391.6" y="3388.1" width="56.8" height="11.8" rx="5.9" fill-opacity="0.419"/></g>
<g fill="#000"><rect x="3380.5" y="3390.0" width="79.0" height="46.0" rx="23.0" fill-opacity="0.030"/><rect x="3382.6" y="3393.0" width="74.8" height="40.0" rx="20.0" fill-opacity="0.045"/><rect x="3384.3" y="3395.5" width="71.3" height="35.0" rx="17.5" fill-opacity="0.060"/><rect x="3382.7" y="3395.2" width="74.6" height="35.6" rx="17.8" fill-opacity="0.060"/><rect x="3384.3" y="3396.8" width="71.4" height="32.4" rx="16.2" fill-opacity="0.096"/><rect x="3385.9" y="3398.4" width="68.2" height="29.2" rx="14.6" fill-opacity="0.153"/><rect x="3387.2" y="3399.7" width="65.6" height="26.6" rx="13.3" fill-opacity="0.236"/><rect x="3388.6" y="3401.1" width="62.8" height="23.8" rx="11.9" fill-opacity="0.327"/><rect x="3390.1" y="3402.6" width="59.9" height="20.9" rx="10.4" fill-opacity="0.459"/><rect x="3391.5" y="3404.0" width="57.0" height="18.0" rx="9.0" fill-opacity="0.600"/><rect x="3392.9" y="3405.4" width="54.1" height="15.1" rx="7.6" fill-opacity="1.000"/></g>
<g fill="#000"><rect x="3458.0" y="3382.5" width="84.0" height="50.0" rx="25.0" fill-opacity="0.030"/><rect x="3460.1" y="3385.5" width="79.8" height="44.0" rx="22.0" fill-opacity="0.045"/><rect x="3461.8" y="3388.0" width="76.3" height="39.0" rx="19.5" fill-opacity="0.060"/><rect x="3460.2" y="3387.7" width="79.6" height="39.6" rx="19.8" fill-opacity="0.060"/><rect x="3461.8" y="3389.3" width="76.4" height="36.4" rx="18.2" fill-opacity="0.096"/><rect x="3463.4" y="3390.9" width="73.2" height="33.2" rx="16.6" fill-opacity="0.153"/><rect x="3464.7" y="3392.2" width="70.6" height="30.6" rx="15.3" fill-opacity="0.236"/><rect x="3466.1" y="3393.6" width="67.8" height="27.8" rx="13.9" fill-opacity="0.327"/><rect x="3467.6" y="3395.1" width="64.9" height="24.9" rx="12.4" fill-opacity="0.459"/><rect x="3469.0" y="3396.5" width="62.0" height="22.0" rx="11.0" fill-opacity="0.600"/><rect x="3470.4" y="3397.9" width="59.1" height="19.1" rx="9.6" fill-opacity="1.000"/></g>
</svg>
<svg x="3374.0" y="3485.0" width="165.0" height="87.5" viewBox="3374.0 3485.0 165.0 87.5">
<rect x="3374.0" y="3485.0" width="165.0" height="87.5" fill="#d4d4d4"/>
<g fill="#000"><rect x="3358.5" y="3492.5" width="198.0" height="73.0" rx="36.5" fill-opacity="0.017"/><rect x="3363.0" y="3497.0" width="189.0" height="64.0" rx="32.0" fill-opacity="0.026"/><rect x="3367.5" y="3501.5" width="180.0" height="55.0" rx="27.5" fill-opacity="0.038"/><rect x="3371.1" y="3505.1" width="172.8" height="47.8" rx="23.9" fill-opacity="0.052"/><rect x="3375.2" y="3509.2" width="164.7" height="39.7" rx="19.8" fill-opacity="0.058"/><rect x="3379.2" y="3513.2" width="156.6" height="31.6" rx="15.8" fill-opacity="0.058"/><rect x="3383.2" y="3517.2" width="148.5" height="23.5" rx="11.8" fill-opacity="0.043"/><rect x="3387.3" y="3521.3" width="140.4" height="15.4" rx="7.7" fill-opacity="0.030"/></g>
<g fill="#000"><rect x="3370.5" y="3510.0" width="86.5" height="45.0" rx="22.5" fill-opacity="0.030"/><rect x="3372.6" y="3513.0" width="82.3" height="39.0" rx="19.5" fill-opacity="0.045"/><rect x="3374.3" y="3515.5" width="78.8" height="34.0" rx="17.0" fill-opacity="0.060"/><rect x="3372.7" y="3515.2" width="82.1" height="34.6" rx="17.3" fill-opacity="0.060"/><rect x="3374.3" y="3516.8" width="78.9" height="31.4" rx="15.7" fill-opacity="0.096"/><rect x="3375.9" y="3518.4" width="75.7" height="28.2" rx="14.1" fill-opacity="0.153"/><rect x="3377.2" y="3519.7" width="73.1" height="25.6" rx="12.8" fill-opacity="0.236"/><rect x="3378.6" y="3521.1" width="70.3" height="22.8" rx="11.4" fill-opacity="0.327"/><rect x="3380.1" y="3522.6" width="67.4" height="19.9" rx="9.9" fill-opacity="0.459"/><rect x="3381.5" y="3524.0" width="64.5" height="17.0" rx="8.5" fill-opacity="0.600"/><rect x="3382.9" y="3525.4" width="61.6" height="14.1" rx="7.1" fill-opacity="1.000"/></g>
<g fill="#000"><rect x="3449.0" y="3502.5" width="95.5" height="50.0" rx="25.0" fill-opacity="0.030"/><rect x="3451.1" y="3505.5" width="91.3" height="44.0" rx="22.0" fill-opacity="0.045"/><rect x="3452.8" y="3508.0" width="87.8" height="39.0" rx="19.5" fill-opacity="0.060"/><rect x="3451.2" y="3507.7" width="91.1" height="39.6" rx="19.8" fill-opacity="0.060"/><rect x="3452.8" y="3509.3" width="87.9" height="36.4" rx="18.2" fill-opacity="0.096"/><rect x="3454.4" y="3510.9" width="84.7" height="33.2" rx="16.6" fill-opacity="0.153"/><rect x="3455.7" y="3512.2" width="82.1" height="30.6" rx="15.3" fill-opacity="0.236"/><rect x="3457.1" y="3513.6" width="79.3" height="27.8" rx="13.9" fill-opacity="0.327"/><rect x="3458.6" y="3515.1" width="76.4" height="24.9" rx="12.4" fill-opacity="0.459"/><rect x="3460.0" y="3516.5" width="73.5" height="22.0" rx="11.0" fill-opacity="0.600"/><rect x="3461.4" y="3517.9" width="70.6" height="19.1" rx="9.6" fill-opacity="1.000"/></g>
</svg>
<text class="b" x="3362.5" y="3006.5" font-size="45" text-anchor="end">p-STAT3</text>
<text class="b" x="3365.0" y="3116.5" font-size="45" text-anchor="end">STAT3</text>
<text class="b" x="3357.5" y="3222.5" font-size="45" text-anchor="end">TLR4</text>
<text class="b" x="3367.5" y="3314.0" font-size="45" text-anchor="end">PPARγ</text>
<text class="b" x="3367.5" y="3428.5" font-size="45" text-anchor="end">NF-κB p65</text>
<text class="b" x="3362.5" y="3551.5" font-size="45" text-anchor="end">GAPDH</text>
<text class="b" x="3571.0" y="2996.0" font-size="45">100 KDa</text>
<text class="b" x="3571.0" y="3106.0" font-size="45">100 KDa</text>
<text class="b" x="3571.0" y="3216.5" font-size="45">100 KDa</text>
<text class="b" x="3571.0" y="3307.5" font-size="45">60 KDa</text>
<text class="b" x="3571.0" y="3420.0" font-size="45">65 KDa</text>
<text class="b" x="3571.0" y="3539.0" font-size="45">37 KDa</text>
<text class="b" x="3442.0" y="3593.5" font-size="45" text-anchor="end" transform="rotate(-45 3442.0 3593.5)">si NC</text>
<text class="b" x="3513.5" y="3613.5" font-size="45" text-anchor="end" transform="rotate(-45 3513.5 3613.5)">si FASN-2</text>
<path d="M252.5 3572.5V3097.5H337.5V3572.5" fill="none" stroke="#0A7C96" stroke-width="8" stroke-linejoin="miter"/>
<line x1="295.0" y1="3063.5" x2="295.0" y2="3124.0" stroke="#0A7C96" stroke-width="2.4"/>
<line x1="271.5" y1="3063.5" x2="318.5" y2="3063.5" stroke="#0A7C96" stroke-width="2.4"/>
<line x1="271.5" y1="3124.0" x2="318.5" y2="3124.0" stroke="#0A7C96" stroke-width="2.4"/>
<circle cx="276.5" cy="3071.0" r="9" fill="#0A7C96"/>
<circle cx="313.5" cy="3083.0" r="9" fill="#0A7C96"/>
<circle cx="295.0" cy="3128.5" r="9" fill="#0A7C96"/>
<path d="M393.0 3572.5V3343.0H477.5V3572.5" fill="none" stroke="#FF6100" stroke-width="8" stroke-linejoin="miter"/>
<line x1="435.2" y1="3261.5" x2="435.2" y2="3416.0" stroke="#FF6100" stroke-width="2.4"/>
<line x1="411.8" y1="3261.5" x2="458.8" y2="3261.5" stroke="#FF6100" stroke-width="2.4"/>
<line x1="411.8" y1="3416.0" x2="458.8" y2="3416.0" stroke="#FF6100" stroke-width="2.4"/>
<rect x="407.5" y="3277.5" width="18.0" height="18.0" fill="#FF6100"/>
<rect x="444.5" y="3292.5" width="18.0" height="18.0" fill="#FF6100"/>
<rect x="426.0" y="3418.5" width="18.0" height="18.0" fill="#FF6100"/>
<path d="M533.0 3572.5V3181.5H617.5V3572.5" fill="none" stroke="#0A7C96" stroke-width="8" stroke-linejoin="miter"/>
<line x1="575.2" y1="3112.5" x2="575.2" y2="3242.0" stroke="#0A7C96" stroke-width="2.4"/>
<line x1="551.8" y1="3112.5" x2="598.8" y2="3112.5" stroke="#0A7C96" stroke-width="2.4"/>
<line x1="551.8" y1="3242.0" x2="598.8" y2="3242.0" stroke="#0A7C96" stroke-width="2.4"/>
<circle cx="575.0" cy="3105.0" r="9" fill="#0A7C96"/>
<circle cx="575.0" cy="3196.0" r="9" fill="#0A7C96"/>
<circle cx="575.0" cy="3231.5" r="9" fill="#0A7C96"/>
<path d="M673.0 3572.5V3185.0H757.5V3572.5" fill="none" stroke="#FF6100" stroke-width="8" stroke-linejoin="miter"/>
<line x1="715.2" y1="3127.5" x2="715.2" y2="3233.0" stroke="#FF6100" stroke-width="2.4"/>
<line x1="691.8" y1="3127.5" x2="738.8" y2="3127.5" stroke="#FF6100" stroke-width="2.4"/>
<line x1="691.8" y1="3233.0" x2="738.8" y2="3233.0" stroke="#FF6100" stroke-width="2.4"/>
<rect x="706.0" y="3116.0" width="18.0" height="18.0" fill="#FF6100"/>
<rect x="706.0" y="3177.5" width="18.0" height="18.0" fill="#FF6100"/>
<rect x="706.0" y="3221.0" width="18.0" height="18.0" fill="#FF6100"/>
<line x1="200.8" y1="2967.5" x2="200.8" y2="3571.0" stroke="#000" stroke-width="5.7" stroke-linecap="round"/>
<line x1="191.7" y1="2967.5" x2="200.8" y2="2967.5" stroke="#000" stroke-width="5.7" stroke-linecap="round"/>
<text class="b" x="183.5" y="2984.8" font-size="46" text-anchor="end">1.1</text>
<line x1="191.7" y1="3117.8" x2="200.8" y2="3117.8" stroke="#000" stroke-width="5.7" stroke-linecap="round"/>
<text class="b" x="183.5" y="3135.1" font-size="46" text-anchor="end">1.0</text>
<line x1="191.7" y1="3268.0" x2="200.8" y2="3268.0" stroke="#000" stroke-width="5.7" stroke-linecap="round"/>
<text class="b" x="183.5" y="3285.3" font-size="46" text-anchor="end">0.9</text>
<line x1="191.7" y1="3418.2" x2="200.8" y2="3418.2" stroke="#000" stroke-width="5.7" stroke-linecap="round"/>
<text class="b" x="183.5" y="3435.6" font-size="46" text-anchor="end">0.8</text>
<line x1="191.7" y1="3568.5" x2="200.8" y2="3568.5" stroke="#000" stroke-width="5.7" stroke-linecap="round"/>
<text class="b" x="183.5" y="3585.8" font-size="46" text-anchor="end">0.7</text>
<line x1="200.8" y1="3568.5" x2="811.0" y2="3568.5" stroke="#000" stroke-width="5.7" stroke-linecap="round"/>
<line x1="295.0" y1="3568.5" x2="295.0" y2="3579.2" stroke="#000" stroke-width="5.7" stroke-linecap="round"/>
<line x1="435.0" y1="3568.5" x2="435.0" y2="3579.2" stroke="#000" stroke-width="5.7" stroke-linecap="round"/>
<line x1="575.0" y1="3568.5" x2="575.0" y2="3579.2" stroke="#000" stroke-width="5.7" stroke-linecap="round"/>
<line x1="715.0" y1="3568.5" x2="715.0" y2="3579.2" stroke="#000" stroke-width="5.7" stroke-linecap="round"/>
<text class="b" x="311.3" y="3618.8" font-size="45" text-anchor="end" transform="rotate(-45 311.3 3618.8)">siNC</text>
<text class="b" x="451.3" y="3618.8" font-size="45" text-anchor="end" transform="rotate(-45 451.3 3618.8)">siFASN</text>
<text class="b" x="591.3" y="3618.8" font-size="45" text-anchor="end" transform="rotate(-45 591.3 3618.8)">siNC+Fer-1</text>
<text class="b" x="731.3" y="3618.8" font-size="45" text-anchor="end" transform="rotate(-45 731.3 3618.8)">siFASN+Fer-1</text>
<text class="b" x="506.0" y="2894.0" font-size="58" text-anchor="middle">CCK8</text>
<text class="b" x="102.5" y="3265.0" font-size="49" text-anchor="middle" transform="rotate(-90 102.5 3265.0)">Cell viability of control</text>
<text class="b" x="375.5" y="2982.5" font-size="40" text-anchor="middle">p=0.0069</text>
<line x1="302.0" y1="3009.0" x2="445.5" y2="3009.0" stroke="#000" stroke-width="9" stroke-linecap="round"/>
<text class="b" x="590.0" y="3020.0" font-size="40" text-anchor="middle">p=0.0428</text>
<line x1="432.0" y1="3046.5" x2="743.0" y2="3046.5" stroke="#000" stroke-width="9" stroke-linecap="round"/>
<path d="M1292.5 3572.5V3227.5H1377.0V3572.5" fill="none" stroke="#0A7C96" stroke-width="8" stroke-linejoin="miter"/>
<line x1="1334.8" y1="3193.0" x2="1334.8" y2="3254.5" stroke="#0A7C96" stroke-width="2.4"/>
<line x1="1311.2" y1="3193.0" x2="1358.2" y2="3193.0" stroke="#0A7C96" stroke-width="2.4"/>
<line x1="1311.2" y1="3254.5" x2="1358.2" y2="3254.5" stroke="#0A7C96" stroke-width="2.4"/>
<circle cx="1334.0" cy="3176.0" r="9" fill="#0A7C96"/>
<circle cx="1352.5" cy="3214.0" r="9" fill="#0A7C96"/>
<circle cx="1316.0" cy="3230.0" r="9" fill="#0A7C96"/>
<circle cx="1352.5" cy="3241.0" r="9" fill="#0A7C96"/>
<circle cx="1316.0" cy="3257.5" r="9" fill="#0A7C96"/>
<path d="M1432.5 3572.5V3117.5H1517.0V3572.5" fill="none" stroke="#FF6100" stroke-width="8" stroke-linejoin="miter"/>
<line x1="1474.8" y1="3041.5" x2="1474.8" y2="3185.0" stroke="#FF6100" stroke-width="2.4"/>
<line x1="1451.2" y1="3041.5" x2="1498.2" y2="3041.5" stroke="#FF6100" stroke-width="2.4"/>
<line x1="1451.2" y1="3185.0" x2="1498.2" y2="3185.0" stroke="#FF6100" stroke-width="2.4"/>
<rect x="1465.5" y="2991.0" width="18.0" height="18.0" fill="#FF6100"/>
<rect x="1465.5" y="3081.0" width="18.0" height="18.0" fill="#FF6100"/>
<rect x="1447.0" y="3136.0" width="18.0" height="18.0" fill="#FF6100"/>
<rect x="1484.0" y="3142.5" width="18.0" height="18.0" fill="#FF6100"/>
<rect x="1465.5" y="3171.0" width="18.0" height="18.0" fill="#FF6100"/>
<path d="M1572.5 3572.5V3292.0H1657.0V3572.5" fill="none" stroke="#0A7C96" stroke-width="8" stroke-linejoin="miter"/>
<line x1="1614.8" y1="3198.0" x2="1614.8" y2="3378.5" stroke="#0A7C96" stroke-width="2.4"/>
<line x1="1591.2" y1="3198.0" x2="1638.2" y2="3198.0" stroke="#0A7C96" stroke-width="2.4"/>
<line x1="1591.2" y1="3378.5" x2="1638.2" y2="3378.5" stroke="#0A7C96" stroke-width="2.4"/>
<circle cx="1614.5" cy="3166.0" r="9" fill="#0A7C96"/>
<circle cx="1614.5" cy="3248.5" r="9" fill="#0A7C96"/>
<circle cx="1614.5" cy="3283.5" r="9" fill="#0A7C96"/>
<circle cx="1614.5" cy="3336.0" r="9" fill="#0A7C96"/>
<circle cx="1614.5" cy="3405.0" r="9" fill="#0A7C96"/>
<path d="M1712.5 3572.5V3272.0H1797.0V3572.5" fill="none" stroke="#FF6100" stroke-width="8" stroke-linejoin="miter"/>
<line x1="1754.8" y1="3196.5" x2="1754.8" y2="3339.5" stroke="#FF6100" stroke-width="2.4"/>
<line x1="1731.2" y1="3196.5" x2="1778.2" y2="3196.5" stroke="#FF6100" stroke-width="2.4"/>
<line x1="1731.2" y1="3339.5" x2="1778.2" y2="3339.5" stroke="#FF6100" stroke-width="2.4"/>
<rect x="1745.5" y="3139.0" width="18.0" height="18.0" fill="#FF6100"/>
<rect x="1745.5" y="3250.0" width="18.0" height="18.0" fill="#FF6100"/>
<rect x="1745.5" y="3280.0" width="18.0" height="18.0" fill="#FF6100"/>
<rect x="1727.0" y="3316.0" width="18.0" height="18.0" fill="#FF6100"/>
<rect x="1763.5" y="3307.0" width="18.0" height="18.0" fill="#FF6100"/>
<line x1="1242.0" y1="2967.5" x2="1242.0" y2="3571.0" stroke="#000" stroke-width="5.7" stroke-linecap="round"/>
<line x1="1232.9" y1="2967.5" x2="1242.0" y2="2967.5" stroke="#000" stroke-width="5.7" stroke-linecap="round"/>
<text class="b" x="1223.5" y="2984.8" font-size="46" text-anchor="end">15</text>
<line x1="1232.9" y1="3167.8" x2="1242.0" y2="3167.8" stroke="#000" stroke-width="5.7" stroke-linecap="round"/>
<text class="b" x="1223.5" y="3185.1" font-size="46" text-anchor="end">10</text>
<line x1="1232.9" y1="3368.2" x2="1242.0" y2="3368.2" stroke="#000" stroke-width="5.7" stroke-linecap="round"/>
<text class="b" x="1223.5" y="3385.5" font-size="46" text-anchor="end">5</text>
<line x1="1232.9" y1="3568.5" x2="1242.0" y2="3568.5" stroke="#000" stroke-width="5.7" stroke-linecap="round"/>
<text class="b" x="1223.5" y="3585.8" font-size="46" text-anchor="end">0</text>
<line x1="1242.0" y1="3568.5" x2="1850.5" y2="3568.5" stroke="#000" stroke-width="5.7" stroke-linecap="round"/>
<line x1="1335.0" y1="3568.5" x2="1335.0" y2="3579.2" stroke="#000" stroke-width="5.7" stroke-linecap="round"/>
<line x1="1475.0" y1="3568.5" x2="1475.0" y2="3579.2" stroke="#000" stroke-width="5.7" stroke-linecap="round"/>
<line x1="1615.0" y1="3568.5" x2="1615.0" y2="3579.2" stroke="#000" stroke-width="5.7" stroke-linecap="round"/>
<line x1="1755.0" y1="3568.5" x2="1755.0" y2="3579.2" stroke="#000" stroke-width="5.7" stroke-linecap="round"/>
<text class="b" x="1351.3" y="3618.8" font-size="45" text-anchor="end" transform="rotate(-45 1351.3 3618.8)">siNC</text>
<text class="b" x="1491.3" y="3618.8" font-size="45" text-anchor="end" transform="rotate(-45 1491.3 3618.8)">siFASN</text>
<text class="b" x="1631.3" y="3618.8" font-size="45" text-anchor="end" transform="rotate(-45 1631.3 3618.8)">siNC+Fer-1</text>
<text class="b" x="1771.3" y="3618.8" font-size="45" text-anchor="end" transform="rotate(-45 1771.3 3618.8)">siFASN+Fer-1</text>
<text class="b" x="1544.5" y="2894.0" font-size="58" text-anchor="middle">MDA</text>
<text class="b" x="1091.0" y="3267.0" font-size="50" text-anchor="middle" transform="rotate(-90 1091.0 3267.0)">MDA concentration</text>
<text class="b" x="1147.5" y="3261.0" font-size="50" text-anchor="middle" transform="rotate(-90 1147.5 3261.0)">(μmol/mg)</text>
<text class="b" x="1400.0" y="2939.0" font-size="40" text-anchor="middle">p=0.0134</text>
<line x1="1334.5" y1="2966.0" x2="1462.0" y2="2966.0" stroke="#000" stroke-width="9" stroke-linecap="round"/>
<text class="b" x="1617.5" y="2939.0" font-size="40" text-anchor="middle">p=0.0092</text>
<line x1="1483.0" y1="2966.0" x2="1748.0" y2="2966.0" stroke="#000" stroke-width="9" stroke-linecap="round"/>
<text class="n" x="1685.5" y="3079.0" font-size="47" text-anchor="middle">ns</text>
<line x1="1612.0" y1="3107.5" x2="1759.0" y2="3107.5" stroke="#000" stroke-width="9" stroke-linecap="round"/>
<path d="M2327.5 3573.0V3273.0H2411.0V3573.0" fill="none" stroke="#0A7C96" stroke-width="8" stroke-linejoin="miter"/>
<circle cx="2331.5" cy="3270.0" r="9" fill="#0A7C96"/>
<circle cx="2369.0" cy="3268.5" r="9" fill="#0A7C96"/>
<circle cx="2407.5" cy="3270.0" r="9" fill="#0A7C96"/>
<path d="M2466.5 3573.0V3304.0H2551.0V3573.0" fill="none" stroke="#FF6100" stroke-width="8" stroke-linejoin="miter"/>
<line x1="2508.8" y1="3284.0" x2="2508.8" y2="3316.0" stroke="#FF6100" stroke-width="2.4"/>
<line x1="2485.2" y1="3284.0" x2="2532.2" y2="3284.0" stroke="#FF6100" stroke-width="2.4"/>
<line x1="2485.2" y1="3316.0" x2="2532.2" y2="3316.0" stroke="#FF6100" stroke-width="2.4"/>
<rect x="2482.0" y="3281.0" width="18.0" height="18.0" fill="#FF6100"/>
<rect x="2517.5" y="3281.0" width="18.0" height="18.0" fill="#FF6100"/>
<rect x="2500.0" y="3310.0" width="18.0" height="18.0" fill="#FF6100"/>
<path d="M2606.5 3573.0V3074.0H2691.0V3573.0" fill="none" stroke="#0A7C96" stroke-width="8" stroke-linejoin="miter"/>
<line x1="2648.8" y1="3016.5" x2="2648.8" y2="3123.0" stroke="#0A7C96" stroke-width="2.4"/>
<line x1="2625.2" y1="3016.5" x2="2672.2" y2="3016.5" stroke="#0A7C96" stroke-width="2.4"/>
<line x1="2625.2" y1="3123.0" x2="2672.2" y2="3123.0" stroke="#0A7C96" stroke-width="2.4"/>
<circle cx="2649.0" cy="3022.5" r="9" fill="#0A7C96"/>
<circle cx="2649.0" cy="3058.5" r="9" fill="#0A7C96"/>
<circle cx="2649.0" cy="3128.5" r="9" fill="#0A7C96"/>
<path d="M2746.5 3573.0V3096.5H2831.0V3573.0" fill="none" stroke="#FF6100" stroke-width="8" stroke-linejoin="miter"/>
<line x1="2788.8" y1="3010.0" x2="2788.8" y2="3175.0" stroke="#FF6100" stroke-width="2.4"/>
<line x1="2765.2" y1="3010.0" x2="2812.2" y2="3010.0" stroke="#FF6100" stroke-width="2.4"/>
<line x1="2765.2" y1="3175.0" x2="2812.2" y2="3175.0" stroke="#FF6100" stroke-width="2.4"/>
<rect x="2780.0" y="2994.5" width="18.0" height="18.0" fill="#FF6100"/>
<rect x="2780.0" y="3098.5" width="18.0" height="18.0" fill="#FF6100"/>
<rect x="2780.0" y="3157.0" width="18.0" height="18.0" fill="#FF6100"/>
<line x1="2277.0" y1="2968.5" x2="2277.0" y2="3571.5" stroke="#000" stroke-width="5.7" stroke-linecap="round"/>
<line x1="2267.9" y1="2968.5" x2="2277.0" y2="2968.5" stroke="#000" stroke-width="5.7" stroke-linecap="round"/>
<text class="b" x="2258.5" y="2985.8" font-size="46" text-anchor="end">2.0</text>
<line x1="2267.9" y1="3118.6" x2="2277.0" y2="3118.6" stroke="#000" stroke-width="5.7" stroke-linecap="round"/>
<text class="b" x="2258.5" y="3135.9" font-size="46" text-anchor="end">1.5</text>
<line x1="2267.9" y1="3268.7" x2="2277.0" y2="3268.7" stroke="#000" stroke-width="5.7" stroke-linecap="round"/>
<text class="b" x="2258.5" y="3286.0" font-size="46" text-anchor="end">1.0</text>
<line x1="2267.9" y1="3418.9" x2="2277.0" y2="3418.9" stroke="#000" stroke-width="5.7" stroke-linecap="round"/>
<text class="b" x="2258.5" y="3436.2" font-size="46" text-anchor="end">0.5</text>
<line x1="2267.9" y1="3569.0" x2="2277.0" y2="3569.0" stroke="#000" stroke-width="5.7" stroke-linecap="round"/>
<text class="b" x="2258.5" y="3586.3" font-size="46" text-anchor="end">0.0</text>
<line x1="2277.0" y1="3569.0" x2="2884.5" y2="3569.0" stroke="#000" stroke-width="5.7" stroke-linecap="round"/>
<line x1="2369.0" y1="3569.0" x2="2369.0" y2="3579.7" stroke="#000" stroke-width="5.7" stroke-linecap="round"/>
<line x1="2509.0" y1="3569.0" x2="2509.0" y2="3579.7" stroke="#000" stroke-width="5.7" stroke-linecap="round"/>
<line x1="2649.0" y1="3569.0" x2="2649.0" y2="3579.7" stroke="#000" stroke-width="5.7" stroke-linecap="round"/>
<line x1="2789.0" y1="3569.0" x2="2789.0" y2="3579.7" stroke="#000" stroke-width="5.7" stroke-linecap="round"/>
<text class="b" x="2385.3" y="3619.3" font-size="45" text-anchor="end" transform="rotate(-45 2385.3 3619.3)">siNC</text>
<text class="b" x="2525.3" y="3619.3" font-size="45" text-anchor="end" transform="rotate(-45 2525.3 3619.3)">siFASN</text>
<text class="b" x="2665.3" y="3619.3" font-size="45" text-anchor="end" transform="rotate(-45 2665.3 3619.3)">siNC+Fer-1</text>
<text class="b" x="2805.3" y="3619.3" font-size="45" text-anchor="end" transform="rotate(-45 2805.3 3619.3)">siFASN+Fer-1</text>
<text class="b" x="2580.5" y="2894.0" font-size="58" text-anchor="middle">Lipid ROS</text>
<text class="b" x="2172.5" y="3270.0" font-size="50" text-anchor="middle" transform="rotate(-90 2172.5 3270.0)">PE/FITC (Ratio)</text>
<text class="n" x="2718.8" y="2935.0" font-size="47" text-anchor="middle">ns</text>
<line x1="2650.5" y1="2963.5" x2="2787.0" y2="2963.5" stroke="#000" stroke-width="9" stroke-linecap="round"/>
<text class="b" x="2571.0" y="2962.5" font-size="40" text-anchor="middle">p=0.013</text>
<line x1="2353.0" y1="2990.0" x2="2787.0" y2="2990.0" stroke="#000" stroke-width="9" stroke-linecap="round"/>
<text class="b" x="2441.0" y="3206.5" font-size="40" text-anchor="middle">p=0.0334</text>
<line x1="2372.0" y1="3234.0" x2="2506.5" y2="3234.0" stroke="#000" stroke-width="9" stroke-linecap="round"/>
</svg>
</body>
</html>
